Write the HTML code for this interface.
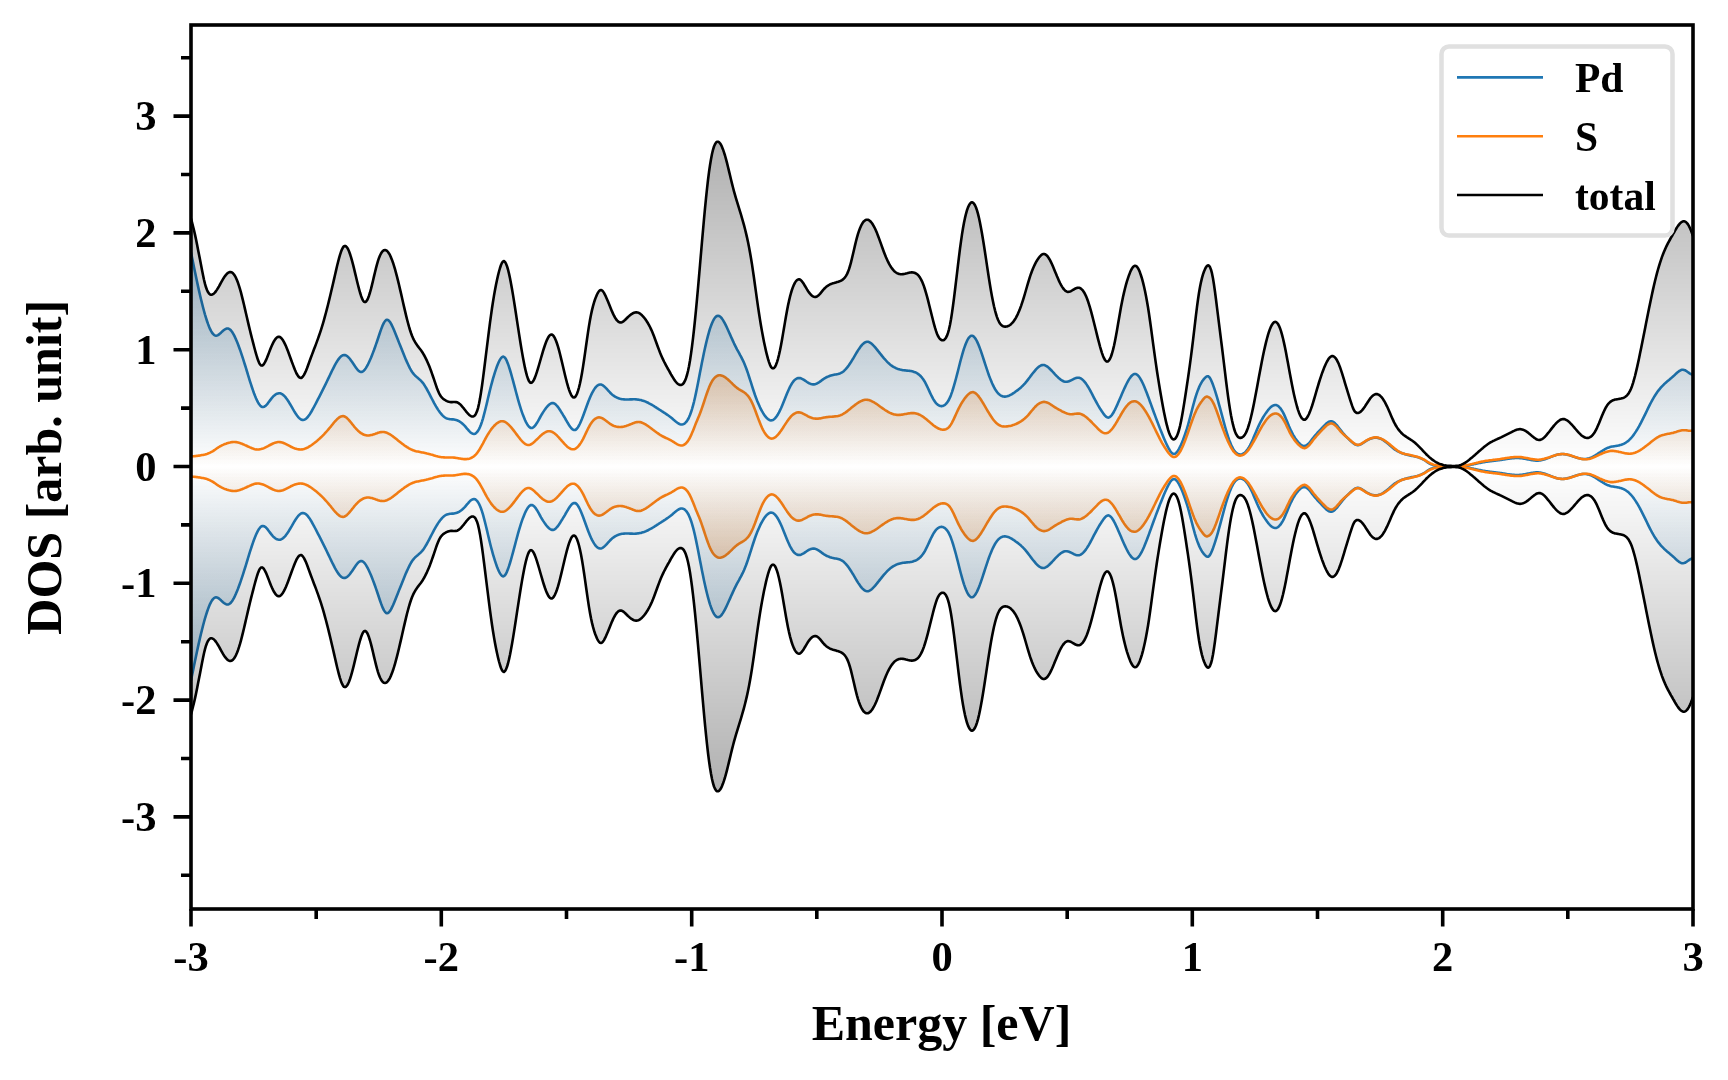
<!DOCTYPE html><html><head><meta charset="utf-8"><style>html,body{margin:0;padding:0;background:#fff;width:1728px;height:1080px;overflow:hidden;position:relative}</style></head><body><svg width="1728" height="1080" viewBox="0 0 1728 1080" style="position:absolute;left:0;top:0;will-change:transform">
<defs>
<clipPath id="clip"><rect x="191.0" y="25.0" width="1502.0" height="884.0"/></clipPath>
<linearGradient id="gT" gradientUnits="userSpaceOnUse" x1="0" y1="141.5" x2="0" y2="791.5"><stop offset="0" stop-color="#000000" stop-opacity="0.31"/><stop offset="0.5" stop-color="#000000" stop-opacity="0"/><stop offset="1" stop-color="#000000" stop-opacity="0.31"/></linearGradient>
<linearGradient id="gP" gradientUnits="userSpaceOnUse" x1="0" y1="251.5" x2="0" y2="681.5"><stop offset="0" stop-color="#1f77b4" stop-opacity="0.28"/><stop offset="0.5" stop-color="#1f77b4" stop-opacity="0"/><stop offset="1" stop-color="#1f77b4" stop-opacity="0.28"/></linearGradient>
<linearGradient id="gS" gradientUnits="userSpaceOnUse" x1="0" y1="375.5" x2="0" y2="557.5"><stop offset="0" stop-color="#ff7f0e" stop-opacity="0.25"/><stop offset="0.5" stop-color="#ff7f0e" stop-opacity="0"/><stop offset="1" stop-color="#ff7f0e" stop-opacity="0.25"/></linearGradient>
</defs>
<g clip-path="url(#clip)">
<path d="M191,252.5 L192,257.4 L193,262.3 L194,267.2 L195,272 L196,276.8 L197,281.5 L198,286.1 L199,290.6 L200,295 L201,299.2 L202,303.3 L203,307.3 L204,311 L205,314.6 L206,317.9 L207,321 L208,323.9 L209,326.5 L210,328.9 L211,330.9 L212,332.6 L213,333.9 L214,334.9 L215,335.5 L216,335.7 L217,335.5 L218,335.1 L219,334.4 L220,333.6 L221,332.7 L222,331.7 L223,330.8 L224,330 L225,329.3 L226,328.8 L227,328.5 L228,328.5 L229,328.9 L230,329.5 L231,330.5 L232,331.8 L233,333.4 L234,335.2 L235,337.2 L236,339.4 L237,341.8 L238,344.3 L239,347 L240,349.7 L241,352.6 L242,355.6 L243,358.7 L244,361.8 L245,365 L246,368.2 L247,371.5 L248,374.8 L249,378.1 L250,381.3 L251,384.4 L252,387.5 L253,390.4 L254,393.2 L255,395.8 L256,398.2 L257,400.4 L258,402.4 L259,404 L260,405.3 L261,406.3 L262,406.9 L263,407 L264,406.8 L265,406.2 L266,405.4 L267,404.3 L268,403.1 L269,401.7 L270,400.4 L271,399.1 L272,397.8 L273,396.7 L274,395.7 L275,394.9 L276,394.2 L277,393.7 L278,393.4 L279,393.2 L280,393.3 L281,393.6 L282,394.1 L283,394.8 L284,395.7 L285,396.7 L286,397.9 L287,399.3 L288,400.7 L289,402.3 L290,404 L291,405.7 L292,407.4 L293,409.2 L294,410.9 L295,412.5 L296,414.1 L297,415.5 L298,416.8 L299,417.9 L300,418.8 L301,419.5 L302,419.9 L303,420 L304,419.8 L305,419.4 L306,418.7 L307,417.8 L308,416.6 L309,415.3 L310,413.9 L311,412.3 L312,410.5 L313,408.7 L314,406.9 L315,405 L316,403.1 L317,401.2 L318,399.2 L319,397.3 L320,395.3 L321,393.3 L322,391.3 L323,389.3 L324,387.3 L325,385.3 L326,383.3 L327,381.2 L328,379.1 L329,377.1 L330,375 L331,372.9 L332,370.8 L333,368.8 L334,366.8 L335,364.9 L336,363.1 L337,361.5 L338,359.9 L339,358.6 L340,357.4 L341,356.4 L342,355.7 L343,355.2 L344,355 L345,355.1 L346,355.4 L347,356 L348,356.9 L349,357.9 L350,359 L351,360.4 L352,361.8 L353,363.3 L354,364.8 L355,366.3 L356,367.7 L357,369.1 L358,370.2 L359,371.1 L360,371.7 L361,372 L362,371.9 L363,371.4 L364,370.5 L365,369.4 L366,367.9 L367,366.2 L368,364.3 L369,362.2 L370,360 L371,357.7 L372,355.2 L373,352.6 L374,350 L375,347.2 L376,344.4 L377,341.5 L378,338.5 L379,335.5 L380,332.5 L381,329.6 L382,327 L383,324.6 L384,322.6 L385,321.1 L386,320.1 L387,319.8 L388,320 L389,320.8 L390,322 L391,323.6 L392,325.6 L393,327.7 L394,330.1 L395,332.5 L396,335 L397,337.5 L398,340 L399,342.6 L400,345.1 L401,347.6 L402,350.1 L403,352.6 L404,355.1 L405,357.5 L406,359.9 L407,362.1 L408,364.3 L409,366.4 L410,368.4 L411,370.2 L412,371.8 L413,373.2 L414,374.4 L415,375.5 L416,376.4 L417,377.3 L418,378.1 L419,379 L420,379.9 L421,380.8 L422,381.9 L423,383.1 L424,384.5 L425,386.1 L426,387.7 L427,389.5 L428,391.3 L429,393.2 L430,395.2 L431,397.1 L432,399 L433,400.9 L434,402.8 L435,404.6 L436,406.4 L437,408 L438,409.6 L439,411.1 L440,412.5 L441,413.7 L442,414.9 L443,415.9 L444,416.8 L445,417.5 L446,418.1 L447,418.5 L448,418.8 L449,419 L450,419.2 L451,419.3 L452,419.4 L453,419.4 L454,419.5 L455,419.7 L456,419.9 L457,420.3 L458,420.7 L459,421.2 L460,421.8 L461,422.5 L462,423.3 L463,424.2 L464,425.2 L465,426.2 L466,427.4 L467,428.6 L468,429.7 L469,430.9 L470,431.9 L471,432.7 L472,433.4 L473,433.8 L474,434 L475,433.8 L476,433.2 L477,432.2 L478,430.8 L479,429.1 L480,427 L481,424.5 L482,421.6 L483,418.3 L484,414.7 L485,410.8 L486,406.8 L487,402.6 L488,398.3 L489,394.1 L490,390 L491,386 L492,382.3 L493,378.7 L494,375.3 L495,372.1 L496,369.1 L497,366.3 L498,363.8 L499,361.5 L500,359.6 L501,358.1 L502,357.1 L503,356.6 L504,356.9 L505,357.8 L506,359.3 L507,361.4 L508,363.9 L509,366.8 L510,370 L511,373.4 L512,377 L513,380.6 L514,384.4 L515,388.2 L516,392 L517,395.7 L518,399.3 L519,402.8 L520,406.1 L521,409.3 L522,412.3 L523,415.1 L524,417.6 L525,420 L526,422.1 L527,423.9 L528,425.5 L529,426.7 L530,427.5 L531,428 L532,428 L533,427.6 L534,426.8 L535,425.7 L536,424.4 L537,422.8 L538,421.1 L539,419.3 L540,417.5 L541,415.7 L542,414 L543,412.4 L544,410.9 L545,409.4 L546,408 L547,406.8 L548,405.7 L549,404.8 L550,404 L551,403.4 L552,403.1 L553,403.1 L554,403.3 L555,403.9 L556,404.8 L557,405.8 L558,407.1 L559,408.5 L560,410 L561,411.6 L562,413.2 L563,414.9 L564,416.5 L565,418.2 L566,420 L567,421.7 L568,423.3 L569,425 L570,426.5 L571,427.8 L572,428.9 L573,429.6 L574,430 L575,430 L576,429.5 L577,428.5 L578,427.2 L579,425.5 L580,423.5 L581,421.2 L582,418.8 L583,416.2 L584,413.5 L585,410.8 L586,408 L587,405.2 L588,402.5 L589,399.9 L590,397.5 L591,395.2 L592,393.1 L593,391.3 L594,389.6 L595,388.1 L596,386.9 L597,385.9 L598,385.2 L599,384.7 L600,384.5 L601,384.5 L602,384.9 L603,385.4 L604,386.2 L605,387.1 L606,388.1 L607,389.2 L608,390.3 L609,391.4 L610,392.5 L611,393.5 L612,394.4 L613,395.2 L614,395.9 L615,396.6 L616,397.1 L617,397.6 L618,398.1 L619,398.4 L620,398.8 L621,399 L622,399.2 L623,399.3 L624,399.4 L625,399.5 L626,399.5 L627,399.5 L628,399.5 L629,399.5 L630,399.4 L631,399.4 L632,399.4 L633,399.3 L634,399.3 L635,399.3 L636,399.4 L637,399.5 L638,399.6 L639,399.7 L640,399.9 L641,400.1 L642,400.4 L643,400.7 L644,401 L645,401.4 L646,401.8 L647,402.3 L648,402.7 L649,403.3 L650,403.8 L651,404.3 L652,404.9 L653,405.5 L654,406.1 L655,406.8 L656,407.4 L657,408.1 L658,408.7 L659,409.4 L660,410 L661,410.6 L662,411.3 L663,411.9 L664,412.6 L665,413.2 L666,413.9 L667,414.6 L668,415.3 L669,416 L670,416.7 L671,417.5 L672,418.3 L673,419.2 L674,420.1 L675,420.9 L676,421.8 L677,422.5 L678,423.2 L679,423.8 L680,424.2 L681,424.5 L682,424.5 L683,424.3 L684,423.9 L685,423.2 L686,422.2 L687,420.9 L688,419.3 L689,417.3 L690,415 L691,412.3 L692,409.1 L693,405.6 L694,401.8 L695,397.5 L696,392.9 L697,388 L698,382.9 L699,377.7 L700,372.5 L701,367.4 L702,362.3 L703,357.4 L704,352.6 L705,348 L706,343.6 L707,339.5 L708,335.6 L709,332 L710,328.7 L711,325.8 L712,323.2 L713,321 L714,319.1 L715,317.6 L716,316.6 L717,315.9 L718,315.7 L719,315.9 L720,316.5 L721,317.4 L722,318.6 L723,320.1 L724,321.8 L725,323.7 L726,325.7 L727,327.8 L728,330 L729,332.2 L730,334.4 L731,336.7 L732,338.9 L733,341.1 L734,343.3 L735,345.3 L736,347.3 L737,349.3 L738,351.1 L739,352.9 L740,354.8 L741,356.6 L742,358.6 L743,360.6 L744,362.8 L745,365.2 L746,367.7 L747,370.5 L748,373.4 L749,376.5 L750,379.6 L751,382.7 L752,385.9 L753,389 L754,392 L755,395 L756,397.7 L757,400.4 L758,402.8 L759,405.1 L760,407.3 L761,409.3 L762,411.2 L763,412.9 L764,414.5 L765,415.9 L766,417.2 L767,418.3 L768,419.1 L769,419.8 L770,420.2 L771,420.4 L772,420.3 L773,420 L774,419.3 L775,418.4 L776,417.2 L777,415.8 L778,414.2 L779,412.4 L780,410.4 L781,408.3 L782,406 L783,403.6 L784,401.1 L785,398.6 L786,396.1 L787,393.6 L788,391.2 L789,389 L790,386.9 L791,385 L792,383.3 L793,381.9 L794,380.7 L795,379.7 L796,379 L797,378.4 L798,378.1 L799,378 L800,378.1 L801,378.3 L802,378.8 L803,379.3 L804,379.9 L805,380.6 L806,381.3 L807,382 L808,382.6 L809,383.2 L810,383.6 L811,384 L812,384.3 L813,384.4 L814,384.4 L815,384.3 L816,383.9 L817,383.5 L818,382.9 L819,382.3 L820,381.6 L821,380.9 L822,380.1 L823,379.4 L824,378.7 L825,378.1 L826,377.5 L827,377 L828,376.6 L829,376.2 L830,375.8 L831,375.5 L832,375.2 L833,375 L834,374.8 L835,374.6 L836,374.4 L837,374.2 L838,374 L839,373.7 L840,373.4 L841,372.9 L842,372.4 L843,371.7 L844,370.9 L845,369.9 L846,368.9 L847,367.7 L848,366.4 L849,365 L850,363.5 L851,362 L852,360.4 L853,358.8 L854,357.1 L855,355.4 L856,353.7 L857,352 L858,350.4 L859,348.9 L860,347.5 L861,346.1 L862,344.9 L863,343.9 L864,343.1 L865,342.4 L866,342 L867,341.8 L868,341.8 L869,342.1 L870,342.6 L871,343.3 L872,344.1 L873,345 L874,346.1 L875,347.2 L876,348.4 L877,349.6 L878,350.9 L879,352.1 L880,353.4 L881,354.6 L882,355.9 L883,357.1 L884,358.3 L885,359.4 L886,360.5 L887,361.6 L888,362.6 L889,363.5 L890,364.4 L891,365.2 L892,365.9 L893,366.6 L894,367.2 L895,367.7 L896,368.2 L897,368.6 L898,369 L899,369.3 L900,369.6 L901,369.8 L902,370 L903,370.2 L904,370.3 L905,370.4 L906,370.5 L907,370.6 L908,370.7 L909,370.8 L910,370.9 L911,371.1 L912,371.3 L913,371.6 L914,371.9 L915,372.2 L916,372.7 L917,373.2 L918,373.9 L919,374.6 L920,375.5 L921,376.5 L922,377.7 L923,379 L924,380.5 L925,382.2 L926,384.1 L927,386.1 L928,388.2 L929,390.4 L930,392.6 L931,394.7 L932,396.7 L933,398.6 L934,400.3 L935,401.8 L936,403.1 L937,404.1 L938,404.9 L939,405.5 L940,405.9 L941,406.1 L942,406.1 L943,405.9 L944,405.4 L945,404.8 L946,403.9 L947,402.7 L948,401.3 L949,399.5 L950,397.4 L951,394.9 L952,392.1 L953,389 L954,385.7 L955,382.2 L956,378.5 L957,374.6 L958,370.7 L959,366.8 L960,362.8 L961,359 L962,355.3 L963,351.9 L964,348.7 L965,345.8 L966,343.2 L967,340.9 L968,339 L969,337.6 L970,336.5 L971,335.8 L972,335.7 L973,336 L974,336.8 L975,338 L976,339.5 L977,341.4 L978,343.6 L979,346 L980,348.6 L981,351.4 L982,354.4 L983,357.4 L984,360.5 L985,363.6 L986,366.7 L987,369.7 L988,372.7 L989,375.5 L990,378.1 L991,380.6 L992,383 L993,385.2 L994,387.2 L995,389 L996,390.6 L997,392 L998,393.2 L999,394.1 L1000,395 L1001,395.6 L1002,396.1 L1003,396.4 L1004,396.6 L1005,396.6 L1006,396.5 L1007,396.3 L1008,396 L1009,395.7 L1010,395.2 L1011,394.7 L1012,394.1 L1013,393.4 L1014,392.8 L1015,392.1 L1016,391.3 L1017,390.6 L1018,389.9 L1019,389.1 L1020,388.2 L1021,387.4 L1022,386.4 L1023,385.5 L1024,384.4 L1025,383.3 L1026,382.1 L1027,380.9 L1028,379.6 L1029,378.3 L1030,377 L1031,375.6 L1032,374.3 L1033,373 L1034,371.8 L1035,370.6 L1036,369.4 L1037,368.4 L1038,367.4 L1039,366.6 L1040,366 L1041,365.4 L1042,365.1 L1043,365 L1044,365 L1045,365.3 L1046,365.8 L1047,366.4 L1048,367.1 L1049,368 L1050,369 L1051,370 L1052,371 L1053,372.1 L1054,373.2 L1055,374.3 L1056,375.3 L1057,376.4 L1058,377.3 L1059,378.3 L1060,379.1 L1061,379.9 L1062,380.5 L1063,381 L1064,381.5 L1065,381.7 L1066,381.8 L1067,381.8 L1068,381.6 L1069,381.2 L1070,380.8 L1071,380.3 L1072,379.8 L1073,379.3 L1074,378.8 L1075,378.4 L1076,378 L1077,377.8 L1078,377.7 L1079,377.8 L1080,378.1 L1081,378.5 L1082,379.2 L1083,380.1 L1084,381.1 L1085,382.3 L1086,383.6 L1087,385.1 L1088,386.7 L1089,388.4 L1090,390.2 L1091,392 L1092,393.9 L1093,395.8 L1094,397.8 L1095,399.7 L1096,401.5 L1097,403.3 L1098,405.1 L1099,406.8 L1100,408.5 L1101,410 L1102,411.6 L1103,413 L1104,414.4 L1105,415.6 L1106,416.6 L1107,417.3 L1108,417.6 L1109,417.5 L1110,416.9 L1111,416 L1112,414.8 L1113,413.3 L1114,411.5 L1115,409.6 L1116,407.5 L1117,405.4 L1118,403.1 L1119,400.8 L1120,398.5 L1121,396.2 L1122,393.8 L1123,391.5 L1124,389.3 L1125,387.1 L1126,385 L1127,383 L1128,381.1 L1129,379.4 L1130,377.9 L1131,376.5 L1132,375.5 L1133,374.6 L1134,374.1 L1135,373.9 L1136,374.1 L1137,374.6 L1138,375.5 L1139,376.6 L1140,378.1 L1141,379.8 L1142,381.7 L1143,383.8 L1144,386 L1145,388.4 L1146,390.9 L1147,393.5 L1148,396.2 L1149,398.9 L1150,401.7 L1151,404.4 L1152,407.2 L1153,410 L1154,412.7 L1155,415.4 L1156,418.1 L1157,420.7 L1158,423.4 L1159,426 L1160,428.6 L1161,431.1 L1162,433.6 L1163,436.1 L1164,438.5 L1165,440.8 L1166,443 L1167,445.1 L1168,447.1 L1169,449 L1170,450.7 L1171,452 L1172,453.1 L1173,453.7 L1174,453.9 L1175,453.7 L1176,452.9 L1177,451.9 L1178,450.5 L1179,448.8 L1180,446.8 L1181,444.7 L1182,442.4 L1183,440 L1184,437.3 L1185,434.5 L1186,431.5 L1187,428.4 L1188,425 L1189,421.4 L1190,417.7 L1191,413.9 L1192,410 L1193,406.2 L1194,402.5 L1195,398.9 L1196,395.6 L1197,392.6 L1198,389.9 L1199,387.4 L1200,385.3 L1201,383.3 L1202,381.6 L1203,380.2 L1204,378.9 L1205,377.8 L1206,376.8 L1207,376.3 L1208,376.2 L1209,376.8 L1210,378.1 L1211,379.9 L1212,382.2 L1213,384.8 L1214,387.7 L1215,390.7 L1216,393.9 L1217,397.2 L1218,400.7 L1219,404.3 L1220,407.9 L1221,411.7 L1222,415.4 L1223,419.2 L1224,422.9 L1225,426.5 L1226,430 L1227,433.3 L1228,436.5 L1229,439.4 L1230,442.1 L1231,444.5 L1232,446.7 L1233,448.6 L1234,450.2 L1235,451.6 L1236,452.6 L1237,453.4 L1238,454 L1239,454.4 L1240,454.5 L1241,454.5 L1242,454.2 L1243,453.8 L1244,453.2 L1245,452.4 L1246,451.4 L1247,450.2 L1248,448.8 L1249,447.2 L1250,445.4 L1251,443.4 L1252,441.2 L1253,439 L1254,436.6 L1255,434.3 L1256,431.9 L1257,429.5 L1258,427.3 L1259,425.1 L1260,423 L1261,421.1 L1262,419.3 L1263,417.5 L1264,415.9 L1265,414.4 L1266,412.9 L1267,411.5 L1268,410.2 L1269,409 L1270,407.9 L1271,406.9 L1272,406.2 L1273,405.6 L1274,405.2 L1275,405 L1276,405 L1277,405.4 L1278,405.9 L1279,406.8 L1280,407.8 L1281,409.1 L1282,410.7 L1283,412.4 L1284,414.4 L1285,416.6 L1286,418.9 L1287,421.3 L1288,423.7 L1289,426.2 L1290,428.5 L1291,430.7 L1292,432.7 L1293,434.6 L1294,436.3 L1295,437.9 L1296,439.4 L1297,440.7 L1298,441.9 L1299,443 L1300,444 L1301,444.8 L1302,445.4 L1303,445.8 L1304,446 L1305,445.9 L1306,445.6 L1307,444.9 L1308,444.1 L1309,443.1 L1310,442 L1311,440.7 L1312,439.4 L1313,438.2 L1314,436.9 L1315,435.7 L1316,434.5 L1317,433.4 L1318,432.2 L1319,431.2 L1320,430.1 L1321,429 L1322,427.9 L1323,426.9 L1324,425.8 L1325,424.8 L1326,423.8 L1327,423 L1328,422.3 L1329,421.7 L1330,421.4 L1331,421.3 L1332,421.4 L1333,421.8 L1334,422.4 L1335,423.3 L1336,424.3 L1337,425.4 L1338,426.7 L1339,428 L1340,429.3 L1341,430.6 L1342,431.9 L1343,433.1 L1344,434.2 L1345,435.3 L1346,436.4 L1347,437.4 L1348,438.4 L1349,439.3 L1350,440.3 L1351,441.2 L1352,442.1 L1353,443 L1354,443.7 L1355,444.3 L1356,444.8 L1357,445.1 L1358,445.1 L1359,445 L1360,444.6 L1361,444.2 L1362,443.6 L1363,443 L1364,442.3 L1365,441.7 L1366,441 L1367,440.4 L1368,439.9 L1369,439.4 L1370,438.9 L1371,438.5 L1372,438.2 L1373,438 L1374,437.8 L1375,437.7 L1376,437.7 L1377,437.7 L1378,437.9 L1379,438.2 L1380,438.5 L1381,438.9 L1382,439.4 L1383,440 L1384,440.7 L1385,441.4 L1386,442.1 L1387,442.9 L1388,443.8 L1389,444.6 L1390,445.5 L1391,446.4 L1392,447.3 L1393,448.1 L1394,448.9 L1395,449.6 L1396,450.2 L1397,450.8 L1398,451.4 L1399,451.9 L1400,452.4 L1401,452.8 L1402,453.2 L1403,453.5 L1404,453.8 L1405,454.2 L1406,454.4 L1407,454.7 L1408,455 L1409,455.2 L1410,455.4 L1411,455.7 L1412,455.9 L1413,456.1 L1414,456.3 L1415,456.5 L1416,456.8 L1417,457 L1418,457.3 L1419,457.6 L1420,458 L1421,458.3 L1422,458.8 L1423,459.3 L1424,459.9 L1425,460.5 L1426,461.2 L1427,461.9 L1428,462.6 L1429,463.3 L1430,463.8 L1431,464.2 L1432,464.6 L1433,464.9 L1434,465.2 L1435,465.4 L1436,465.6 L1437,465.7 L1438,465.8 L1439,465.8 L1440,465.9 L1441,465.9 L1442,465.9 L1443,466 L1444,466 L1445,466.1 L1446,466.2 L1447,466.2 L1448,466.3 L1449,466.3 L1450,466.4 L1451,466.5 L1452,466.5 L1453,466.5 L1454,466.5 L1455,466.5 L1456,466.5 L1457,466.5 L1458,466.5 L1459,466.4 L1460,466.4 L1461,466.3 L1462,466.2 L1463,466.1 L1464,466 L1465,465.8 L1466,465.7 L1467,465.5 L1468,465.4 L1469,465.2 L1470,465 L1471,464.8 L1472,464.6 L1473,464.4 L1474,464.1 L1475,463.9 L1476,463.7 L1477,463.5 L1478,463.3 L1479,463.1 L1480,462.9 L1481,462.7 L1482,462.5 L1483,462.3 L1484,462.1 L1485,462 L1486,461.8 L1487,461.7 L1488,461.5 L1489,461.4 L1490,461.3 L1491,461.1 L1492,461 L1493,460.9 L1494,460.8 L1495,460.7 L1496,460.5 L1497,460.4 L1498,460.3 L1499,460.2 L1500,460 L1501,459.9 L1502,459.7 L1503,459.6 L1504,459.4 L1505,459.2 L1506,459.1 L1507,458.9 L1508,458.8 L1509,458.6 L1510,458.5 L1511,458.4 L1512,458.3 L1513,458.2 L1514,458.1 L1515,458 L1516,458 L1517,458 L1518,458 L1519,458 L1520,458.1 L1521,458.2 L1522,458.3 L1523,458.5 L1524,458.6 L1525,458.8 L1526,459 L1527,459.2 L1528,459.4 L1529,459.6 L1530,459.8 L1531,460 L1532,460.1 L1533,460.3 L1534,460.4 L1535,460.5 L1536,460.6 L1537,460.6 L1538,460.6 L1539,460.5 L1540,460.4 L1541,460.2 L1542,460 L1543,459.8 L1544,459.5 L1545,459.2 L1546,458.8 L1547,458.4 L1548,458.1 L1549,457.7 L1550,457.3 L1551,456.9 L1552,456.5 L1553,456.1 L1554,455.7 L1555,455.4 L1556,455.1 L1557,454.8 L1558,454.5 L1559,454.3 L1560,454.2 L1561,454.1 L1562,454 L1563,454 L1564,454.1 L1565,454.2 L1566,454.4 L1567,454.6 L1568,454.9 L1569,455.1 L1570,455.4 L1571,455.7 L1572,456.1 L1573,456.4 L1574,456.7 L1575,457.1 L1576,457.4 L1577,457.7 L1578,458 L1579,458.3 L1580,458.5 L1581,458.7 L1582,458.9 L1583,459 L1584,459 L1585,459 L1586,459 L1587,458.8 L1588,458.6 L1589,458.4 L1590,458 L1591,457.6 L1592,457.2 L1593,456.7 L1594,456.1 L1595,455.5 L1596,454.9 L1597,454.3 L1598,453.6 L1599,452.9 L1600,452.3 L1601,451.6 L1602,451 L1603,450.4 L1604,449.8 L1605,449.2 L1606,448.7 L1607,448.2 L1608,447.7 L1609,447.4 L1610,447.1 L1611,446.8 L1612,446.6 L1613,446.4 L1614,446.2 L1615,446.1 L1616,445.9 L1617,445.7 L1618,445.6 L1619,445.4 L1620,445.1 L1621,444.9 L1622,444.5 L1623,444.1 L1624,443.7 L1625,443.2 L1626,442.5 L1627,441.8 L1628,441.1 L1629,440.2 L1630,439.2 L1631,438.1 L1632,437 L1633,435.7 L1634,434.4 L1635,432.9 L1636,431.4 L1637,429.8 L1638,428.1 L1639,426.4 L1640,424.5 L1641,422.7 L1642,420.7 L1643,418.7 L1644,416.7 L1645,414.6 L1646,412.6 L1647,410.5 L1648,408.4 L1649,406.4 L1650,404.4 L1651,402.5 L1652,400.6 L1653,398.8 L1654,397.1 L1655,395.5 L1656,394 L1657,392.5 L1658,391.1 L1659,389.8 L1660,388.6 L1661,387.4 L1662,386.3 L1663,385.3 L1664,384.3 L1665,383.4 L1666,382.5 L1667,381.6 L1668,380.8 L1669,380 L1670,379.1 L1671,378.3 L1672,377.4 L1673,376.5 L1674,375.6 L1675,374.7 L1676,373.7 L1677,372.8 L1678,372 L1679,371.2 L1680,370.6 L1681,370.1 L1682,369.8 L1683,369.7 L1684,369.9 L1685,370.2 L1686,370.8 L1687,371.5 L1688,372.2 L1689,372.9 L1690,373.6 L1691,374.1 L1692,374.6 L1693,375" fill="none" stroke="#1f77b4" stroke-width="2.6" stroke-linejoin="round"/>
<path d="M191,680.5 L192,675.6 L193,670.7 L194,665.8 L195,661 L196,656.2 L197,651.5 L198,646.9 L199,642.4 L200,638 L201,633.8 L202,629.7 L203,625.7 L204,622 L205,618.4 L206,615.1 L207,612 L208,609.1 L209,606.5 L210,604.1 L211,602.1 L212,600.4 L213,599.1 L214,598.1 L215,597.5 L216,597.3 L217,597.5 L218,597.9 L219,598.6 L220,599.4 L221,600.3 L222,601.3 L223,602.2 L224,603 L225,603.7 L226,604.2 L227,604.5 L228,604.5 L229,604.1 L230,603.5 L231,602.5 L232,601.2 L233,599.6 L234,597.8 L235,595.8 L236,593.6 L237,591.2 L238,588.7 L239,586 L240,583.3 L241,580.4 L242,577.4 L243,574.3 L244,571.2 L245,568 L246,564.8 L247,561.5 L248,558.2 L249,554.9 L250,551.7 L251,548.6 L252,545.5 L253,542.6 L254,539.8 L255,537.2 L256,534.8 L257,532.6 L258,530.6 L259,529 L260,527.7 L261,526.7 L262,526.1 L263,526 L264,526.2 L265,526.8 L266,527.6 L267,528.7 L268,529.9 L269,531.3 L270,532.6 L271,533.9 L272,535.2 L273,536.3 L274,537.3 L275,538.1 L276,538.8 L277,539.3 L278,539.6 L279,539.8 L280,539.7 L281,539.4 L282,538.9 L283,538.2 L284,537.3 L285,536.3 L286,535.1 L287,533.7 L288,532.3 L289,530.7 L290,529 L291,527.3 L292,525.6 L293,523.8 L294,522.1 L295,520.5 L296,518.9 L297,517.5 L298,516.2 L299,515.1 L300,514.2 L301,513.5 L302,513.1 L303,513 L304,513.2 L305,513.6 L306,514.3 L307,515.2 L308,516.4 L309,517.7 L310,519.1 L311,520.7 L312,522.5 L313,524.3 L314,526.1 L315,528 L316,529.9 L317,531.8 L318,533.8 L319,535.7 L320,537.7 L321,539.7 L322,541.7 L323,543.7 L324,545.7 L325,547.7 L326,549.7 L327,551.8 L328,553.9 L329,555.9 L330,558 L331,560.1 L332,562.2 L333,564.2 L334,566.2 L335,568.1 L336,569.9 L337,571.5 L338,573.1 L339,574.4 L340,575.6 L341,576.6 L342,577.3 L343,577.8 L344,578 L345,577.9 L346,577.6 L347,577 L348,576.1 L349,575.1 L350,574 L351,572.6 L352,571.2 L353,569.7 L354,568.2 L355,566.7 L356,565.3 L357,563.9 L358,562.8 L359,561.9 L360,561.3 L361,561 L362,561.1 L363,561.6 L364,562.5 L365,563.6 L366,565.1 L367,566.8 L368,568.7 L369,570.8 L370,573 L371,575.3 L372,577.8 L373,580.4 L374,583 L375,585.8 L376,588.6 L377,591.5 L378,594.5 L379,597.5 L380,600.5 L381,603.4 L382,606 L383,608.4 L384,610.4 L385,611.9 L386,612.9 L387,613.2 L388,613 L389,612.2 L390,611 L391,609.4 L392,607.4 L393,605.3 L394,602.9 L395,600.5 L396,598 L397,595.5 L398,593 L399,590.4 L400,587.9 L401,585.4 L402,582.9 L403,580.4 L404,577.9 L405,575.5 L406,573.1 L407,570.9 L408,568.7 L409,566.6 L410,564.6 L411,562.8 L412,561.2 L413,559.8 L414,558.6 L415,557.5 L416,556.6 L417,555.7 L418,554.9 L419,554 L420,553.1 L421,552.2 L422,551.1 L423,549.9 L424,548.5 L425,546.9 L426,545.3 L427,543.5 L428,541.7 L429,539.8 L430,537.8 L431,535.9 L432,534 L433,532.1 L434,530.2 L435,528.4 L436,526.6 L437,525 L438,523.4 L439,521.9 L440,520.5 L441,519.3 L442,518.1 L443,517.1 L444,516.2 L445,515.5 L446,514.9 L447,514.5 L448,514.2 L449,514 L450,513.8 L451,513.7 L452,513.6 L453,513.6 L454,513.5 L455,513.3 L456,513.1 L457,512.7 L458,512.3 L459,511.8 L460,511.2 L461,510.5 L462,509.7 L463,508.8 L464,507.8 L465,506.8 L466,505.6 L467,504.4 L468,503.3 L469,502.1 L470,501.1 L471,500.3 L472,499.6 L473,499.2 L474,499 L475,499.2 L476,499.8 L477,500.8 L478,502.2 L479,503.9 L480,506 L481,508.5 L482,511.4 L483,514.7 L484,518.3 L485,522.2 L486,526.2 L487,530.4 L488,534.7 L489,538.9 L490,543 L491,547 L492,550.7 L493,554.3 L494,557.7 L495,560.9 L496,563.9 L497,566.7 L498,569.2 L499,571.5 L500,573.4 L501,574.9 L502,575.9 L503,576.4 L504,576.1 L505,575.2 L506,573.7 L507,571.6 L508,569.1 L509,566.2 L510,563 L511,559.6 L512,556 L513,552.4 L514,548.6 L515,544.8 L516,541 L517,537.3 L518,533.7 L519,530.2 L520,526.9 L521,523.7 L522,520.7 L523,517.9 L524,515.4 L525,513 L526,510.9 L527,509.1 L528,507.5 L529,506.3 L530,505.5 L531,505 L532,505 L533,505.4 L534,506.2 L535,507.3 L536,508.6 L537,510.2 L538,511.9 L539,513.7 L540,515.5 L541,517.3 L542,519 L543,520.6 L544,522.1 L545,523.6 L546,525 L547,526.2 L548,527.3 L549,528.2 L550,529 L551,529.6 L552,529.9 L553,529.9 L554,529.7 L555,529.1 L556,528.2 L557,527.2 L558,525.9 L559,524.5 L560,523 L561,521.4 L562,519.8 L563,518.1 L564,516.5 L565,514.8 L566,513 L567,511.3 L568,509.7 L569,508 L570,506.5 L571,505.2 L572,504.1 L573,503.4 L574,503 L575,503 L576,503.5 L577,504.5 L578,505.8 L579,507.5 L580,509.5 L581,511.8 L582,514.2 L583,516.8 L584,519.5 L585,522.2 L586,525 L587,527.8 L588,530.5 L589,533.1 L590,535.5 L591,537.8 L592,539.9 L593,541.7 L594,543.4 L595,544.9 L596,546.1 L597,547.1 L598,547.8 L599,548.3 L600,548.5 L601,548.5 L602,548.1 L603,547.6 L604,546.8 L605,545.9 L606,544.9 L607,543.8 L608,542.7 L609,541.6 L610,540.5 L611,539.5 L612,538.6 L613,537.8 L614,537.1 L615,536.4 L616,535.9 L617,535.4 L618,534.9 L619,534.6 L620,534.2 L621,534 L622,533.8 L623,533.7 L624,533.6 L625,533.5 L626,533.5 L627,533.5 L628,533.5 L629,533.5 L630,533.6 L631,533.6 L632,533.6 L633,533.7 L634,533.7 L635,533.7 L636,533.6 L637,533.5 L638,533.4 L639,533.3 L640,533.1 L641,532.9 L642,532.6 L643,532.3 L644,532 L645,531.6 L646,531.2 L647,530.7 L648,530.3 L649,529.7 L650,529.2 L651,528.7 L652,528.1 L653,527.5 L654,526.9 L655,526.2 L656,525.6 L657,524.9 L658,524.3 L659,523.6 L660,523 L661,522.4 L662,521.7 L663,521.1 L664,520.4 L665,519.8 L666,519.1 L667,518.4 L668,517.7 L669,517 L670,516.3 L671,515.5 L672,514.7 L673,513.8 L674,512.9 L675,512.1 L676,511.2 L677,510.5 L678,509.8 L679,509.2 L680,508.8 L681,508.5 L682,508.5 L683,508.7 L684,509.1 L685,509.8 L686,510.8 L687,512.1 L688,513.7 L689,515.7 L690,518 L691,520.7 L692,523.9 L693,527.4 L694,531.2 L695,535.5 L696,540.1 L697,545 L698,550.1 L699,555.3 L700,560.5 L701,565.6 L702,570.7 L703,575.6 L704,580.4 L705,585 L706,589.4 L707,593.5 L708,597.4 L709,601 L710,604.3 L711,607.2 L712,609.8 L713,612 L714,613.9 L715,615.4 L716,616.4 L717,617.1 L718,617.3 L719,617.1 L720,616.5 L721,615.6 L722,614.4 L723,612.9 L724,611.2 L725,609.3 L726,607.3 L727,605.2 L728,603 L729,600.8 L730,598.6 L731,596.3 L732,594.1 L733,591.9 L734,589.7 L735,587.7 L736,585.7 L737,583.7 L738,581.9 L739,580.1 L740,578.2 L741,576.4 L742,574.4 L743,572.4 L744,570.2 L745,567.8 L746,565.3 L747,562.5 L748,559.6 L749,556.5 L750,553.4 L751,550.3 L752,547.1 L753,544 L754,541 L755,538 L756,535.3 L757,532.6 L758,530.2 L759,527.9 L760,525.7 L761,523.7 L762,521.8 L763,520.1 L764,518.5 L765,517.1 L766,515.8 L767,514.7 L768,513.9 L769,513.2 L770,512.8 L771,512.6 L772,512.7 L773,513 L774,513.7 L775,514.6 L776,515.8 L777,517.2 L778,518.8 L779,520.6 L780,522.6 L781,524.7 L782,527 L783,529.4 L784,531.9 L785,534.4 L786,536.9 L787,539.4 L788,541.8 L789,544 L790,546.1 L791,548 L792,549.7 L793,551.1 L794,552.3 L795,553.3 L796,554 L797,554.6 L798,554.9 L799,555 L800,554.9 L801,554.7 L802,554.2 L803,553.7 L804,553.1 L805,552.4 L806,551.7 L807,551 L808,550.4 L809,549.8 L810,549.4 L811,549 L812,548.7 L813,548.6 L814,548.6 L815,548.7 L816,549.1 L817,549.5 L818,550.1 L819,550.7 L820,551.4 L821,552.1 L822,552.9 L823,553.6 L824,554.3 L825,554.9 L826,555.5 L827,556 L828,556.4 L829,556.8 L830,557.2 L831,557.5 L832,557.8 L833,558 L834,558.2 L835,558.4 L836,558.6 L837,558.8 L838,559 L839,559.3 L840,559.6 L841,560.1 L842,560.6 L843,561.3 L844,562.1 L845,563.1 L846,564.1 L847,565.3 L848,566.6 L849,568 L850,569.5 L851,571 L852,572.6 L853,574.2 L854,575.9 L855,577.6 L856,579.3 L857,581 L858,582.6 L859,584.1 L860,585.5 L861,586.9 L862,588.1 L863,589.1 L864,589.9 L865,590.6 L866,591 L867,591.2 L868,591.2 L869,590.9 L870,590.4 L871,589.7 L872,588.9 L873,588 L874,586.9 L875,585.8 L876,584.6 L877,583.4 L878,582.1 L879,580.9 L880,579.6 L881,578.4 L882,577.1 L883,575.9 L884,574.7 L885,573.6 L886,572.5 L887,571.4 L888,570.4 L889,569.5 L890,568.6 L891,567.8 L892,567.1 L893,566.4 L894,565.8 L895,565.3 L896,564.8 L897,564.4 L898,564 L899,563.7 L900,563.4 L901,563.2 L902,563 L903,562.8 L904,562.7 L905,562.6 L906,562.5 L907,562.4 L908,562.3 L909,562.2 L910,562.1 L911,561.9 L912,561.7 L913,561.4 L914,561.1 L915,560.8 L916,560.3 L917,559.8 L918,559.1 L919,558.4 L920,557.5 L921,556.5 L922,555.3 L923,554 L924,552.5 L925,550.8 L926,548.9 L927,546.9 L928,544.8 L929,542.6 L930,540.4 L931,538.3 L932,536.3 L933,534.4 L934,532.7 L935,531.2 L936,529.9 L937,528.9 L938,528.1 L939,527.5 L940,527.1 L941,526.9 L942,526.9 L943,527.1 L944,527.6 L945,528.2 L946,529.1 L947,530.3 L948,531.7 L949,533.5 L950,535.6 L951,538.1 L952,540.9 L953,544 L954,547.3 L955,550.8 L956,554.5 L957,558.4 L958,562.3 L959,566.2 L960,570.2 L961,574 L962,577.7 L963,581.1 L964,584.3 L965,587.2 L966,589.8 L967,592.1 L968,594 L969,595.4 L970,596.5 L971,597.2 L972,597.3 L973,597 L974,596.2 L975,595 L976,593.5 L977,591.6 L978,589.4 L979,587 L980,584.4 L981,581.6 L982,578.6 L983,575.6 L984,572.5 L985,569.4 L986,566.3 L987,563.3 L988,560.3 L989,557.5 L990,554.9 L991,552.4 L992,550 L993,547.8 L994,545.8 L995,544 L996,542.4 L997,541 L998,539.8 L999,538.9 L1000,538 L1001,537.4 L1002,536.9 L1003,536.6 L1004,536.4 L1005,536.4 L1006,536.5 L1007,536.7 L1008,537 L1009,537.3 L1010,537.8 L1011,538.3 L1012,538.9 L1013,539.6 L1014,540.2 L1015,540.9 L1016,541.7 L1017,542.4 L1018,543.1 L1019,543.9 L1020,544.8 L1021,545.6 L1022,546.6 L1023,547.5 L1024,548.6 L1025,549.7 L1026,550.9 L1027,552.1 L1028,553.4 L1029,554.7 L1030,556 L1031,557.4 L1032,558.7 L1033,560 L1034,561.2 L1035,562.4 L1036,563.6 L1037,564.6 L1038,565.6 L1039,566.4 L1040,567 L1041,567.6 L1042,567.9 L1043,568 L1044,568 L1045,567.7 L1046,567.2 L1047,566.6 L1048,565.9 L1049,565 L1050,564 L1051,563 L1052,562 L1053,560.9 L1054,559.8 L1055,558.7 L1056,557.7 L1057,556.6 L1058,555.7 L1059,554.7 L1060,553.9 L1061,553.1 L1062,552.5 L1063,552 L1064,551.5 L1065,551.3 L1066,551.2 L1067,551.2 L1068,551.4 L1069,551.8 L1070,552.2 L1071,552.7 L1072,553.2 L1073,553.7 L1074,554.2 L1075,554.6 L1076,555 L1077,555.2 L1078,555.3 L1079,555.2 L1080,554.9 L1081,554.5 L1082,553.8 L1083,552.9 L1084,551.9 L1085,550.7 L1086,549.4 L1087,547.9 L1088,546.3 L1089,544.6 L1090,542.8 L1091,541 L1092,539.1 L1093,537.2 L1094,535.2 L1095,533.3 L1096,531.5 L1097,529.7 L1098,527.9 L1099,526.2 L1100,524.5 L1101,523 L1102,521.4 L1103,520 L1104,518.6 L1105,517.4 L1106,516.4 L1107,515.7 L1108,515.4 L1109,515.5 L1110,516.1 L1111,517 L1112,518.2 L1113,519.7 L1114,521.5 L1115,523.4 L1116,525.5 L1117,527.6 L1118,529.9 L1119,532.2 L1120,534.5 L1121,536.8 L1122,539.2 L1123,541.5 L1124,543.7 L1125,545.9 L1126,548 L1127,550 L1128,551.9 L1129,553.6 L1130,555.1 L1131,556.5 L1132,557.5 L1133,558.4 L1134,558.9 L1135,559.1 L1136,558.9 L1137,558.4 L1138,557.5 L1139,556.4 L1140,554.9 L1141,553.2 L1142,551.3 L1143,549.2 L1144,547 L1145,544.6 L1146,542.1 L1147,539.5 L1148,536.8 L1149,534.1 L1150,531.3 L1151,528.6 L1152,525.8 L1153,523 L1154,520.3 L1155,517.6 L1156,514.9 L1157,512.3 L1158,509.6 L1159,507 L1160,504.4 L1161,501.9 L1162,499.4 L1163,496.9 L1164,494.5 L1165,492.2 L1166,490 L1167,487.9 L1168,485.9 L1169,484 L1170,482.3 L1171,481 L1172,479.9 L1173,479.3 L1174,479.1 L1175,479.3 L1176,480.1 L1177,481.1 L1178,482.5 L1179,484.2 L1180,486.2 L1181,488.3 L1182,490.6 L1183,493 L1184,495.7 L1185,498.5 L1186,501.5 L1187,504.6 L1188,508 L1189,511.6 L1190,515.3 L1191,519.1 L1192,523 L1193,526.8 L1194,530.5 L1195,534.1 L1196,537.4 L1197,540.4 L1198,543.1 L1199,545.6 L1200,547.7 L1201,549.7 L1202,551.4 L1203,552.8 L1204,554.1 L1205,555.2 L1206,556.2 L1207,556.7 L1208,556.8 L1209,556.2 L1210,554.9 L1211,553.1 L1212,550.8 L1213,548.2 L1214,545.3 L1215,542.3 L1216,539.1 L1217,535.8 L1218,532.3 L1219,528.7 L1220,525.1 L1221,521.3 L1222,517.6 L1223,513.8 L1224,510.1 L1225,506.5 L1226,503 L1227,499.7 L1228,496.5 L1229,493.6 L1230,490.9 L1231,488.5 L1232,486.3 L1233,484.4 L1234,482.8 L1235,481.4 L1236,480.4 L1237,479.6 L1238,479 L1239,478.6 L1240,478.5 L1241,478.5 L1242,478.8 L1243,479.2 L1244,479.8 L1245,480.6 L1246,481.6 L1247,482.8 L1248,484.2 L1249,485.8 L1250,487.6 L1251,489.6 L1252,491.8 L1253,494 L1254,496.4 L1255,498.7 L1256,501.1 L1257,503.5 L1258,505.7 L1259,507.9 L1260,510 L1261,511.9 L1262,513.7 L1263,515.5 L1264,517.1 L1265,518.6 L1266,520.1 L1267,521.5 L1268,522.8 L1269,524 L1270,525.1 L1271,526.1 L1272,526.8 L1273,527.4 L1274,527.8 L1275,528 L1276,528 L1277,527.6 L1278,527.1 L1279,526.2 L1280,525.2 L1281,523.9 L1282,522.3 L1283,520.6 L1284,518.6 L1285,516.4 L1286,514.1 L1287,511.7 L1288,509.3 L1289,506.8 L1290,504.5 L1291,502.3 L1292,500.3 L1293,498.4 L1294,496.7 L1295,495.1 L1296,493.6 L1297,492.3 L1298,491.1 L1299,490 L1300,489 L1301,488.2 L1302,487.6 L1303,487.2 L1304,487 L1305,487.1 L1306,487.4 L1307,488.1 L1308,488.9 L1309,489.9 L1310,491 L1311,492.3 L1312,493.6 L1313,494.8 L1314,496.1 L1315,497.3 L1316,498.5 L1317,499.6 L1318,500.8 L1319,501.8 L1320,502.9 L1321,504 L1322,505.1 L1323,506.1 L1324,507.2 L1325,508.2 L1326,509.2 L1327,510 L1328,510.7 L1329,511.3 L1330,511.6 L1331,511.7 L1332,511.6 L1333,511.2 L1334,510.6 L1335,509.7 L1336,508.7 L1337,507.6 L1338,506.3 L1339,505 L1340,503.7 L1341,502.4 L1342,501.1 L1343,499.9 L1344,498.8 L1345,497.7 L1346,496.6 L1347,495.6 L1348,494.6 L1349,493.7 L1350,492.7 L1351,491.8 L1352,490.9 L1353,490 L1354,489.3 L1355,488.7 L1356,488.2 L1357,487.9 L1358,487.9 L1359,488 L1360,488.4 L1361,488.8 L1362,489.4 L1363,490 L1364,490.7 L1365,491.3 L1366,492 L1367,492.6 L1368,493.1 L1369,493.6 L1370,494.1 L1371,494.5 L1372,494.8 L1373,495 L1374,495.2 L1375,495.3 L1376,495.3 L1377,495.3 L1378,495.1 L1379,494.8 L1380,494.5 L1381,494.1 L1382,493.6 L1383,493 L1384,492.3 L1385,491.6 L1386,490.9 L1387,490.1 L1388,489.2 L1389,488.4 L1390,487.5 L1391,486.6 L1392,485.7 L1393,484.9 L1394,484.1 L1395,483.4 L1396,482.8 L1397,482.2 L1398,481.6 L1399,481.1 L1400,480.6 L1401,480.2 L1402,479.8 L1403,479.5 L1404,479.2 L1405,478.8 L1406,478.6 L1407,478.3 L1408,478 L1409,477.8 L1410,477.6 L1411,477.3 L1412,477.1 L1413,476.9 L1414,476.7 L1415,476.5 L1416,476.2 L1417,476 L1418,475.7 L1419,475.4 L1420,475 L1421,474.7 L1422,474.2 L1423,473.7 L1424,473.1 L1425,472.5 L1426,471.8 L1427,471.1 L1428,470.4 L1429,469.7 L1430,469.2 L1431,468.8 L1432,468.4 L1433,468.1 L1434,467.8 L1435,467.6 L1436,467.4 L1437,467.3 L1438,467.2 L1439,467.2 L1440,467.1 L1441,467.1 L1442,467.1 L1443,467 L1444,467 L1445,466.9 L1446,466.8 L1447,466.8 L1448,466.7 L1449,466.7 L1450,466.6 L1451,466.5 L1452,466.5 L1453,466.5 L1454,466.5 L1455,466.5 L1456,466.5 L1457,466.5 L1458,466.5 L1459,466.6 L1460,466.6 L1461,466.7 L1462,466.8 L1463,466.9 L1464,467 L1465,467.2 L1466,467.3 L1467,467.5 L1468,467.6 L1469,467.8 L1470,468 L1471,468.2 L1472,468.4 L1473,468.6 L1474,468.9 L1475,469.1 L1476,469.3 L1477,469.5 L1478,469.7 L1479,469.9 L1480,470.1 L1481,470.3 L1482,470.5 L1483,470.7 L1484,470.9 L1485,471 L1486,471.2 L1487,471.3 L1488,471.5 L1489,471.6 L1490,471.7 L1491,471.9 L1492,472 L1493,472.1 L1494,472.2 L1495,472.3 L1496,472.5 L1497,472.6 L1498,472.7 L1499,472.8 L1500,473 L1501,473.1 L1502,473.3 L1503,473.4 L1504,473.6 L1505,473.8 L1506,473.9 L1507,474.1 L1508,474.2 L1509,474.4 L1510,474.5 L1511,474.6 L1512,474.7 L1513,474.8 L1514,474.9 L1515,475 L1516,475 L1517,475 L1518,475 L1519,475 L1520,474.9 L1521,474.8 L1522,474.7 L1523,474.5 L1524,474.4 L1525,474.2 L1526,474 L1527,473.8 L1528,473.6 L1529,473.4 L1530,473.2 L1531,473 L1532,472.9 L1533,472.7 L1534,472.6 L1535,472.5 L1536,472.4 L1537,472.4 L1538,472.4 L1539,472.5 L1540,472.6 L1541,472.8 L1542,473 L1543,473.2 L1544,473.5 L1545,473.8 L1546,474.2 L1547,474.6 L1548,474.9 L1549,475.3 L1550,475.7 L1551,476.1 L1552,476.5 L1553,476.9 L1554,477.3 L1555,477.6 L1556,477.9 L1557,478.2 L1558,478.5 L1559,478.7 L1560,478.8 L1561,478.9 L1562,479 L1563,479 L1564,478.9 L1565,478.8 L1566,478.6 L1567,478.4 L1568,478.1 L1569,477.9 L1570,477.6 L1571,477.3 L1572,476.9 L1573,476.6 L1574,476.3 L1575,475.9 L1576,475.6 L1577,475.3 L1578,475 L1579,474.7 L1580,474.5 L1581,474.3 L1582,474.1 L1583,474 L1584,474 L1585,474 L1586,474 L1587,474.2 L1588,474.4 L1589,474.6 L1590,475 L1591,475.4 L1592,475.8 L1593,476.3 L1594,476.9 L1595,477.5 L1596,478.1 L1597,478.7 L1598,479.4 L1599,480.1 L1600,480.7 L1601,481.4 L1602,482 L1603,482.6 L1604,483.2 L1605,483.8 L1606,484.3 L1607,484.8 L1608,485.3 L1609,485.6 L1610,485.9 L1611,486.2 L1612,486.4 L1613,486.6 L1614,486.8 L1615,486.9 L1616,487.1 L1617,487.3 L1618,487.4 L1619,487.6 L1620,487.9 L1621,488.1 L1622,488.5 L1623,488.9 L1624,489.3 L1625,489.8 L1626,490.5 L1627,491.2 L1628,491.9 L1629,492.8 L1630,493.8 L1631,494.9 L1632,496 L1633,497.3 L1634,498.6 L1635,500.1 L1636,501.6 L1637,503.2 L1638,504.9 L1639,506.6 L1640,508.5 L1641,510.3 L1642,512.3 L1643,514.3 L1644,516.3 L1645,518.4 L1646,520.4 L1647,522.5 L1648,524.6 L1649,526.6 L1650,528.6 L1651,530.5 L1652,532.4 L1653,534.2 L1654,535.9 L1655,537.5 L1656,539 L1657,540.5 L1658,541.9 L1659,543.2 L1660,544.4 L1661,545.6 L1662,546.7 L1663,547.7 L1664,548.7 L1665,549.6 L1666,550.5 L1667,551.4 L1668,552.2 L1669,553 L1670,553.9 L1671,554.7 L1672,555.6 L1673,556.5 L1674,557.4 L1675,558.3 L1676,559.3 L1677,560.2 L1678,561 L1679,561.8 L1680,562.4 L1681,562.9 L1682,563.2 L1683,563.3 L1684,563.1 L1685,562.8 L1686,562.2 L1687,561.5 L1688,560.8 L1689,560.1 L1690,559.4 L1691,558.9 L1692,558.4 L1693,558" fill="none" stroke="#1f77b4" stroke-width="2.6" stroke-linejoin="round"/>
<path d="M191,456.5 L192,456.4 L193,456.3 L194,456.2 L195,456.1 L196,456 L197,455.9 L198,455.8 L199,455.6 L200,455.5 L201,455.3 L202,455.1 L203,454.9 L204,454.7 L205,454.5 L206,454.2 L207,453.9 L208,453.5 L209,453.1 L210,452.7 L211,452.2 L212,451.7 L213,451.1 L214,450.4 L215,449.7 L216,449 L217,448.3 L218,447.6 L219,447 L220,446.4 L221,445.8 L222,445.3 L223,444.9 L224,444.4 L225,444 L226,443.7 L227,443.3 L228,443 L229,442.7 L230,442.5 L231,442.2 L232,442.1 L233,442 L234,442 L235,442 L236,442.1 L237,442.3 L238,442.5 L239,442.7 L240,443.1 L241,443.4 L242,443.8 L243,444.2 L244,444.6 L245,445.1 L246,445.5 L247,446 L248,446.5 L249,446.9 L250,447.4 L251,447.8 L252,448.2 L253,448.6 L254,448.9 L255,449.2 L256,449.4 L257,449.5 L258,449.5 L259,449.5 L260,449.3 L261,449.1 L262,448.8 L263,448.5 L264,448.1 L265,447.6 L266,447.1 L267,446.6 L268,446.1 L269,445.5 L270,445 L271,444.5 L272,444 L273,443.5 L274,443.1 L275,442.7 L276,442.4 L277,442.2 L278,442 L279,442 L280,442.1 L281,442.2 L282,442.5 L283,442.8 L284,443.2 L285,443.7 L286,444.2 L287,444.7 L288,445.2 L289,445.7 L290,446.2 L291,446.8 L292,447.2 L293,447.7 L294,448.1 L295,448.5 L296,448.8 L297,449.1 L298,449.3 L299,449.4 L300,449.5 L301,449.5 L302,449.4 L303,449.2 L304,449 L305,448.6 L306,448.2 L307,447.8 L308,447.3 L309,446.7 L310,446.1 L311,445.5 L312,444.8 L313,444 L314,443.3 L315,442.5 L316,441.7 L317,440.9 L318,440 L319,439.1 L320,438.2 L321,437.3 L322,436.3 L323,435.3 L324,434.3 L325,433.2 L326,432.1 L327,431 L328,429.9 L329,428.7 L330,427.5 L331,426.3 L332,425 L333,423.8 L334,422.5 L335,421.4 L336,420.3 L337,419.3 L338,418.4 L339,417.6 L340,416.9 L341,416.5 L342,416.2 L343,416.1 L344,416.3 L345,416.7 L346,417.3 L347,418.1 L348,419.1 L349,420.1 L350,421.3 L351,422.5 L352,423.8 L353,425 L354,426.3 L355,427.5 L356,428.6 L357,429.7 L358,430.7 L359,431.6 L360,432.4 L361,433.1 L362,433.7 L363,434.3 L364,434.7 L365,435.1 L366,435.3 L367,435.5 L368,435.5 L369,435.5 L370,435.3 L371,435.1 L372,434.9 L373,434.6 L374,434.2 L375,433.9 L376,433.5 L377,433.2 L378,432.8 L379,432.6 L380,432.3 L381,432.1 L382,432 L383,432 L384,432 L385,432.2 L386,432.5 L387,432.8 L388,433.3 L389,433.8 L390,434.4 L391,435 L392,435.7 L393,436.4 L394,437.2 L395,438 L396,438.8 L397,439.6 L398,440.4 L399,441.2 L400,442 L401,442.8 L402,443.6 L403,444.3 L404,445.1 L405,445.8 L406,446.4 L407,447.1 L408,447.7 L409,448.3 L410,448.8 L411,449.3 L412,449.8 L413,450.2 L414,450.6 L415,450.9 L416,451.2 L417,451.4 L418,451.6 L419,451.8 L420,452 L421,452.2 L422,452.4 L423,452.6 L424,452.8 L425,453 L426,453.2 L427,453.5 L428,453.7 L429,454 L430,454.3 L431,454.6 L432,454.8 L433,455.1 L434,455.4 L435,455.7 L436,456 L437,456.2 L438,456.5 L439,456.7 L440,456.9 L441,457.1 L442,457.2 L443,457.3 L444,457.4 L445,457.5 L446,457.5 L447,457.5 L448,457.5 L449,457.5 L450,457.5 L451,457.5 L452,457.5 L453,457.5 L454,457.6 L455,457.8 L456,457.9 L457,458.1 L458,458.3 L459,458.4 L460,458.6 L461,458.8 L462,458.9 L463,459 L464,459.1 L465,459.1 L466,459.1 L467,459 L468,458.9 L469,458.7 L470,458.4 L471,458 L472,457.5 L473,456.9 L474,456.2 L475,455.3 L476,454.3 L477,453.1 L478,451.8 L479,450.3 L480,448.7 L481,446.9 L482,445.1 L483,443.3 L484,441.4 L485,439.5 L486,437.7 L487,435.9 L488,434.2 L489,432.6 L490,431.1 L491,429.6 L492,428.3 L493,427.1 L494,426 L495,425 L496,424.1 L497,423.3 L498,422.6 L499,422 L500,421.6 L501,421.3 L502,421.2 L503,421.2 L504,421.5 L505,421.9 L506,422.5 L507,423.2 L508,424.1 L509,425 L510,426.1 L511,427.2 L512,428.4 L513,429.6 L514,430.9 L515,432.2 L516,433.6 L517,434.9 L518,436.2 L519,437.5 L520,438.8 L521,440 L522,441.1 L523,442.1 L524,443 L525,443.8 L526,444.4 L527,444.8 L528,445 L529,445 L530,444.7 L531,444.3 L532,443.7 L533,443 L534,442.1 L535,441.2 L536,440.2 L537,439.3 L538,438.3 L539,437.3 L540,436.3 L541,435.4 L542,434.6 L543,433.8 L544,433.1 L545,432.5 L546,431.9 L547,431.6 L548,431.3 L549,431.2 L550,431.2 L551,431.5 L552,431.8 L553,432.4 L554,433 L555,433.7 L556,434.6 L557,435.5 L558,436.6 L559,437.6 L560,438.8 L561,439.9 L562,441.1 L563,442.2 L564,443.3 L565,444.4 L566,445.4 L567,446.4 L568,447.2 L569,447.9 L570,448.5 L571,449 L572,449.2 L573,449.3 L574,449.2 L575,448.9 L576,448.3 L577,447.5 L578,446.6 L579,445.4 L580,444.1 L581,442.6 L582,440.9 L583,439.1 L584,437.1 L585,435 L586,432.9 L587,430.8 L588,428.7 L589,426.8 L590,425 L591,423.4 L592,422 L593,420.8 L594,419.7 L595,418.9 L596,418.3 L597,417.8 L598,417.5 L599,417.4 L600,417.5 L601,417.7 L602,418.1 L603,418.7 L604,419.3 L605,420 L606,420.7 L607,421.5 L608,422.3 L609,423 L610,423.8 L611,424.4 L612,425 L613,425.5 L614,425.9 L615,426.2 L616,426.5 L617,426.7 L618,426.9 L619,427 L620,427 L621,427 L622,426.9 L623,426.7 L624,426.5 L625,426.2 L626,426 L627,425.6 L628,425.3 L629,424.9 L630,424.5 L631,424.1 L632,423.7 L633,423.3 L634,422.9 L635,422.6 L636,422.3 L637,422.1 L638,422 L639,422 L640,422.1 L641,422.3 L642,422.7 L643,423.1 L644,423.6 L645,424.1 L646,424.7 L647,425.4 L648,426 L649,426.8 L650,427.5 L651,428.2 L652,429 L653,429.8 L654,430.5 L655,431.3 L656,432 L657,432.7 L658,433.4 L659,434.1 L660,434.8 L661,435.4 L662,436 L663,436.5 L664,437 L665,437.5 L666,438 L667,438.4 L668,438.9 L669,439.4 L670,439.9 L671,440.4 L672,441 L673,441.6 L674,442.2 L675,442.9 L676,443.5 L677,444.1 L678,444.6 L679,445 L680,445.3 L681,445.5 L682,445.5 L683,445.2 L684,444.8 L685,444.2 L686,443.3 L687,442.2 L688,440.9 L689,439.3 L690,437.5 L691,435.4 L692,433.1 L693,430.7 L694,428.2 L695,425.6 L696,423.1 L697,420.7 L698,418.3 L699,415.9 L700,413.4 L701,410.8 L702,407.9 L703,405 L704,402 L705,398.9 L706,395.9 L707,393 L708,390.2 L709,387.6 L710,385.2 L711,383.1 L712,381.3 L713,379.8 L714,378.5 L715,377.4 L716,376.6 L717,376 L718,375.5 L719,375.3 L720,375.3 L721,375.4 L722,375.7 L723,376 L724,376.6 L725,377.2 L726,377.9 L727,378.7 L728,379.5 L729,380.5 L730,381.4 L731,382.4 L732,383.3 L733,384.3 L734,385.3 L735,386.2 L736,387.1 L737,387.9 L738,388.6 L739,389.3 L740,389.9 L741,390.5 L742,391 L743,391.6 L744,392.3 L745,393 L746,393.8 L747,394.8 L748,395.9 L749,397.2 L750,398.8 L751,400.5 L752,402.6 L753,404.8 L754,407.3 L755,409.8 L756,412.5 L757,415.2 L758,417.9 L759,420.6 L760,423.1 L761,425.5 L762,427.8 L763,429.8 L764,431.6 L765,433.3 L766,434.7 L767,435.9 L768,436.9 L769,437.6 L770,438.2 L771,438.5 L772,438.6 L773,438.4 L774,438 L775,437.4 L776,436.7 L777,435.7 L778,434.6 L779,433.4 L780,432.1 L781,430.7 L782,429.2 L783,427.7 L784,426.1 L785,424.6 L786,423.1 L787,421.6 L788,420.2 L789,418.8 L790,417.6 L791,416.4 L792,415.4 L793,414.6 L794,413.9 L795,413.3 L796,412.8 L797,412.5 L798,412.4 L799,412.4 L800,412.5 L801,412.8 L802,413.1 L803,413.6 L804,414.1 L805,414.6 L806,415.2 L807,415.7 L808,416.3 L809,416.8 L810,417.2 L811,417.6 L812,417.9 L813,418.2 L814,418.4 L815,418.6 L816,418.6 L817,418.7 L818,418.6 L819,418.5 L820,418.4 L821,418.2 L822,418 L823,417.8 L824,417.6 L825,417.4 L826,417.3 L827,417.1 L828,417 L829,416.9 L830,416.8 L831,416.7 L832,416.7 L833,416.6 L834,416.5 L835,416.4 L836,416.3 L837,416.2 L838,416 L839,415.7 L840,415.4 L841,415 L842,414.6 L843,414 L844,413.4 L845,412.8 L846,412.1 L847,411.4 L848,410.6 L849,409.8 L850,409 L851,408.1 L852,407.3 L853,406.5 L854,405.7 L855,404.9 L856,404.2 L857,403.5 L858,402.8 L859,402.2 L860,401.6 L861,401.1 L862,400.7 L863,400.3 L864,400 L865,399.8 L866,399.8 L867,399.8 L868,399.9 L869,400.1 L870,400.4 L871,400.8 L872,401.3 L873,401.8 L874,402.3 L875,403 L876,403.6 L877,404.3 L878,405 L879,405.7 L880,406.5 L881,407.2 L882,407.9 L883,408.6 L884,409.3 L885,410 L886,410.6 L887,411.2 L888,411.8 L889,412.4 L890,412.9 L891,413.3 L892,413.7 L893,414.1 L894,414.4 L895,414.6 L896,414.8 L897,414.9 L898,415 L899,414.9 L900,414.9 L901,414.8 L902,414.6 L903,414.5 L904,414.3 L905,414.1 L906,413.9 L907,413.7 L908,413.5 L909,413.4 L910,413.2 L911,413.1 L912,413.1 L913,413.1 L914,413.1 L915,413.2 L916,413.4 L917,413.7 L918,414 L919,414.5 L920,414.9 L921,415.5 L922,416.1 L923,416.7 L924,417.4 L925,418.2 L926,419 L927,419.8 L928,420.7 L929,421.5 L930,422.4 L931,423.3 L932,424.1 L933,424.9 L934,425.7 L935,426.4 L936,427.1 L937,427.7 L938,428.3 L939,428.7 L940,429.1 L941,429.4 L942,429.6 L943,429.7 L944,429.6 L945,429.5 L946,429.2 L947,428.7 L948,428 L949,427.1 L950,425.9 L951,424.4 L952,422.6 L953,420.7 L954,418.6 L955,416.4 L956,414.2 L957,412 L958,409.9 L959,407.9 L960,406 L961,404.2 L962,402.5 L963,400.9 L964,399.5 L965,398.1 L966,396.8 L967,395.6 L968,394.6 L969,393.7 L970,393 L971,392.5 L972,392.2 L973,392.1 L974,392.4 L975,392.9 L976,393.6 L977,394.5 L978,395.6 L979,396.9 L980,398.3 L981,399.8 L982,401.4 L983,403 L984,404.7 L985,406.4 L986,408.1 L987,409.8 L988,411.5 L989,413.1 L990,414.7 L991,416.3 L992,417.8 L993,419.2 L994,420.5 L995,421.6 L996,422.7 L997,423.6 L998,424.4 L999,425 L1000,425.5 L1001,425.9 L1002,426.2 L1003,426.4 L1004,426.5 L1005,426.5 L1006,426.5 L1007,426.4 L1008,426.3 L1009,426.1 L1010,425.9 L1011,425.7 L1012,425.4 L1013,425.1 L1014,424.8 L1015,424.4 L1016,424 L1017,423.5 L1018,423 L1019,422.5 L1020,421.9 L1021,421.3 L1022,420.6 L1023,419.9 L1024,419.1 L1025,418.2 L1026,417.3 L1027,416.3 L1028,415.3 L1029,414.1 L1030,412.9 L1031,411.7 L1032,410.5 L1033,409.3 L1034,408.1 L1035,407 L1036,406 L1037,405.1 L1038,404.3 L1039,403.6 L1040,403 L1041,402.6 L1042,402.2 L1043,402 L1044,401.9 L1045,402 L1046,402.2 L1047,402.5 L1048,402.9 L1049,403.4 L1050,404 L1051,404.7 L1052,405.3 L1053,406 L1054,406.7 L1055,407.3 L1056,407.9 L1057,408.5 L1058,409.1 L1059,409.7 L1060,410.2 L1061,410.7 L1062,411.3 L1063,411.8 L1064,412.2 L1065,412.7 L1066,413.1 L1067,413.5 L1068,413.8 L1069,414 L1070,414.2 L1071,414.2 L1072,414.2 L1073,414.1 L1074,414 L1075,413.8 L1076,413.7 L1077,413.6 L1078,413.6 L1079,413.6 L1080,413.8 L1081,414.1 L1082,414.5 L1083,415 L1084,415.5 L1085,416.2 L1086,417 L1087,417.8 L1088,418.7 L1089,419.6 L1090,420.5 L1091,421.5 L1092,422.5 L1093,423.6 L1094,424.6 L1095,425.7 L1096,426.7 L1097,427.7 L1098,428.8 L1099,429.7 L1100,430.6 L1101,431.4 L1102,432.1 L1103,432.6 L1104,433 L1105,433.3 L1106,433.3 L1107,433.1 L1108,432.7 L1109,432 L1110,431.2 L1111,430.2 L1112,429 L1113,427.7 L1114,426.3 L1115,424.8 L1116,423.1 L1117,421.5 L1118,419.7 L1119,418 L1120,416.3 L1121,414.5 L1122,412.8 L1123,411.2 L1124,409.6 L1125,408.2 L1126,406.8 L1127,405.6 L1128,404.5 L1129,403.5 L1130,402.7 L1131,402.1 L1132,401.6 L1133,401.4 L1134,401.2 L1135,401.3 L1136,401.5 L1137,401.9 L1138,402.5 L1139,403.3 L1140,404.2 L1141,405.2 L1142,406.3 L1143,407.6 L1144,409 L1145,410.4 L1146,412 L1147,413.6 L1148,415.4 L1149,417.2 L1150,419 L1151,421 L1152,422.9 L1153,424.9 L1154,427 L1155,429 L1156,431.1 L1157,433.1 L1158,435.1 L1159,437.1 L1160,439.1 L1161,441 L1162,442.8 L1163,444.5 L1164,446.2 L1165,447.8 L1166,449.3 L1167,450.8 L1168,452.2 L1169,453.5 L1170,454.6 L1171,455.6 L1172,456.4 L1173,456.9 L1174,457.1 L1175,456.9 L1176,456.5 L1177,455.7 L1178,454.7 L1179,453.3 L1180,451.8 L1181,450 L1182,447.9 L1183,445.7 L1184,443.3 L1185,440.7 L1186,438.1 L1187,435.3 L1188,432.5 L1189,429.6 L1190,426.7 L1191,423.8 L1192,421 L1193,418.2 L1194,415.6 L1195,413.2 L1196,410.9 L1197,408.8 L1198,407 L1199,405.3 L1200,403.8 L1201,402.3 L1202,401 L1203,399.6 L1204,398.4 L1205,397.4 L1206,396.8 L1207,396.6 L1208,396.9 L1209,397.4 L1210,398.1 L1211,399.2 L1212,400.6 L1213,402.3 L1214,404.3 L1215,406.7 L1216,409.2 L1217,412 L1218,414.8 L1219,417.7 L1220,420.6 L1221,423.5 L1222,426.3 L1223,429 L1224,431.6 L1225,434.2 L1226,436.7 L1227,439.1 L1228,441.4 L1229,443.5 L1230,445.5 L1231,447.4 L1232,449.1 L1233,450.6 L1234,451.9 L1235,453 L1236,453.9 L1237,454.6 L1238,455.1 L1239,455.5 L1240,455.6 L1241,455.5 L1242,455.3 L1243,454.9 L1244,454.3 L1245,453.5 L1246,452.6 L1247,451.6 L1248,450.4 L1249,449.1 L1250,447.6 L1251,446.1 L1252,444.4 L1253,442.7 L1254,441 L1255,439.1 L1256,437.3 L1257,435.4 L1258,433.6 L1259,431.7 L1260,429.9 L1261,428.1 L1262,426.4 L1263,424.7 L1264,423.2 L1265,421.7 L1266,420.3 L1267,419 L1268,417.8 L1269,416.8 L1270,415.9 L1271,415.1 L1272,414.5 L1273,414 L1274,413.7 L1275,413.5 L1276,413.5 L1277,413.8 L1278,414.1 L1279,414.7 L1280,415.5 L1281,416.5 L1282,417.7 L1283,419.1 L1284,420.7 L1285,422.5 L1286,424.5 L1287,426.6 L1288,428.7 L1289,430.8 L1290,432.8 L1291,434.6 L1292,436.4 L1293,437.9 L1294,439.4 L1295,440.7 L1296,442 L1297,443.1 L1298,444.2 L1299,445.1 L1300,446 L1301,446.8 L1302,447.4 L1303,447.9 L1304,448.1 L1305,448.1 L1306,447.7 L1307,447.1 L1308,446.3 L1309,445.3 L1310,444.1 L1311,442.9 L1312,441.6 L1313,440.3 L1314,439 L1315,437.8 L1316,436.6 L1317,435.5 L1318,434.3 L1319,433.3 L1320,432.2 L1321,431.1 L1322,430.1 L1323,429 L1324,428 L1325,427 L1326,426 L1327,425.2 L1328,424.5 L1329,424 L1330,423.6 L1331,423.4 L1332,423.5 L1333,423.9 L1334,424.4 L1335,425.2 L1336,426.1 L1337,427.1 L1338,428.3 L1339,429.4 L1340,430.6 L1341,431.8 L1342,432.8 L1343,433.8 L1344,434.8 L1345,435.7 L1346,436.6 L1347,437.4 L1348,438.3 L1349,439.1 L1350,440 L1351,440.9 L1352,441.8 L1353,442.6 L1354,443.3 L1355,444 L1356,444.5 L1357,444.8 L1358,444.8 L1359,444.7 L1360,444.4 L1361,443.9 L1362,443.3 L1363,442.7 L1364,442 L1365,441.4 L1366,440.7 L1367,440.1 L1368,439.6 L1369,439.1 L1370,438.6 L1371,438.2 L1372,437.9 L1373,437.7 L1374,437.5 L1375,437.4 L1376,437.4 L1377,437.4 L1378,437.6 L1379,437.9 L1380,438.2 L1381,438.6 L1382,439.1 L1383,439.6 L1384,440.2 L1385,440.8 L1386,441.5 L1387,442.2 L1388,443 L1389,443.8 L1390,444.6 L1391,445.4 L1392,446.2 L1393,447.1 L1394,447.9 L1395,448.7 L1396,449.5 L1397,450.3 L1398,451 L1399,451.6 L1400,452.2 L1401,452.7 L1402,453.1 L1403,453.4 L1404,453.7 L1405,454 L1406,454.2 L1407,454.4 L1408,454.6 L1409,454.8 L1410,455 L1411,455.2 L1412,455.4 L1413,455.7 L1414,455.9 L1415,456.2 L1416,456.5 L1417,456.8 L1418,457.1 L1419,457.4 L1420,457.8 L1421,458.2 L1422,458.6 L1423,459.1 L1424,459.6 L1425,460.2 L1426,460.8 L1427,461.5 L1428,462.1 L1429,462.7 L1430,463.2 L1431,463.6 L1432,464 L1433,464.4 L1434,464.7 L1435,464.9 L1436,465.1 L1437,465.3 L1438,465.5 L1439,465.6 L1440,465.7 L1441,465.8 L1442,465.9 L1443,466 L1444,466.1 L1445,466.2 L1446,466.2 L1447,466.3 L1448,466.4 L1449,466.4 L1450,466.5 L1451,466.5 L1452,466.5 L1453,466.5 L1454,466.5 L1455,466.5 L1456,466.5 L1457,466.5 L1458,466.4 L1459,466.3 L1460,466.2 L1461,466.1 L1462,466 L1463,465.9 L1464,465.7 L1465,465.5 L1466,465.3 L1467,465.1 L1468,464.9 L1469,464.7 L1470,464.5 L1471,464.2 L1472,464 L1473,463.7 L1474,463.5 L1475,463.2 L1476,463 L1477,462.7 L1478,462.5 L1479,462.2 L1480,462 L1481,461.8 L1482,461.6 L1483,461.4 L1484,461.2 L1485,461 L1486,460.8 L1487,460.7 L1488,460.6 L1489,460.4 L1490,460.3 L1491,460.2 L1492,460.1 L1493,459.9 L1494,459.8 L1495,459.7 L1496,459.6 L1497,459.5 L1498,459.4 L1499,459.2 L1500,459.1 L1501,458.9 L1502,458.8 L1503,458.6 L1504,458.5 L1505,458.3 L1506,458.1 L1507,458 L1508,457.8 L1509,457.7 L1510,457.5 L1511,457.4 L1512,457.3 L1513,457.2 L1514,457.1 L1515,457 L1516,457 L1517,457 L1518,457 L1519,457 L1520,457 L1521,457.1 L1522,457.3 L1523,457.4 L1524,457.6 L1525,457.7 L1526,457.9 L1527,458.1 L1528,458.3 L1529,458.5 L1530,458.7 L1531,458.9 L1532,459.1 L1533,459.3 L1534,459.4 L1535,459.5 L1536,459.6 L1537,459.7 L1538,459.7 L1539,459.7 L1540,459.6 L1541,459.5 L1542,459.3 L1543,459.1 L1544,458.9 L1545,458.6 L1546,458.3 L1547,458 L1548,457.7 L1549,457.4 L1550,457 L1551,456.7 L1552,456.3 L1553,456 L1554,455.7 L1555,455.4 L1556,455.1 L1557,454.8 L1558,454.6 L1559,454.4 L1560,454.2 L1561,454.1 L1562,454 L1563,454 L1564,454.1 L1565,454.2 L1566,454.3 L1567,454.5 L1568,454.7 L1569,455 L1570,455.3 L1571,455.6 L1572,455.9 L1573,456.3 L1574,456.6 L1575,457 L1576,457.3 L1577,457.6 L1578,458 L1579,458.2 L1580,458.5 L1581,458.8 L1582,459 L1583,459.1 L1584,459.2 L1585,459.3 L1586,459.3 L1587,459.2 L1588,459.1 L1589,458.9 L1590,458.7 L1591,458.4 L1592,458 L1593,457.7 L1594,457.2 L1595,456.8 L1596,456.3 L1597,455.9 L1598,455.4 L1599,454.9 L1600,454.4 L1601,454 L1602,453.5 L1603,453.1 L1604,452.7 L1605,452.3 L1606,452 L1607,451.7 L1608,451.4 L1609,451.2 L1610,451 L1611,450.9 L1612,450.9 L1613,450.9 L1614,451 L1615,451.1 L1616,451.2 L1617,451.4 L1618,451.6 L1619,451.9 L1620,452.1 L1621,452.3 L1622,452.6 L1623,452.8 L1624,453 L1625,453.2 L1626,453.4 L1627,453.5 L1628,453.6 L1629,453.7 L1630,453.7 L1631,453.6 L1632,453.5 L1633,453.3 L1634,453 L1635,452.7 L1636,452.3 L1637,451.9 L1638,451.4 L1639,450.8 L1640,450.3 L1641,449.6 L1642,449 L1643,448.3 L1644,447.6 L1645,446.8 L1646,446 L1647,445.3 L1648,444.5 L1649,443.7 L1650,442.9 L1651,442.1 L1652,441.3 L1653,440.5 L1654,439.8 L1655,439 L1656,438.3 L1657,437.7 L1658,437.1 L1659,436.5 L1660,436 L1661,435.6 L1662,435.2 L1663,434.9 L1664,434.7 L1665,434.4 L1666,434.2 L1667,434 L1668,433.8 L1669,433.7 L1670,433.5 L1671,433.3 L1672,433.1 L1673,432.9 L1674,432.6 L1675,432.3 L1676,432 L1677,431.6 L1678,431.3 L1679,431 L1680,430.7 L1681,430.5 L1682,430.3 L1683,430.2 L1684,430.2 L1685,430.2 L1686,430.3 L1687,430.4 L1688,430.6 L1689,430.7 L1690,430.7 L1691,430.7 L1692,430.6 L1693,430.5" fill="none" stroke="#ff7f0e" stroke-width="2.6" stroke-linejoin="round"/>
<path d="M191,476.5 L192,476.6 L193,476.7 L194,476.8 L195,476.9 L196,477 L197,477.1 L198,477.2 L199,477.4 L200,477.5 L201,477.7 L202,477.9 L203,478.1 L204,478.3 L205,478.5 L206,478.8 L207,479.1 L208,479.5 L209,479.9 L210,480.3 L211,480.8 L212,481.3 L213,481.9 L214,482.6 L215,483.3 L216,484 L217,484.7 L218,485.4 L219,486 L220,486.6 L221,487.2 L222,487.7 L223,488.1 L224,488.6 L225,489 L226,489.3 L227,489.7 L228,490 L229,490.3 L230,490.5 L231,490.8 L232,490.9 L233,491 L234,491 L235,491 L236,490.9 L237,490.7 L238,490.5 L239,490.3 L240,489.9 L241,489.6 L242,489.2 L243,488.8 L244,488.4 L245,487.9 L246,487.5 L247,487 L248,486.5 L249,486.1 L250,485.6 L251,485.2 L252,484.8 L253,484.4 L254,484.1 L255,483.8 L256,483.6 L257,483.5 L258,483.5 L259,483.5 L260,483.7 L261,483.9 L262,484.2 L263,484.5 L264,484.9 L265,485.4 L266,485.9 L267,486.4 L268,486.9 L269,487.5 L270,488 L271,488.5 L272,489 L273,489.5 L274,489.9 L275,490.3 L276,490.6 L277,490.8 L278,491 L279,491 L280,490.9 L281,490.8 L282,490.5 L283,490.2 L284,489.8 L285,489.3 L286,488.8 L287,488.3 L288,487.8 L289,487.3 L290,486.8 L291,486.2 L292,485.8 L293,485.3 L294,484.9 L295,484.5 L296,484.2 L297,483.9 L298,483.7 L299,483.6 L300,483.5 L301,483.5 L302,483.6 L303,483.8 L304,484 L305,484.4 L306,484.8 L307,485.2 L308,485.7 L309,486.3 L310,486.9 L311,487.5 L312,488.2 L313,489 L314,489.7 L315,490.5 L316,491.3 L317,492.1 L318,493 L319,493.9 L320,494.8 L321,495.7 L322,496.7 L323,497.7 L324,498.7 L325,499.8 L326,500.9 L327,502 L328,503.1 L329,504.3 L330,505.5 L331,506.7 L332,508 L333,509.2 L334,510.5 L335,511.6 L336,512.7 L337,513.7 L338,514.6 L339,515.4 L340,516.1 L341,516.5 L342,516.8 L343,516.9 L344,516.7 L345,516.3 L346,515.7 L347,514.9 L348,513.9 L349,512.9 L350,511.7 L351,510.5 L352,509.2 L353,508 L354,506.7 L355,505.5 L356,504.4 L357,503.3 L358,502.3 L359,501.4 L360,500.6 L361,499.9 L362,499.3 L363,498.7 L364,498.3 L365,497.9 L366,497.7 L367,497.5 L368,497.5 L369,497.5 L370,497.7 L371,497.9 L372,498.1 L373,498.4 L374,498.8 L375,499.1 L376,499.5 L377,499.8 L378,500.2 L379,500.4 L380,500.7 L381,500.9 L382,501 L383,501 L384,501 L385,500.8 L386,500.5 L387,500.2 L388,499.7 L389,499.2 L390,498.6 L391,498 L392,497.3 L393,496.6 L394,495.8 L395,495 L396,494.2 L397,493.4 L398,492.6 L399,491.8 L400,491 L401,490.2 L402,489.4 L403,488.7 L404,487.9 L405,487.2 L406,486.6 L407,485.9 L408,485.3 L409,484.7 L410,484.2 L411,483.7 L412,483.2 L413,482.8 L414,482.4 L415,482.1 L416,481.8 L417,481.6 L418,481.4 L419,481.2 L420,481 L421,480.8 L422,480.6 L423,480.4 L424,480.2 L425,480 L426,479.8 L427,479.5 L428,479.3 L429,479 L430,478.7 L431,478.4 L432,478.2 L433,477.9 L434,477.6 L435,477.3 L436,477 L437,476.8 L438,476.5 L439,476.3 L440,476.1 L441,475.9 L442,475.8 L443,475.7 L444,475.6 L445,475.5 L446,475.5 L447,475.5 L448,475.5 L449,475.5 L450,475.5 L451,475.5 L452,475.5 L453,475.5 L454,475.4 L455,475.2 L456,475.1 L457,474.9 L458,474.7 L459,474.6 L460,474.4 L461,474.2 L462,474.1 L463,474 L464,473.9 L465,473.9 L466,473.9 L467,474 L468,474.1 L469,474.3 L470,474.6 L471,475 L472,475.5 L473,476.1 L474,476.8 L475,477.7 L476,478.7 L477,479.9 L478,481.2 L479,482.7 L480,484.3 L481,486.1 L482,487.9 L483,489.7 L484,491.6 L485,493.5 L486,495.3 L487,497.1 L488,498.8 L489,500.4 L490,501.9 L491,503.4 L492,504.7 L493,505.9 L494,507 L495,508 L496,508.9 L497,509.7 L498,510.4 L499,511 L500,511.4 L501,511.7 L502,511.8 L503,511.8 L504,511.5 L505,511.1 L506,510.5 L507,509.8 L508,508.9 L509,508 L510,506.9 L511,505.8 L512,504.6 L513,503.4 L514,502.1 L515,500.8 L516,499.4 L517,498.1 L518,496.8 L519,495.5 L520,494.2 L521,493 L522,491.9 L523,490.9 L524,490 L525,489.2 L526,488.6 L527,488.2 L528,488 L529,488 L530,488.3 L531,488.7 L532,489.3 L533,490 L534,490.9 L535,491.8 L536,492.8 L537,493.7 L538,494.7 L539,495.7 L540,496.7 L541,497.6 L542,498.4 L543,499.2 L544,499.9 L545,500.5 L546,501.1 L547,501.4 L548,501.7 L549,501.8 L550,501.8 L551,501.5 L552,501.2 L553,500.6 L554,500 L555,499.3 L556,498.4 L557,497.5 L558,496.4 L559,495.4 L560,494.2 L561,493.1 L562,491.9 L563,490.8 L564,489.7 L565,488.6 L566,487.6 L567,486.6 L568,485.8 L569,485.1 L570,484.5 L571,484 L572,483.8 L573,483.7 L574,483.8 L575,484.1 L576,484.7 L577,485.5 L578,486.4 L579,487.6 L580,488.9 L581,490.4 L582,492.1 L583,493.9 L584,495.9 L585,498 L586,500.1 L587,502.2 L588,504.3 L589,506.2 L590,508 L591,509.6 L592,511 L593,512.2 L594,513.3 L595,514.1 L596,514.7 L597,515.2 L598,515.5 L599,515.6 L600,515.5 L601,515.3 L602,514.9 L603,514.3 L604,513.7 L605,513 L606,512.3 L607,511.5 L608,510.7 L609,510 L610,509.2 L611,508.6 L612,508 L613,507.5 L614,507.1 L615,506.8 L616,506.5 L617,506.3 L618,506.1 L619,506 L620,506 L621,506 L622,506.1 L623,506.3 L624,506.5 L625,506.8 L626,507 L627,507.4 L628,507.7 L629,508.1 L630,508.5 L631,508.9 L632,509.3 L633,509.7 L634,510.1 L635,510.4 L636,510.7 L637,510.9 L638,511 L639,511 L640,510.9 L641,510.7 L642,510.3 L643,509.9 L644,509.4 L645,508.9 L646,508.3 L647,507.6 L648,507 L649,506.2 L650,505.5 L651,504.8 L652,504 L653,503.2 L654,502.5 L655,501.7 L656,501 L657,500.3 L658,499.6 L659,498.9 L660,498.2 L661,497.6 L662,497 L663,496.5 L664,496 L665,495.5 L666,495 L667,494.6 L668,494.1 L669,493.6 L670,493.1 L671,492.6 L672,492 L673,491.4 L674,490.8 L675,490.1 L676,489.5 L677,488.9 L678,488.4 L679,488 L680,487.7 L681,487.5 L682,487.5 L683,487.8 L684,488.2 L685,488.8 L686,489.7 L687,490.8 L688,492.1 L689,493.7 L690,495.5 L691,497.6 L692,499.9 L693,502.3 L694,504.8 L695,507.4 L696,509.9 L697,512.3 L698,514.7 L699,517.1 L700,519.6 L701,522.2 L702,525.1 L703,528 L704,531 L705,534.1 L706,537.1 L707,540 L708,542.8 L709,545.4 L710,547.8 L711,549.9 L712,551.7 L713,553.2 L714,554.5 L715,555.6 L716,556.4 L717,557 L718,557.5 L719,557.7 L720,557.7 L721,557.6 L722,557.3 L723,557 L724,556.4 L725,555.8 L726,555.1 L727,554.3 L728,553.5 L729,552.5 L730,551.6 L731,550.6 L732,549.7 L733,548.7 L734,547.7 L735,546.8 L736,545.9 L737,545.1 L738,544.4 L739,543.7 L740,543.1 L741,542.5 L742,542 L743,541.4 L744,540.7 L745,540 L746,539.2 L747,538.2 L748,537.1 L749,535.8 L750,534.2 L751,532.5 L752,530.4 L753,528.2 L754,525.7 L755,523.2 L756,520.5 L757,517.8 L758,515.1 L759,512.4 L760,509.9 L761,507.5 L762,505.2 L763,503.2 L764,501.4 L765,499.7 L766,498.3 L767,497.1 L768,496.1 L769,495.4 L770,494.8 L771,494.5 L772,494.4 L773,494.6 L774,495 L775,495.6 L776,496.3 L777,497.3 L778,498.4 L779,499.6 L780,500.9 L781,502.3 L782,503.8 L783,505.3 L784,506.9 L785,508.4 L786,509.9 L787,511.4 L788,512.8 L789,514.2 L790,515.4 L791,516.6 L792,517.6 L793,518.4 L794,519.1 L795,519.7 L796,520.2 L797,520.5 L798,520.6 L799,520.6 L800,520.5 L801,520.2 L802,519.9 L803,519.4 L804,518.9 L805,518.4 L806,517.8 L807,517.3 L808,516.7 L809,516.2 L810,515.8 L811,515.4 L812,515.1 L813,514.8 L814,514.6 L815,514.4 L816,514.4 L817,514.3 L818,514.4 L819,514.5 L820,514.6 L821,514.8 L822,515 L823,515.2 L824,515.4 L825,515.6 L826,515.7 L827,515.9 L828,516 L829,516.1 L830,516.2 L831,516.3 L832,516.3 L833,516.4 L834,516.5 L835,516.6 L836,516.7 L837,516.8 L838,517 L839,517.3 L840,517.6 L841,518 L842,518.4 L843,519 L844,519.6 L845,520.2 L846,520.9 L847,521.6 L848,522.4 L849,523.2 L850,524 L851,524.9 L852,525.7 L853,526.5 L854,527.3 L855,528.1 L856,528.8 L857,529.5 L858,530.2 L859,530.8 L860,531.4 L861,531.9 L862,532.3 L863,532.7 L864,533 L865,533.2 L866,533.2 L867,533.2 L868,533.1 L869,532.9 L870,532.6 L871,532.2 L872,531.7 L873,531.2 L874,530.7 L875,530 L876,529.4 L877,528.7 L878,528 L879,527.3 L880,526.5 L881,525.8 L882,525.1 L883,524.4 L884,523.7 L885,523 L886,522.4 L887,521.8 L888,521.2 L889,520.6 L890,520.1 L891,519.7 L892,519.3 L893,518.9 L894,518.6 L895,518.4 L896,518.2 L897,518.1 L898,518 L899,518.1 L900,518.1 L901,518.2 L902,518.4 L903,518.5 L904,518.7 L905,518.9 L906,519.1 L907,519.3 L908,519.5 L909,519.6 L910,519.8 L911,519.9 L912,519.9 L913,519.9 L914,519.9 L915,519.8 L916,519.6 L917,519.3 L918,519 L919,518.5 L920,518.1 L921,517.5 L922,516.9 L923,516.3 L924,515.6 L925,514.8 L926,514 L927,513.2 L928,512.3 L929,511.5 L930,510.6 L931,509.7 L932,508.9 L933,508.1 L934,507.3 L935,506.6 L936,505.9 L937,505.3 L938,504.7 L939,504.3 L940,503.9 L941,503.6 L942,503.4 L943,503.3 L944,503.4 L945,503.5 L946,503.8 L947,504.3 L948,505 L949,505.9 L950,507.1 L951,508.6 L952,510.4 L953,512.3 L954,514.4 L955,516.6 L956,518.8 L957,521 L958,523.1 L959,525.1 L960,527 L961,528.8 L962,530.5 L963,532.1 L964,533.5 L965,534.9 L966,536.2 L967,537.4 L968,538.4 L969,539.3 L970,540 L971,540.5 L972,540.8 L973,540.9 L974,540.6 L975,540.1 L976,539.4 L977,538.5 L978,537.4 L979,536.1 L980,534.7 L981,533.2 L982,531.6 L983,530 L984,528.3 L985,526.6 L986,524.9 L987,523.2 L988,521.5 L989,519.9 L990,518.3 L991,516.7 L992,515.2 L993,513.8 L994,512.5 L995,511.4 L996,510.3 L997,509.4 L998,508.6 L999,508 L1000,507.5 L1001,507.1 L1002,506.8 L1003,506.6 L1004,506.5 L1005,506.5 L1006,506.5 L1007,506.6 L1008,506.7 L1009,506.9 L1010,507.1 L1011,507.3 L1012,507.6 L1013,507.9 L1014,508.2 L1015,508.6 L1016,509 L1017,509.5 L1018,510 L1019,510.5 L1020,511.1 L1021,511.7 L1022,512.4 L1023,513.1 L1024,513.9 L1025,514.8 L1026,515.7 L1027,516.7 L1028,517.7 L1029,518.9 L1030,520.1 L1031,521.3 L1032,522.5 L1033,523.7 L1034,524.9 L1035,526 L1036,527 L1037,527.9 L1038,528.7 L1039,529.4 L1040,530 L1041,530.4 L1042,530.8 L1043,531 L1044,531.1 L1045,531 L1046,530.8 L1047,530.5 L1048,530.1 L1049,529.6 L1050,529 L1051,528.3 L1052,527.7 L1053,527 L1054,526.3 L1055,525.7 L1056,525.1 L1057,524.5 L1058,523.9 L1059,523.3 L1060,522.8 L1061,522.3 L1062,521.7 L1063,521.2 L1064,520.8 L1065,520.3 L1066,519.9 L1067,519.5 L1068,519.2 L1069,519 L1070,518.8 L1071,518.8 L1072,518.8 L1073,518.9 L1074,519 L1075,519.2 L1076,519.3 L1077,519.4 L1078,519.4 L1079,519.4 L1080,519.2 L1081,518.9 L1082,518.5 L1083,518 L1084,517.5 L1085,516.8 L1086,516 L1087,515.2 L1088,514.3 L1089,513.4 L1090,512.5 L1091,511.5 L1092,510.5 L1093,509.4 L1094,508.4 L1095,507.3 L1096,506.3 L1097,505.3 L1098,504.2 L1099,503.3 L1100,502.4 L1101,501.6 L1102,500.9 L1103,500.4 L1104,500 L1105,499.7 L1106,499.7 L1107,499.9 L1108,500.3 L1109,501 L1110,501.8 L1111,502.8 L1112,504 L1113,505.3 L1114,506.7 L1115,508.2 L1116,509.9 L1117,511.5 L1118,513.3 L1119,515 L1120,516.7 L1121,518.5 L1122,520.2 L1123,521.8 L1124,523.4 L1125,524.8 L1126,526.2 L1127,527.4 L1128,528.5 L1129,529.5 L1130,530.3 L1131,530.9 L1132,531.4 L1133,531.6 L1134,531.8 L1135,531.7 L1136,531.5 L1137,531.1 L1138,530.5 L1139,529.7 L1140,528.8 L1141,527.8 L1142,526.7 L1143,525.4 L1144,524 L1145,522.6 L1146,521 L1147,519.4 L1148,517.6 L1149,515.8 L1150,514 L1151,512 L1152,510.1 L1153,508.1 L1154,506 L1155,504 L1156,501.9 L1157,499.9 L1158,497.9 L1159,495.9 L1160,493.9 L1161,492 L1162,490.2 L1163,488.5 L1164,486.8 L1165,485.2 L1166,483.7 L1167,482.2 L1168,480.8 L1169,479.5 L1170,478.4 L1171,477.4 L1172,476.6 L1173,476.1 L1174,475.9 L1175,476.1 L1176,476.5 L1177,477.3 L1178,478.3 L1179,479.7 L1180,481.2 L1181,483 L1182,485.1 L1183,487.3 L1184,489.7 L1185,492.3 L1186,494.9 L1187,497.7 L1188,500.5 L1189,503.4 L1190,506.3 L1191,509.2 L1192,512 L1193,514.8 L1194,517.4 L1195,519.8 L1196,522.1 L1197,524.2 L1198,526 L1199,527.7 L1200,529.2 L1201,530.7 L1202,532 L1203,533.4 L1204,534.6 L1205,535.6 L1206,536.2 L1207,536.4 L1208,536.1 L1209,535.6 L1210,534.9 L1211,533.8 L1212,532.4 L1213,530.7 L1214,528.7 L1215,526.3 L1216,523.8 L1217,521 L1218,518.2 L1219,515.3 L1220,512.4 L1221,509.5 L1222,506.7 L1223,504 L1224,501.4 L1225,498.8 L1226,496.3 L1227,493.9 L1228,491.6 L1229,489.5 L1230,487.5 L1231,485.6 L1232,483.9 L1233,482.4 L1234,481.1 L1235,480 L1236,479.1 L1237,478.4 L1238,477.9 L1239,477.5 L1240,477.4 L1241,477.5 L1242,477.7 L1243,478.1 L1244,478.7 L1245,479.5 L1246,480.4 L1247,481.4 L1248,482.6 L1249,483.9 L1250,485.4 L1251,486.9 L1252,488.6 L1253,490.3 L1254,492 L1255,493.9 L1256,495.7 L1257,497.6 L1258,499.4 L1259,501.3 L1260,503.1 L1261,504.9 L1262,506.6 L1263,508.3 L1264,509.8 L1265,511.3 L1266,512.7 L1267,514 L1268,515.2 L1269,516.2 L1270,517.1 L1271,517.9 L1272,518.5 L1273,519 L1274,519.3 L1275,519.5 L1276,519.5 L1277,519.2 L1278,518.9 L1279,518.3 L1280,517.5 L1281,516.5 L1282,515.3 L1283,513.9 L1284,512.3 L1285,510.5 L1286,508.5 L1287,506.4 L1288,504.3 L1289,502.2 L1290,500.2 L1291,498.4 L1292,496.6 L1293,495.1 L1294,493.6 L1295,492.3 L1296,491 L1297,489.9 L1298,488.8 L1299,487.9 L1300,487 L1301,486.2 L1302,485.6 L1303,485.1 L1304,484.9 L1305,484.9 L1306,485.3 L1307,485.9 L1308,486.7 L1309,487.7 L1310,488.9 L1311,490.1 L1312,491.4 L1313,492.7 L1314,494 L1315,495.2 L1316,496.4 L1317,497.5 L1318,498.7 L1319,499.7 L1320,500.8 L1321,501.9 L1322,502.9 L1323,504 L1324,505 L1325,506 L1326,507 L1327,507.8 L1328,508.5 L1329,509 L1330,509.4 L1331,509.6 L1332,509.5 L1333,509.1 L1334,508.6 L1335,507.8 L1336,506.9 L1337,505.9 L1338,504.7 L1339,503.6 L1340,502.4 L1341,501.2 L1342,500.2 L1343,499.2 L1344,498.2 L1345,497.3 L1346,496.4 L1347,495.6 L1348,494.7 L1349,493.9 L1350,493 L1351,492.1 L1352,491.2 L1353,490.4 L1354,489.7 L1355,489 L1356,488.5 L1357,488.2 L1358,488.2 L1359,488.3 L1360,488.6 L1361,489.1 L1362,489.7 L1363,490.3 L1364,491 L1365,491.6 L1366,492.3 L1367,492.9 L1368,493.4 L1369,493.9 L1370,494.4 L1371,494.8 L1372,495.1 L1373,495.3 L1374,495.5 L1375,495.6 L1376,495.6 L1377,495.6 L1378,495.4 L1379,495.1 L1380,494.8 L1381,494.4 L1382,493.9 L1383,493.4 L1384,492.8 L1385,492.2 L1386,491.5 L1387,490.8 L1388,490 L1389,489.2 L1390,488.4 L1391,487.6 L1392,486.8 L1393,485.9 L1394,485.1 L1395,484.3 L1396,483.5 L1397,482.7 L1398,482 L1399,481.4 L1400,480.8 L1401,480.3 L1402,479.9 L1403,479.6 L1404,479.3 L1405,479 L1406,478.8 L1407,478.6 L1408,478.4 L1409,478.2 L1410,478 L1411,477.8 L1412,477.6 L1413,477.3 L1414,477.1 L1415,476.8 L1416,476.5 L1417,476.2 L1418,475.9 L1419,475.6 L1420,475.2 L1421,474.8 L1422,474.4 L1423,473.9 L1424,473.4 L1425,472.8 L1426,472.2 L1427,471.5 L1428,470.9 L1429,470.3 L1430,469.8 L1431,469.4 L1432,469 L1433,468.6 L1434,468.3 L1435,468.1 L1436,467.9 L1437,467.7 L1438,467.5 L1439,467.4 L1440,467.3 L1441,467.2 L1442,467.1 L1443,467 L1444,466.9 L1445,466.8 L1446,466.8 L1447,466.7 L1448,466.6 L1449,466.6 L1450,466.5 L1451,466.5 L1452,466.5 L1453,466.5 L1454,466.5 L1455,466.5 L1456,466.5 L1457,466.5 L1458,466.6 L1459,466.7 L1460,466.8 L1461,466.9 L1462,467 L1463,467.1 L1464,467.3 L1465,467.5 L1466,467.7 L1467,467.9 L1468,468.1 L1469,468.3 L1470,468.5 L1471,468.8 L1472,469 L1473,469.3 L1474,469.5 L1475,469.8 L1476,470 L1477,470.3 L1478,470.5 L1479,470.8 L1480,471 L1481,471.2 L1482,471.4 L1483,471.6 L1484,471.8 L1485,472 L1486,472.2 L1487,472.3 L1488,472.4 L1489,472.6 L1490,472.7 L1491,472.8 L1492,472.9 L1493,473.1 L1494,473.2 L1495,473.3 L1496,473.4 L1497,473.5 L1498,473.6 L1499,473.8 L1500,473.9 L1501,474.1 L1502,474.2 L1503,474.4 L1504,474.5 L1505,474.7 L1506,474.9 L1507,475 L1508,475.2 L1509,475.3 L1510,475.5 L1511,475.6 L1512,475.7 L1513,475.8 L1514,475.9 L1515,476 L1516,476 L1517,476 L1518,476 L1519,476 L1520,476 L1521,475.9 L1522,475.7 L1523,475.6 L1524,475.4 L1525,475.3 L1526,475.1 L1527,474.9 L1528,474.7 L1529,474.5 L1530,474.3 L1531,474.1 L1532,473.9 L1533,473.7 L1534,473.6 L1535,473.5 L1536,473.4 L1537,473.3 L1538,473.3 L1539,473.3 L1540,473.4 L1541,473.5 L1542,473.7 L1543,473.9 L1544,474.1 L1545,474.4 L1546,474.7 L1547,475 L1548,475.3 L1549,475.6 L1550,476 L1551,476.3 L1552,476.7 L1553,477 L1554,477.3 L1555,477.6 L1556,477.9 L1557,478.2 L1558,478.4 L1559,478.6 L1560,478.8 L1561,478.9 L1562,479 L1563,479 L1564,478.9 L1565,478.8 L1566,478.7 L1567,478.5 L1568,478.3 L1569,478 L1570,477.7 L1571,477.4 L1572,477.1 L1573,476.7 L1574,476.4 L1575,476 L1576,475.7 L1577,475.4 L1578,475 L1579,474.8 L1580,474.5 L1581,474.2 L1582,474 L1583,473.9 L1584,473.8 L1585,473.7 L1586,473.7 L1587,473.8 L1588,473.9 L1589,474.1 L1590,474.3 L1591,474.6 L1592,475 L1593,475.3 L1594,475.8 L1595,476.2 L1596,476.7 L1597,477.1 L1598,477.6 L1599,478.1 L1600,478.6 L1601,479 L1602,479.5 L1603,479.9 L1604,480.3 L1605,480.7 L1606,481 L1607,481.3 L1608,481.6 L1609,481.8 L1610,482 L1611,482.1 L1612,482.1 L1613,482.1 L1614,482 L1615,481.9 L1616,481.8 L1617,481.6 L1618,481.4 L1619,481.1 L1620,480.9 L1621,480.7 L1622,480.4 L1623,480.2 L1624,480 L1625,479.8 L1626,479.6 L1627,479.5 L1628,479.4 L1629,479.3 L1630,479.3 L1631,479.4 L1632,479.5 L1633,479.7 L1634,480 L1635,480.3 L1636,480.7 L1637,481.1 L1638,481.6 L1639,482.2 L1640,482.7 L1641,483.4 L1642,484 L1643,484.7 L1644,485.4 L1645,486.2 L1646,487 L1647,487.7 L1648,488.5 L1649,489.3 L1650,490.1 L1651,490.9 L1652,491.7 L1653,492.5 L1654,493.2 L1655,494 L1656,494.7 L1657,495.3 L1658,495.9 L1659,496.5 L1660,497 L1661,497.4 L1662,497.8 L1663,498.1 L1664,498.3 L1665,498.6 L1666,498.8 L1667,499 L1668,499.2 L1669,499.3 L1670,499.5 L1671,499.7 L1672,499.9 L1673,500.1 L1674,500.4 L1675,500.7 L1676,501 L1677,501.4 L1678,501.7 L1679,502 L1680,502.3 L1681,502.5 L1682,502.7 L1683,502.8 L1684,502.8 L1685,502.8 L1686,502.7 L1687,502.6 L1688,502.4 L1689,502.3 L1690,502.3 L1691,502.3 L1692,502.4 L1693,502.5" fill="none" stroke="#ff7f0e" stroke-width="2.6" stroke-linejoin="round"/>
<path d="M191,218.5 L192,222.3 L193,226.2 L194,230.3 L195,234.6 L196,239.3 L197,244.3 L198,249.4 L199,254.5 L200,259.6 L201,264.8 L202,270 L203,275 L204,279.7 L205,283.9 L206,287.3 L207,290 L208,292.1 L209,293.5 L210,294.4 L211,294.7 L212,294.7 L213,294.2 L214,293.5 L215,292.4 L216,291.1 L217,289.6 L218,288 L219,286.3 L220,284.5 L221,282.7 L222,280.9 L223,279.1 L224,277.5 L225,276.1 L226,274.8 L227,273.7 L228,272.8 L229,272.3 L230,272 L231,272.1 L232,272.5 L233,273.3 L234,274.5 L235,276 L236,277.9 L237,280.2 L238,282.8 L239,285.8 L240,289.1 L241,292.7 L242,296.6 L243,300.6 L244,304.8 L245,309.1 L246,313.5 L247,317.8 L248,322.1 L249,326.4 L250,330.5 L251,334.6 L252,338.5 L253,342.4 L254,346.3 L255,350 L256,353.6 L257,357 L258,360.1 L259,362.6 L260,364.4 L261,365.4 L262,365.6 L263,365.1 L264,363.9 L265,362.2 L266,360.2 L267,357.8 L268,355.2 L269,352.6 L270,350 L271,347.5 L272,345.2 L273,343.1 L274,341.2 L275,339.6 L276,338.4 L277,337.4 L278,336.9 L279,336.8 L280,337.1 L281,337.8 L282,338.9 L283,340.3 L284,342.1 L285,344.1 L286,346.3 L287,348.7 L288,351.3 L289,354 L290,356.7 L291,359.5 L292,362.3 L293,364.9 L294,367.5 L295,370 L296,372.3 L297,374.3 L298,375.9 L299,377.1 L300,377.8 L301,378 L302,377.5 L303,376.4 L304,374.9 L305,372.9 L306,370.7 L307,368.2 L308,365.5 L309,362.8 L310,360 L311,357.3 L312,354.6 L313,352 L314,349.3 L315,346.7 L316,344.1 L317,341.4 L318,338.6 L319,335.8 L320,332.8 L321,329.8 L322,326.6 L323,323.3 L324,319.9 L325,316.2 L326,312.5 L327,308.7 L328,304.7 L329,300.6 L330,296.5 L331,292.3 L332,288 L333,283.7 L334,279.4 L335,275 L336,270.6 L337,266.3 L338,262.2 L339,258.4 L340,254.9 L341,251.8 L342,249.3 L343,247.4 L344,246.2 L345,245.9 L346,246.3 L347,247.3 L348,249 L349,251.2 L350,254 L351,257.1 L352,260.6 L353,264.4 L354,268.4 L355,272.6 L356,276.8 L357,281 L358,285 L359,288.9 L360,292.5 L361,295.7 L362,298.4 L363,300.5 L364,301.8 L365,302.1 L366,301.6 L367,300.3 L368,298.3 L369,295.7 L370,292.5 L371,288.9 L372,284.9 L373,280.7 L374,276.4 L375,272.2 L376,268.1 L377,264.3 L378,260.9 L379,257.9 L380,255.5 L381,253.5 L382,251.9 L383,250.8 L384,250.2 L385,250 L386,250.2 L387,250.9 L388,252 L389,253.4 L390,255.2 L391,257.4 L392,259.9 L393,262.7 L394,265.8 L395,269.2 L396,272.8 L397,276.6 L398,280.6 L399,284.8 L400,289.1 L401,293.4 L402,297.8 L403,302.2 L404,306.6 L405,310.9 L406,315.1 L407,319.2 L408,323 L409,326.7 L410,330 L411,333 L412,335.7 L413,338.1 L414,340.1 L415,341.9 L416,343.6 L417,345 L418,346.4 L419,347.7 L420,349 L421,350.3 L422,351.7 L423,353.3 L424,355 L425,356.8 L426,358.8 L427,360.9 L428,363.2 L429,365.6 L430,368.1 L431,370.8 L432,373.6 L433,376.5 L434,379.4 L435,382.4 L436,385.4 L437,388.2 L438,390.7 L439,393.1 L440,395 L441,396.5 L442,397.7 L443,398.7 L444,399.4 L445,400 L446,400.6 L447,401.1 L448,401.5 L449,401.8 L450,402 L451,402.1 L452,402.1 L453,402 L454,402 L455,402 L456,402.1 L457,402.3 L458,402.7 L459,403.4 L460,404.2 L461,405.2 L462,406.3 L463,407.5 L464,408.7 L465,410 L466,411.3 L467,412.5 L468,413.7 L469,414.7 L470,415.5 L471,416.1 L472,416.5 L473,416.5 L474,416.1 L475,415.2 L476,413.6 L477,411.3 L478,408.1 L479,403.8 L480,398.6 L481,392.5 L482,385.7 L483,378.3 L484,370.5 L485,362.5 L486,354.4 L487,346.3 L488,338.3 L489,330.4 L490,322.7 L491,315.4 L492,308.3 L493,301.8 L494,295.6 L495,290 L496,284.7 L497,279.9 L498,275.5 L499,271.5 L500,268 L501,265 L502,262.8 L503,261.4 L504,261.1 L505,261.9 L506,263.6 L507,266.2 L508,269.5 L509,273.6 L510,278.2 L511,283.4 L512,288.9 L513,294.9 L514,301.1 L515,307.5 L516,314 L517,320.6 L518,327.1 L519,333.6 L520,340 L521,346.2 L522,352.1 L523,357.8 L524,363.1 L525,367.9 L526,372.2 L527,375.9 L528,378.9 L529,381.1 L530,382.5 L531,382.9 L532,382.5 L533,381.4 L534,379.6 L535,377.4 L536,374.6 L537,371.6 L538,368.4 L539,365 L540,361.5 L541,358 L542,354.6 L543,351.2 L544,348 L545,345 L546,342.3 L547,339.8 L548,337.8 L549,336.2 L550,335.1 L551,334.5 L552,334.6 L553,335.3 L554,336.6 L555,338.4 L556,340.7 L557,343.5 L558,346.6 L559,350.2 L560,354 L561,358.1 L562,362.3 L563,366.5 L564,370.8 L565,375 L566,379 L567,382.9 L568,386.4 L569,389.6 L570,392.3 L571,394.6 L572,396.2 L573,397.3 L574,397.5 L575,397.1 L576,395.8 L577,393.7 L578,390.9 L579,387.5 L580,383.3 L581,378.4 L582,373 L583,366.9 L584,360.3 L585,353.4 L586,346.3 L587,339.3 L588,332.4 L589,325.9 L590,320 L591,314.7 L592,310.1 L593,306.1 L594,302.6 L595,299.5 L596,296.9 L597,294.5 L598,292.6 L599,291.1 L600,290.2 L601,290 L602,290.4 L603,291.4 L604,292.9 L605,294.8 L606,296.9 L607,299.2 L608,301.6 L609,304.1 L610,306.6 L611,309 L612,311.4 L613,313.6 L614,315.7 L615,317.5 L616,319.1 L617,320.4 L618,321.4 L619,322.1 L620,322.4 L621,322.5 L622,322.2 L623,321.6 L624,320.9 L625,320 L626,319 L627,318 L628,317 L629,316.1 L630,315.2 L631,314.4 L632,313.8 L633,313.2 L634,312.8 L635,312.5 L636,312.4 L637,312.4 L638,312.6 L639,313 L640,313.6 L641,314.4 L642,315.3 L643,316.3 L644,317.5 L645,318.8 L646,320.1 L647,321.7 L648,323.3 L649,325.1 L650,327 L651,329.1 L652,331.3 L653,333.7 L654,336.3 L655,339 L656,341.7 L657,344.5 L658,347.2 L659,349.9 L660,352.5 L661,354.9 L662,357.2 L663,359.4 L664,361.5 L665,363.4 L666,365.3 L667,367.2 L668,369 L669,370.7 L670,372.5 L671,374.3 L672,376 L673,377.6 L674,379.2 L675,380.7 L676,382 L677,383.1 L678,384 L679,384.6 L680,384.9 L681,385 L682,384.6 L683,383.9 L684,382.6 L685,380.7 L686,378.2 L687,375 L688,371 L689,366.2 L690,360.5 L691,353.9 L692,346.5 L693,338.4 L694,329.5 L695,320 L696,309.8 L697,299.1 L698,288 L699,276.6 L700,265 L701,253.3 L702,241.7 L703,230.3 L704,219.2 L705,208.4 L706,198.3 L707,188.8 L708,180 L709,172.2 L710,165.2 L711,159.2 L712,154 L713,149.8 L714,146.5 L715,144.2 L716,142.6 L717,141.8 L718,141.7 L719,142.2 L720,143.3 L721,144.8 L722,146.9 L723,149.4 L724,152.3 L725,155.5 L726,159.1 L727,162.9 L728,167 L729,171.1 L730,175.3 L731,179.5 L732,183.6 L733,187.5 L734,191.3 L735,194.8 L736,198.3 L737,201.6 L738,204.9 L739,208.1 L740,211.4 L741,214.7 L742,218.1 L743,221.6 L744,225.2 L745,229 L746,233.1 L747,237.4 L748,242.1 L749,247 L750,252.4 L751,258.2 L752,264.4 L753,271.1 L754,278 L755,285.2 L756,292.4 L757,299.6 L758,306.6 L759,313.3 L760,319.6 L761,325.7 L762,331.4 L763,336.8 L764,341.9 L765,346.6 L766,351.1 L767,355.2 L768,358.9 L769,362.1 L770,364.8 L771,366.8 L772,368 L773,368.4 L774,368 L775,366.8 L776,364.8 L777,362.1 L778,358.8 L779,354.8 L780,350.3 L781,345.2 L782,339.7 L783,333.9 L784,328 L785,322.1 L786,316.3 L787,310.7 L788,305.6 L789,300.9 L790,296.7 L791,293 L792,289.7 L793,286.9 L794,284.6 L795,282.6 L796,281.1 L797,280.1 L798,279.5 L799,279.3 L800,279.6 L801,280.3 L802,281.4 L803,282.8 L804,284.3 L805,286 L806,287.7 L807,289.4 L808,291 L809,292.4 L810,293.7 L811,294.8 L812,295.7 L813,296.4 L814,296.8 L815,297 L816,296.9 L817,296.5 L818,295.8 L819,294.8 L820,293.8 L821,292.6 L822,291.4 L823,290.2 L824,289 L825,288 L826,287.1 L827,286.3 L828,285.6 L829,285 L830,284.4 L831,284 L832,283.6 L833,283.2 L834,283 L835,282.7 L836,282.4 L837,282.1 L838,281.9 L839,281.5 L840,281.1 L841,280.7 L842,280.1 L843,279.4 L844,278.5 L845,277.4 L846,275.9 L847,274.1 L848,271.9 L849,269.2 L850,266 L851,262.3 L852,258.3 L853,254 L854,249.7 L855,245.4 L856,241.3 L857,237.4 L858,233.9 L859,230.9 L860,228.2 L861,225.9 L862,224 L863,222.4 L864,221.2 L865,220.4 L866,219.8 L867,219.7 L868,219.8 L869,220.2 L870,221 L871,222 L872,223.3 L873,224.8 L874,226.6 L875,228.5 L876,230.7 L877,233.1 L878,235.7 L879,238.4 L880,241.1 L881,243.9 L882,246.7 L883,249.5 L884,252.2 L885,254.8 L886,257.3 L887,259.5 L888,261.7 L889,263.6 L890,265.4 L891,267 L892,268.4 L893,269.7 L894,270.8 L895,271.8 L896,272.5 L897,273.1 L898,273.6 L899,273.9 L900,274.1 L901,274.2 L902,274.2 L903,274.1 L904,274 L905,273.8 L906,273.5 L907,273.3 L908,273 L909,272.8 L910,272.6 L911,272.4 L912,272.4 L913,272.5 L914,272.6 L915,273 L916,273.5 L917,274.1 L918,275 L919,276.2 L920,277.6 L921,279.3 L922,281.3 L923,283.7 L924,286.4 L925,289.5 L926,292.8 L927,296.4 L928,300.2 L929,304.2 L930,308.2 L931,312.3 L932,316.3 L933,320.3 L934,324.1 L935,327.7 L936,330.9 L937,333.7 L938,336 L939,337.7 L940,339 L941,339.8 L942,340.2 L943,340.2 L944,339.9 L945,339.1 L946,337.7 L947,335.7 L948,332.9 L949,329.3 L950,324.8 L951,319.3 L952,312.9 L953,305.8 L954,298.1 L955,290 L956,281.7 L957,273.3 L958,264.9 L959,256.7 L960,248.7 L961,241.3 L962,234.4 L963,228.3 L964,222.8 L965,217.9 L966,213.8 L967,210.2 L968,207.4 L969,205.2 L970,203.6 L971,202.6 L972,202.3 L973,202.7 L974,203.7 L975,205.3 L976,207.5 L977,210.4 L978,213.9 L979,218 L980,222.7 L981,227.9 L982,233.5 L983,239.5 L984,245.7 L985,252.2 L986,258.9 L987,265.6 L988,272.2 L989,278.7 L990,285 L991,291 L992,296.5 L993,301.6 L994,306.2 L995,310.3 L996,314 L997,317.1 L998,319.7 L999,321.8 L1000,323.5 L1001,324.8 L1002,325.6 L1003,326.2 L1004,326.5 L1005,326.6 L1006,326.6 L1007,326.4 L1008,326.1 L1009,325.6 L1010,325 L1011,324.2 L1012,323.2 L1013,322.1 L1014,320.8 L1015,319.3 L1016,317.6 L1017,315.7 L1018,313.6 L1019,311.3 L1020,308.8 L1021,306.1 L1022,303.2 L1023,300.1 L1024,296.9 L1025,293.5 L1026,290 L1027,286.5 L1028,283.1 L1029,279.8 L1030,276.6 L1031,273.7 L1032,271 L1033,268.5 L1034,266.2 L1035,264.1 L1036,262.2 L1037,260.5 L1038,258.9 L1039,257.5 L1040,256.3 L1041,255.3 L1042,254.5 L1043,254.1 L1044,253.9 L1045,254.2 L1046,254.8 L1047,255.7 L1048,256.9 L1049,258.5 L1050,260.2 L1051,262.2 L1052,264.3 L1053,266.6 L1054,268.9 L1055,271.4 L1056,273.8 L1057,276.3 L1058,278.6 L1059,280.9 L1060,283 L1061,284.9 L1062,286.6 L1063,288.1 L1064,289.4 L1065,290.4 L1066,291.2 L1067,291.7 L1068,291.9 L1069,291.8 L1070,291.5 L1071,291.1 L1072,290.5 L1073,289.9 L1074,289.3 L1075,288.7 L1076,288.3 L1077,287.9 L1078,287.8 L1079,287.8 L1080,288.1 L1081,288.7 L1082,289.6 L1083,290.7 L1084,292.2 L1085,294 L1086,296.1 L1087,298.5 L1088,301.3 L1089,304.3 L1090,307.6 L1091,311.1 L1092,314.8 L1093,318.7 L1094,322.7 L1095,326.7 L1096,330.8 L1097,334.9 L1098,338.9 L1099,342.7 L1100,346.5 L1101,349.9 L1102,353.1 L1103,355.9 L1104,358.2 L1105,360 L1106,361.1 L1107,361.6 L1108,361.4 L1109,360.4 L1110,358.8 L1111,356.5 L1112,353.5 L1113,349.9 L1114,345.8 L1115,341 L1116,335.8 L1117,330.2 L1118,324.3 L1119,318.5 L1120,312.7 L1121,307.1 L1122,301.9 L1123,297.1 L1124,292.6 L1125,288.5 L1126,284.7 L1127,281.2 L1128,278.1 L1129,275.2 L1130,272.6 L1131,270.3 L1132,268.4 L1133,267 L1134,266.1 L1135,265.7 L1136,265.9 L1137,266.8 L1138,268.2 L1139,270.1 L1140,272.6 L1141,275.5 L1142,278.7 L1143,282.4 L1144,286.5 L1145,291 L1146,296 L1147,301.4 L1148,307.3 L1149,313.8 L1150,320.7 L1151,327.9 L1152,335.3 L1153,342.8 L1154,350.2 L1155,357.4 L1156,364.4 L1157,371.2 L1158,377.6 L1159,383.9 L1160,390 L1161,395.8 L1162,401.5 L1163,407 L1164,412.2 L1165,417.1 L1166,421.6 L1167,425.7 L1168,429.4 L1169,432.5 L1170,435 L1171,437 L1172,438.4 L1173,439.2 L1174,439.4 L1175,438.9 L1176,437.7 L1177,435.9 L1178,433.3 L1179,430 L1180,426.1 L1181,421.4 L1182,416.2 L1183,410.5 L1184,404.4 L1185,398 L1186,391.5 L1187,384.8 L1188,378.1 L1189,371.1 L1190,363.9 L1191,356.4 L1192,348.5 L1193,340.3 L1194,331.9 L1195,323.3 L1196,314.9 L1197,306.9 L1198,299.5 L1199,292.8 L1200,287 L1201,282.1 L1202,277.9 L1203,274.4 L1204,271.5 L1205,269.2 L1206,267.2 L1207,265.9 L1208,265.3 L1209,265.7 L1210,267.1 L1211,269.7 L1212,273.4 L1213,278.5 L1214,284.7 L1215,291.8 L1216,299.5 L1217,307.6 L1218,315.7 L1219,323.7 L1220,331.6 L1221,339.6 L1222,347.5 L1223,355.7 L1224,363.9 L1225,372.2 L1226,380.5 L1227,388.4 L1228,396 L1229,403 L1230,409.4 L1231,415.2 L1232,420.3 L1233,424.7 L1234,428.5 L1235,431.5 L1236,433.9 L1237,435.7 L1238,436.9 L1239,437.6 L1240,437.9 L1241,437.9 L1242,437.5 L1243,436.8 L1244,435.8 L1245,434.4 L1246,432.6 L1247,430.4 L1248,427.7 L1249,424.5 L1250,421 L1251,417 L1252,412.7 L1253,408.1 L1254,403.2 L1255,398.1 L1256,392.8 L1257,387.4 L1258,382 L1259,376.6 L1260,371.2 L1261,365.9 L1262,360.8 L1263,355.8 L1264,351.1 L1265,346.6 L1266,342.4 L1267,338.5 L1268,334.9 L1269,331.7 L1270,328.9 L1271,326.6 L1272,324.7 L1273,323.2 L1274,322.3 L1275,321.9 L1276,322 L1277,322.7 L1278,324 L1279,325.8 L1280,328.2 L1281,331.1 L1282,334.6 L1283,338.5 L1284,342.9 L1285,347.6 L1286,352.6 L1287,357.9 L1288,363.2 L1289,368.7 L1290,374.2 L1291,379.5 L1292,384.7 L1293,389.7 L1294,394.4 L1295,398.8 L1296,402.8 L1297,406.5 L1298,409.8 L1299,412.7 L1300,415.1 L1301,417 L1302,418.4 L1303,419.3 L1304,419.7 L1305,419.6 L1306,418.9 L1307,417.7 L1308,416 L1309,414 L1310,411.6 L1311,408.9 L1312,406 L1313,402.8 L1314,399.5 L1315,396.1 L1316,392.7 L1317,389.2 L1318,385.8 L1319,382.5 L1320,379.3 L1321,376.3 L1322,373.4 L1323,370.7 L1324,368.1 L1325,365.7 L1326,363.5 L1327,361.5 L1328,359.8 L1329,358.3 L1330,357.2 L1331,356.4 L1332,356.1 L1333,356.1 L1334,356.6 L1335,357.5 L1336,358.7 L1337,360.3 L1338,362.3 L1339,364.6 L1340,367.2 L1341,370.1 L1342,373.1 L1343,376.4 L1344,379.7 L1345,383.1 L1346,386.4 L1347,389.7 L1348,392.9 L1349,396.1 L1350,399.3 L1351,402.4 L1352,405.4 L1353,408.1 L1354,410.2 L1355,411.7 L1356,412.5 L1357,413 L1358,413 L1359,412.7 L1360,412.1 L1361,411.4 L1362,410.4 L1363,409.2 L1364,407.8 L1365,406.4 L1366,404.8 L1367,403.3 L1368,401.7 L1369,400.2 L1370,398.7 L1371,397.5 L1372,396.4 L1373,395.5 L1374,394.8 L1375,394.3 L1376,394.1 L1377,394.1 L1378,394.4 L1379,394.9 L1380,395.6 L1381,396.6 L1382,397.7 L1383,399.1 L1384,400.7 L1385,402.4 L1386,404.3 L1387,406.3 L1388,408.5 L1389,410.7 L1390,413 L1391,415.4 L1392,417.7 L1393,419.9 L1394,422.1 L1395,424 L1396,425.8 L1397,427.4 L1398,428.9 L1399,430.2 L1400,431.4 L1401,432.5 L1402,433.5 L1403,434.4 L1404,435.2 L1405,435.9 L1406,436.6 L1407,437.3 L1408,437.9 L1409,438.6 L1410,439.2 L1411,439.9 L1412,440.5 L1413,441.2 L1414,442 L1415,442.8 L1416,443.7 L1417,444.6 L1418,445.6 L1419,446.6 L1420,447.6 L1421,448.7 L1422,449.7 L1423,450.8 L1424,451.9 L1425,452.9 L1426,454 L1427,455 L1428,455.9 L1429,456.9 L1430,457.8 L1431,458.6 L1432,459.4 L1433,460.1 L1434,460.8 L1435,461.5 L1436,462.1 L1437,462.6 L1438,463.1 L1439,463.6 L1440,464 L1441,464.3 L1442,464.6 L1443,464.9 L1444,465.2 L1445,465.4 L1446,465.5 L1447,465.7 L1448,465.8 L1449,465.8 L1450,465.9 L1451,465.9 L1452,466 L1453,466 L1454,466 L1455,466 L1456,465.9 L1457,465.8 L1458,465.7 L1459,465.5 L1460,465.2 L1461,464.9 L1462,464.4 L1463,464 L1464,463.4 L1465,462.8 L1466,462.2 L1467,461.5 L1468,460.7 L1469,460 L1470,459.1 L1471,458.3 L1472,457.5 L1473,456.6 L1474,455.7 L1475,454.9 L1476,454 L1477,453.1 L1478,452.2 L1479,451.3 L1480,450.5 L1481,449.6 L1482,448.7 L1483,447.9 L1484,447 L1485,446.2 L1486,445.5 L1487,444.7 L1488,444 L1489,443.3 L1490,442.7 L1491,442.1 L1492,441.6 L1493,441 L1494,440.6 L1495,440.1 L1496,439.6 L1497,439.2 L1498,438.7 L1499,438.3 L1500,437.8 L1501,437.4 L1502,436.9 L1503,436.4 L1504,435.9 L1505,435.4 L1506,434.9 L1507,434.4 L1508,433.9 L1509,433.4 L1510,432.9 L1511,432.4 L1512,431.8 L1513,431.3 L1514,430.9 L1515,430.4 L1516,430 L1517,429.6 L1518,429.4 L1519,429.2 L1520,429.1 L1521,429.2 L1522,429.4 L1523,429.7 L1524,430.1 L1525,430.6 L1526,431.2 L1527,431.9 L1528,432.6 L1529,433.4 L1530,434.2 L1531,435.1 L1532,436 L1533,436.8 L1534,437.6 L1535,438.3 L1536,439 L1537,439.5 L1538,439.8 L1539,440 L1540,439.9 L1541,439.6 L1542,439.1 L1543,438.5 L1544,437.6 L1545,436.7 L1546,435.6 L1547,434.4 L1548,433.2 L1549,432 L1550,430.7 L1551,429.4 L1552,428.1 L1553,426.9 L1554,425.6 L1555,424.5 L1556,423.4 L1557,422.4 L1558,421.5 L1559,420.7 L1560,420 L1561,419.5 L1562,419.2 L1563,419 L1564,419.1 L1565,419.3 L1566,419.8 L1567,420.3 L1568,421 L1569,421.9 L1570,422.8 L1571,423.8 L1572,424.9 L1573,426 L1574,427.2 L1575,428.4 L1576,429.5 L1577,430.7 L1578,431.8 L1579,432.9 L1580,433.9 L1581,434.9 L1582,435.7 L1583,436.4 L1584,437 L1585,437.5 L1586,437.8 L1587,438 L1588,437.9 L1589,437.7 L1590,437.2 L1591,436.6 L1592,435.7 L1593,434.6 L1594,433.2 L1595,431.7 L1596,429.8 L1597,427.8 L1598,425.5 L1599,423.2 L1600,420.7 L1601,418.3 L1602,415.8 L1603,413.4 L1604,411.2 L1605,409.1 L1606,407.2 L1607,405.6 L1608,404.2 L1609,403.1 L1610,402.1 L1611,401.4 L1612,400.7 L1613,400.3 L1614,399.9 L1615,399.6 L1616,399.4 L1617,399.2 L1618,399.1 L1619,398.9 L1620,398.8 L1621,398.6 L1622,398.3 L1623,398 L1624,397.6 L1625,397 L1626,396.3 L1627,395.3 L1628,394.2 L1629,392.7 L1630,390.9 L1631,388.7 L1632,386.2 L1633,383.1 L1634,379.7 L1635,376 L1636,371.9 L1637,367.6 L1638,363.1 L1639,358.4 L1640,353.6 L1641,348.7 L1642,343.8 L1643,338.8 L1644,333.7 L1645,328.7 L1646,323.6 L1647,318.6 L1648,313.5 L1649,308.6 L1650,303.7 L1651,298.9 L1652,294.2 L1653,289.6 L1654,285.2 L1655,281 L1656,277 L1657,273.1 L1658,269.5 L1659,266.1 L1660,262.8 L1661,259.8 L1662,256.9 L1663,254.3 L1664,251.8 L1665,249.4 L1666,247.2 L1667,245.2 L1668,243.2 L1669,241.3 L1670,239.5 L1671,237.7 L1672,236 L1673,234.2 L1674,232.5 L1675,230.7 L1676,229 L1677,227.4 L1678,225.9 L1679,224.6 L1680,223.4 L1681,222.5 L1682,221.8 L1683,221.3 L1684,221.3 L1685,221.5 L1686,222.1 L1687,223.1 L1688,224.4 L1689,226.1 L1690,228.2 L1691,230.6 L1692,233.2 L1693,236" fill="none" stroke="#000000" stroke-width="2.6" stroke-linejoin="round"/>
<path d="M191,714.5 L192,710.7 L193,706.8 L194,702.7 L195,698.4 L196,693.7 L197,688.7 L198,683.6 L199,678.5 L200,673.4 L201,668.2 L202,663 L203,658 L204,653.3 L205,649.1 L206,645.7 L207,643 L208,640.9 L209,639.5 L210,638.6 L211,638.3 L212,638.3 L213,638.8 L214,639.5 L215,640.6 L216,641.9 L217,643.4 L218,645 L219,646.7 L220,648.5 L221,650.3 L222,652.1 L223,653.9 L224,655.5 L225,656.9 L226,658.2 L227,659.3 L228,660.2 L229,660.7 L230,661 L231,660.9 L232,660.5 L233,659.7 L234,658.5 L235,657 L236,655.1 L237,652.8 L238,650.2 L239,647.2 L240,643.9 L241,640.3 L242,636.4 L243,632.4 L244,628.2 L245,623.9 L246,619.5 L247,615.2 L248,610.9 L249,606.6 L250,602.5 L251,598.4 L252,594.5 L253,590.6 L254,586.7 L255,583 L256,579.4 L257,576 L258,572.9 L259,570.4 L260,568.6 L261,567.6 L262,567.4 L263,567.9 L264,569.1 L265,570.8 L266,572.8 L267,575.2 L268,577.8 L269,580.4 L270,583 L271,585.5 L272,587.8 L273,589.9 L274,591.8 L275,593.4 L276,594.6 L277,595.6 L278,596.1 L279,596.2 L280,595.9 L281,595.2 L282,594.1 L283,592.7 L284,590.9 L285,588.9 L286,586.7 L287,584.3 L288,581.7 L289,579 L290,576.3 L291,573.5 L292,570.7 L293,568.1 L294,565.5 L295,563 L296,560.7 L297,558.7 L298,557.1 L299,555.9 L300,555.2 L301,555 L302,555.5 L303,556.6 L304,558.1 L305,560.1 L306,562.3 L307,564.8 L308,567.5 L309,570.2 L310,573 L311,575.7 L312,578.4 L313,581 L314,583.7 L315,586.3 L316,588.9 L317,591.6 L318,594.4 L319,597.2 L320,600.2 L321,603.2 L322,606.4 L323,609.7 L324,613.1 L325,616.8 L326,620.5 L327,624.3 L328,628.3 L329,632.4 L330,636.5 L331,640.7 L332,645 L333,649.3 L334,653.6 L335,658 L336,662.4 L337,666.7 L338,670.8 L339,674.6 L340,678.1 L341,681.2 L342,683.7 L343,685.6 L344,686.8 L345,687.1 L346,686.7 L347,685.7 L348,684 L349,681.8 L350,679 L351,675.9 L352,672.4 L353,668.6 L354,664.6 L355,660.4 L356,656.2 L357,652 L358,648 L359,644.1 L360,640.5 L361,637.3 L362,634.6 L363,632.5 L364,631.2 L365,630.9 L366,631.4 L367,632.7 L368,634.7 L369,637.3 L370,640.5 L371,644.1 L372,648.1 L373,652.3 L374,656.6 L375,660.8 L376,664.9 L377,668.7 L378,672.1 L379,675.1 L380,677.5 L381,679.5 L382,681.1 L383,682.2 L384,682.8 L385,683 L386,682.8 L387,682.1 L388,681 L389,679.6 L390,677.8 L391,675.6 L392,673.1 L393,670.3 L394,667.2 L395,663.8 L396,660.2 L397,656.4 L398,652.4 L399,648.2 L400,643.9 L401,639.6 L402,635.2 L403,630.8 L404,626.4 L405,622.1 L406,617.9 L407,613.8 L408,610 L409,606.3 L410,603 L411,600 L412,597.3 L413,594.9 L414,592.9 L415,591.1 L416,589.4 L417,588 L418,586.6 L419,585.3 L420,584 L421,582.7 L422,581.3 L423,579.7 L424,578 L425,576.2 L426,574.2 L427,572.1 L428,569.8 L429,567.4 L430,564.9 L431,562.2 L432,559.4 L433,556.5 L434,553.6 L435,550.6 L436,547.6 L437,544.8 L438,542.3 L439,539.9 L440,538 L441,536.5 L442,535.3 L443,534.3 L444,533.6 L445,533 L446,532.4 L447,531.9 L448,531.5 L449,531.2 L450,531 L451,530.9 L452,530.9 L453,531 L454,531 L455,531 L456,530.9 L457,530.7 L458,530.3 L459,529.6 L460,528.8 L461,527.8 L462,526.7 L463,525.5 L464,524.3 L465,523 L466,521.7 L467,520.5 L468,519.3 L469,518.3 L470,517.5 L471,516.9 L472,516.5 L473,516.5 L474,516.9 L475,517.8 L476,519.4 L477,521.7 L478,524.9 L479,529.2 L480,534.4 L481,540.5 L482,547.3 L483,554.7 L484,562.5 L485,570.5 L486,578.6 L487,586.7 L488,594.7 L489,602.6 L490,610.3 L491,617.6 L492,624.7 L493,631.2 L494,637.4 L495,643 L496,648.3 L497,653.1 L498,657.5 L499,661.5 L500,665 L501,668 L502,670.2 L503,671.6 L504,671.9 L505,671.1 L506,669.4 L507,666.8 L508,663.5 L509,659.4 L510,654.8 L511,649.6 L512,644.1 L513,638.1 L514,631.9 L515,625.5 L516,619 L517,612.4 L518,605.9 L519,599.4 L520,593 L521,586.8 L522,580.9 L523,575.2 L524,569.9 L525,565.1 L526,560.8 L527,557.1 L528,554.1 L529,551.9 L530,550.5 L531,550.1 L532,550.5 L533,551.6 L534,553.4 L535,555.6 L536,558.4 L537,561.4 L538,564.6 L539,568 L540,571.5 L541,575 L542,578.4 L543,581.8 L544,585 L545,588 L546,590.7 L547,593.2 L548,595.2 L549,596.8 L550,597.9 L551,598.5 L552,598.4 L553,597.7 L554,596.4 L555,594.6 L556,592.3 L557,589.5 L558,586.4 L559,582.8 L560,579 L561,574.9 L562,570.7 L563,566.5 L564,562.2 L565,558 L566,554 L567,550.1 L568,546.6 L569,543.4 L570,540.7 L571,538.4 L572,536.8 L573,535.7 L574,535.5 L575,535.9 L576,537.2 L577,539.3 L578,542.1 L579,545.5 L580,549.7 L581,554.6 L582,560 L583,566.1 L584,572.7 L585,579.6 L586,586.7 L587,593.7 L588,600.6 L589,607.1 L590,613 L591,618.3 L592,622.9 L593,626.9 L594,630.4 L595,633.5 L596,636.1 L597,638.5 L598,640.4 L599,641.9 L600,642.8 L601,643 L602,642.6 L603,641.6 L604,640.1 L605,638.2 L606,636.1 L607,633.8 L608,631.4 L609,628.9 L610,626.4 L611,624 L612,621.6 L613,619.4 L614,617.3 L615,615.5 L616,613.9 L617,612.6 L618,611.6 L619,610.9 L620,610.6 L621,610.5 L622,610.8 L623,611.4 L624,612.1 L625,613 L626,614 L627,615 L628,616 L629,616.9 L630,617.8 L631,618.6 L632,619.2 L633,619.8 L634,620.2 L635,620.5 L636,620.6 L637,620.6 L638,620.4 L639,620 L640,619.4 L641,618.6 L642,617.7 L643,616.7 L644,615.5 L645,614.2 L646,612.9 L647,611.3 L648,609.7 L649,607.9 L650,606 L651,603.9 L652,601.7 L653,599.3 L654,596.7 L655,594 L656,591.3 L657,588.5 L658,585.8 L659,583.1 L660,580.5 L661,578.1 L662,575.8 L663,573.6 L664,571.5 L665,569.6 L666,567.7 L667,565.8 L668,564 L669,562.3 L670,560.5 L671,558.7 L672,557 L673,555.4 L674,553.8 L675,552.3 L676,551 L677,549.9 L678,549 L679,548.4 L680,548.1 L681,548 L682,548.4 L683,549.1 L684,550.4 L685,552.3 L686,554.8 L687,558 L688,562 L689,566.8 L690,572.5 L691,579.1 L692,586.5 L693,594.6 L694,603.5 L695,613 L696,623.2 L697,633.9 L698,645 L699,656.4 L700,668 L701,679.7 L702,691.3 L703,702.7 L704,713.8 L705,724.6 L706,734.7 L707,744.2 L708,753 L709,760.8 L710,767.8 L711,773.8 L712,779 L713,783.2 L714,786.5 L715,788.8 L716,790.4 L717,791.2 L718,791.3 L719,790.8 L720,789.7 L721,788.2 L722,786.1 L723,783.6 L724,780.7 L725,777.5 L726,773.9 L727,770.1 L728,766 L729,761.9 L730,757.7 L731,753.5 L732,749.4 L733,745.5 L734,741.7 L735,738.2 L736,734.7 L737,731.4 L738,728.1 L739,724.9 L740,721.6 L741,718.3 L742,714.9 L743,711.4 L744,707.8 L745,704 L746,699.9 L747,695.6 L748,690.9 L749,686 L750,680.6 L751,674.8 L752,668.6 L753,661.9 L754,655 L755,647.8 L756,640.6 L757,633.4 L758,626.4 L759,619.7 L760,613.4 L761,607.3 L762,601.6 L763,596.2 L764,591.1 L765,586.4 L766,581.9 L767,577.8 L768,574.1 L769,570.9 L770,568.2 L771,566.2 L772,565 L773,564.6 L774,565 L775,566.2 L776,568.2 L777,570.9 L778,574.2 L779,578.2 L780,582.7 L781,587.8 L782,593.3 L783,599.1 L784,605 L785,610.9 L786,616.7 L787,622.3 L788,627.4 L789,632.1 L790,636.3 L791,640 L792,643.3 L793,646.1 L794,648.4 L795,650.4 L796,651.9 L797,652.9 L798,653.5 L799,653.7 L800,653.4 L801,652.7 L802,651.6 L803,650.2 L804,648.7 L805,647 L806,645.3 L807,643.6 L808,642 L809,640.6 L810,639.3 L811,638.2 L812,637.3 L813,636.6 L814,636.2 L815,636 L816,636.1 L817,636.5 L818,637.2 L819,638.2 L820,639.2 L821,640.4 L822,641.6 L823,642.8 L824,644 L825,645 L826,645.9 L827,646.7 L828,647.4 L829,648 L830,648.6 L831,649 L832,649.4 L833,649.8 L834,650 L835,650.3 L836,650.6 L837,650.9 L838,651.1 L839,651.5 L840,651.9 L841,652.3 L842,652.9 L843,653.6 L844,654.5 L845,655.6 L846,657.1 L847,658.9 L848,661.1 L849,663.8 L850,667 L851,670.7 L852,674.7 L853,679 L854,683.3 L855,687.6 L856,691.7 L857,695.6 L858,699.1 L859,702.1 L860,704.8 L861,707.1 L862,709 L863,710.6 L864,711.8 L865,712.6 L866,713.2 L867,713.3 L868,713.2 L869,712.8 L870,712 L871,711 L872,709.7 L873,708.2 L874,706.4 L875,704.5 L876,702.3 L877,699.9 L878,697.3 L879,694.6 L880,691.9 L881,689.1 L882,686.3 L883,683.5 L884,680.8 L885,678.2 L886,675.7 L887,673.5 L888,671.3 L889,669.4 L890,667.6 L891,666 L892,664.6 L893,663.3 L894,662.2 L895,661.2 L896,660.5 L897,659.9 L898,659.4 L899,659.1 L900,658.9 L901,658.8 L902,658.8 L903,658.9 L904,659 L905,659.2 L906,659.5 L907,659.7 L908,660 L909,660.2 L910,660.4 L911,660.6 L912,660.6 L913,660.5 L914,660.4 L915,660 L916,659.5 L917,658.9 L918,658 L919,656.8 L920,655.4 L921,653.7 L922,651.7 L923,649.3 L924,646.6 L925,643.5 L926,640.2 L927,636.6 L928,632.8 L929,628.8 L930,624.8 L931,620.7 L932,616.7 L933,612.7 L934,608.9 L935,605.3 L936,602.1 L937,599.3 L938,597 L939,595.3 L940,594 L941,593.2 L942,592.8 L943,592.8 L944,593.1 L945,593.9 L946,595.3 L947,597.3 L948,600.1 L949,603.7 L950,608.2 L951,613.7 L952,620.1 L953,627.2 L954,634.9 L955,643 L956,651.3 L957,659.7 L958,668.1 L959,676.3 L960,684.3 L961,691.7 L962,698.6 L963,704.7 L964,710.2 L965,715.1 L966,719.2 L967,722.8 L968,725.6 L969,727.8 L970,729.4 L971,730.4 L972,730.7 L973,730.3 L974,729.3 L975,727.7 L976,725.5 L977,722.6 L978,719.1 L979,715 L980,710.3 L981,705.1 L982,699.5 L983,693.5 L984,687.3 L985,680.8 L986,674.1 L987,667.4 L988,660.8 L989,654.3 L990,648 L991,642 L992,636.5 L993,631.4 L994,626.8 L995,622.7 L996,619 L997,615.9 L998,613.3 L999,611.2 L1000,609.5 L1001,608.2 L1002,607.4 L1003,606.8 L1004,606.5 L1005,606.4 L1006,606.4 L1007,606.6 L1008,606.9 L1009,607.4 L1010,608 L1011,608.8 L1012,609.8 L1013,610.9 L1014,612.2 L1015,613.7 L1016,615.4 L1017,617.3 L1018,619.4 L1019,621.7 L1020,624.2 L1021,626.9 L1022,629.8 L1023,632.9 L1024,636.1 L1025,639.5 L1026,643 L1027,646.5 L1028,649.9 L1029,653.2 L1030,656.4 L1031,659.3 L1032,662 L1033,664.5 L1034,666.8 L1035,668.9 L1036,670.8 L1037,672.5 L1038,674.1 L1039,675.5 L1040,676.7 L1041,677.7 L1042,678.5 L1043,678.9 L1044,679.1 L1045,678.8 L1046,678.2 L1047,677.3 L1048,676.1 L1049,674.5 L1050,672.8 L1051,670.8 L1052,668.7 L1053,666.4 L1054,664.1 L1055,661.6 L1056,659.2 L1057,656.7 L1058,654.4 L1059,652.1 L1060,650 L1061,648.1 L1062,646.4 L1063,644.9 L1064,643.6 L1065,642.6 L1066,641.8 L1067,641.3 L1068,641.1 L1069,641.2 L1070,641.5 L1071,641.9 L1072,642.5 L1073,643.1 L1074,643.7 L1075,644.3 L1076,644.7 L1077,645.1 L1078,645.2 L1079,645.2 L1080,644.9 L1081,644.3 L1082,643.4 L1083,642.3 L1084,640.8 L1085,639 L1086,636.9 L1087,634.5 L1088,631.7 L1089,628.7 L1090,625.4 L1091,621.9 L1092,618.2 L1093,614.3 L1094,610.3 L1095,606.3 L1096,602.2 L1097,598.1 L1098,594.1 L1099,590.3 L1100,586.5 L1101,583.1 L1102,579.9 L1103,577.1 L1104,574.8 L1105,573 L1106,571.9 L1107,571.4 L1108,571.6 L1109,572.6 L1110,574.2 L1111,576.5 L1112,579.5 L1113,583.1 L1114,587.2 L1115,592 L1116,597.2 L1117,602.8 L1118,608.7 L1119,614.5 L1120,620.3 L1121,625.9 L1122,631.1 L1123,635.9 L1124,640.4 L1125,644.5 L1126,648.3 L1127,651.8 L1128,654.9 L1129,657.8 L1130,660.4 L1131,662.7 L1132,664.6 L1133,666 L1134,666.9 L1135,667.3 L1136,667.1 L1137,666.2 L1138,664.8 L1139,662.9 L1140,660.4 L1141,657.5 L1142,654.3 L1143,650.6 L1144,646.5 L1145,642 L1146,637 L1147,631.6 L1148,625.7 L1149,619.2 L1150,612.3 L1151,605.1 L1152,597.7 L1153,590.2 L1154,582.8 L1155,575.6 L1156,568.6 L1157,561.8 L1158,555.4 L1159,549.1 L1160,543 L1161,537.2 L1162,531.5 L1163,526 L1164,520.8 L1165,515.9 L1166,511.4 L1167,507.3 L1168,503.6 L1169,500.5 L1170,498 L1171,496 L1172,494.6 L1173,493.8 L1174,493.6 L1175,494.1 L1176,495.3 L1177,497.1 L1178,499.7 L1179,503 L1180,506.9 L1181,511.6 L1182,516.8 L1183,522.5 L1184,528.6 L1185,535 L1186,541.5 L1187,548.2 L1188,554.9 L1189,561.9 L1190,569.1 L1191,576.6 L1192,584.5 L1193,592.7 L1194,601.1 L1195,609.7 L1196,618.1 L1197,626.1 L1198,633.5 L1199,640.2 L1200,646 L1201,650.9 L1202,655.1 L1203,658.6 L1204,661.5 L1205,663.8 L1206,665.8 L1207,667.1 L1208,667.7 L1209,667.3 L1210,665.9 L1211,663.3 L1212,659.6 L1213,654.5 L1214,648.3 L1215,641.2 L1216,633.5 L1217,625.4 L1218,617.3 L1219,609.3 L1220,601.4 L1221,593.4 L1222,585.5 L1223,577.3 L1224,569.1 L1225,560.8 L1226,552.5 L1227,544.6 L1228,537 L1229,530 L1230,523.6 L1231,517.8 L1232,512.7 L1233,508.3 L1234,504.5 L1235,501.5 L1236,499.1 L1237,497.3 L1238,496.1 L1239,495.4 L1240,495.1 L1241,495.1 L1242,495.5 L1243,496.2 L1244,497.2 L1245,498.6 L1246,500.4 L1247,502.6 L1248,505.3 L1249,508.5 L1250,512 L1251,516 L1252,520.3 L1253,524.9 L1254,529.8 L1255,534.9 L1256,540.2 L1257,545.6 L1258,551 L1259,556.4 L1260,561.8 L1261,567.1 L1262,572.2 L1263,577.2 L1264,581.9 L1265,586.4 L1266,590.6 L1267,594.5 L1268,598.1 L1269,601.3 L1270,604.1 L1271,606.4 L1272,608.3 L1273,609.8 L1274,610.7 L1275,611.1 L1276,611 L1277,610.3 L1278,609 L1279,607.2 L1280,604.8 L1281,601.9 L1282,598.4 L1283,594.5 L1284,590.1 L1285,585.4 L1286,580.4 L1287,575.1 L1288,569.8 L1289,564.3 L1290,558.8 L1291,553.5 L1292,548.3 L1293,543.3 L1294,538.6 L1295,534.2 L1296,530.2 L1297,526.5 L1298,523.2 L1299,520.3 L1300,517.9 L1301,516 L1302,514.6 L1303,513.7 L1304,513.3 L1305,513.4 L1306,514.1 L1307,515.3 L1308,517 L1309,519 L1310,521.4 L1311,524.1 L1312,527 L1313,530.2 L1314,533.5 L1315,536.9 L1316,540.3 L1317,543.8 L1318,547.2 L1319,550.5 L1320,553.7 L1321,556.7 L1322,559.6 L1323,562.3 L1324,564.9 L1325,567.3 L1326,569.5 L1327,571.5 L1328,573.2 L1329,574.7 L1330,575.8 L1331,576.6 L1332,576.9 L1333,576.9 L1334,576.4 L1335,575.5 L1336,574.3 L1337,572.7 L1338,570.7 L1339,568.4 L1340,565.8 L1341,562.9 L1342,559.9 L1343,556.6 L1344,553.3 L1345,549.9 L1346,546.6 L1347,543.3 L1348,540.1 L1349,536.9 L1350,533.7 L1351,530.6 L1352,527.6 L1353,524.9 L1354,522.8 L1355,521.3 L1356,520.5 L1357,520 L1358,520 L1359,520.3 L1360,520.9 L1361,521.6 L1362,522.6 L1363,523.8 L1364,525.2 L1365,526.6 L1366,528.2 L1367,529.7 L1368,531.3 L1369,532.8 L1370,534.3 L1371,535.5 L1372,536.6 L1373,537.5 L1374,538.2 L1375,538.7 L1376,538.9 L1377,538.9 L1378,538.6 L1379,538.1 L1380,537.4 L1381,536.4 L1382,535.3 L1383,533.9 L1384,532.3 L1385,530.6 L1386,528.7 L1387,526.7 L1388,524.5 L1389,522.3 L1390,520 L1391,517.6 L1392,515.3 L1393,513.1 L1394,510.9 L1395,509 L1396,507.2 L1397,505.6 L1398,504.1 L1399,502.8 L1400,501.6 L1401,500.5 L1402,499.5 L1403,498.6 L1404,497.8 L1405,497.1 L1406,496.4 L1407,495.7 L1408,495.1 L1409,494.4 L1410,493.8 L1411,493.1 L1412,492.5 L1413,491.8 L1414,491 L1415,490.2 L1416,489.3 L1417,488.4 L1418,487.4 L1419,486.4 L1420,485.4 L1421,484.3 L1422,483.3 L1423,482.2 L1424,481.1 L1425,480.1 L1426,479 L1427,478 L1428,477.1 L1429,476.1 L1430,475.2 L1431,474.4 L1432,473.6 L1433,472.9 L1434,472.2 L1435,471.5 L1436,470.9 L1437,470.4 L1438,469.9 L1439,469.4 L1440,469 L1441,468.7 L1442,468.4 L1443,468.1 L1444,467.8 L1445,467.6 L1446,467.5 L1447,467.3 L1448,467.2 L1449,467.2 L1450,467.1 L1451,467.1 L1452,467 L1453,467 L1454,467 L1455,467 L1456,467.1 L1457,467.2 L1458,467.3 L1459,467.5 L1460,467.8 L1461,468.1 L1462,468.6 L1463,469 L1464,469.6 L1465,470.2 L1466,470.8 L1467,471.5 L1468,472.3 L1469,473 L1470,473.9 L1471,474.7 L1472,475.5 L1473,476.4 L1474,477.3 L1475,478.1 L1476,479 L1477,479.9 L1478,480.8 L1479,481.7 L1480,482.5 L1481,483.4 L1482,484.3 L1483,485.1 L1484,486 L1485,486.8 L1486,487.5 L1487,488.3 L1488,489 L1489,489.7 L1490,490.3 L1491,490.9 L1492,491.4 L1493,492 L1494,492.4 L1495,492.9 L1496,493.4 L1497,493.8 L1498,494.3 L1499,494.7 L1500,495.2 L1501,495.6 L1502,496.1 L1503,496.6 L1504,497.1 L1505,497.6 L1506,498.1 L1507,498.6 L1508,499.1 L1509,499.6 L1510,500.1 L1511,500.6 L1512,501.2 L1513,501.7 L1514,502.1 L1515,502.6 L1516,503 L1517,503.4 L1518,503.6 L1519,503.8 L1520,503.9 L1521,503.8 L1522,503.6 L1523,503.3 L1524,502.9 L1525,502.4 L1526,501.8 L1527,501.1 L1528,500.4 L1529,499.6 L1530,498.8 L1531,497.9 L1532,497 L1533,496.2 L1534,495.4 L1535,494.7 L1536,494 L1537,493.5 L1538,493.2 L1539,493 L1540,493.1 L1541,493.4 L1542,493.9 L1543,494.5 L1544,495.4 L1545,496.3 L1546,497.4 L1547,498.6 L1548,499.8 L1549,501 L1550,502.3 L1551,503.6 L1552,504.9 L1553,506.1 L1554,507.4 L1555,508.5 L1556,509.6 L1557,510.6 L1558,511.5 L1559,512.3 L1560,513 L1561,513.5 L1562,513.8 L1563,514 L1564,513.9 L1565,513.7 L1566,513.2 L1567,512.7 L1568,512 L1569,511.1 L1570,510.2 L1571,509.2 L1572,508.1 L1573,507 L1574,505.8 L1575,504.6 L1576,503.5 L1577,502.3 L1578,501.2 L1579,500.1 L1580,499.1 L1581,498.1 L1582,497.3 L1583,496.6 L1584,496 L1585,495.5 L1586,495.2 L1587,495 L1588,495.1 L1589,495.3 L1590,495.8 L1591,496.4 L1592,497.3 L1593,498.4 L1594,499.8 L1595,501.3 L1596,503.2 L1597,505.2 L1598,507.5 L1599,509.8 L1600,512.3 L1601,514.7 L1602,517.2 L1603,519.6 L1604,521.8 L1605,523.9 L1606,525.8 L1607,527.4 L1608,528.8 L1609,529.9 L1610,530.9 L1611,531.6 L1612,532.3 L1613,532.7 L1614,533.1 L1615,533.4 L1616,533.6 L1617,533.8 L1618,533.9 L1619,534.1 L1620,534.2 L1621,534.4 L1622,534.7 L1623,535 L1624,535.4 L1625,536 L1626,536.7 L1627,537.7 L1628,538.8 L1629,540.3 L1630,542.1 L1631,544.3 L1632,546.8 L1633,549.9 L1634,553.3 L1635,557 L1636,561.1 L1637,565.4 L1638,569.9 L1639,574.6 L1640,579.4 L1641,584.3 L1642,589.2 L1643,594.2 L1644,599.3 L1645,604.3 L1646,609.4 L1647,614.4 L1648,619.5 L1649,624.4 L1650,629.3 L1651,634.1 L1652,638.8 L1653,643.4 L1654,647.8 L1655,652 L1656,656 L1657,659.9 L1658,663.5 L1659,666.9 L1660,670.2 L1661,673.2 L1662,676.1 L1663,678.7 L1664,681.2 L1665,683.6 L1666,685.8 L1667,687.8 L1668,689.8 L1669,691.7 L1670,693.5 L1671,695.3 L1672,697 L1673,698.8 L1674,700.5 L1675,702.3 L1676,704 L1677,705.6 L1678,707.1 L1679,708.4 L1680,709.6 L1681,710.5 L1682,711.2 L1683,711.7 L1684,711.7 L1685,711.5 L1686,710.9 L1687,709.9 L1688,708.6 L1689,706.9 L1690,704.8 L1691,702.4 L1692,699.8 L1693,697" fill="none" stroke="#000000" stroke-width="2.6" stroke-linejoin="round"/>
<path d="M191,252.5 L192,257.4 L193,262.3 L194,267.2 L195,272 L196,276.8 L197,281.5 L198,286.1 L199,290.6 L200,295 L201,299.2 L202,303.3 L203,307.3 L204,311 L205,314.6 L206,317.9 L207,321 L208,323.9 L209,326.5 L210,328.9 L211,330.9 L212,332.6 L213,333.9 L214,334.9 L215,335.5 L216,335.7 L217,335.5 L218,335.1 L219,334.4 L220,333.6 L221,332.7 L222,331.7 L223,330.8 L224,330 L225,329.3 L226,328.8 L227,328.5 L228,328.5 L229,328.9 L230,329.5 L231,330.5 L232,331.8 L233,333.4 L234,335.2 L235,337.2 L236,339.4 L237,341.8 L238,344.3 L239,347 L240,349.7 L241,352.6 L242,355.6 L243,358.7 L244,361.8 L245,365 L246,368.2 L247,371.5 L248,374.8 L249,378.1 L250,381.3 L251,384.4 L252,387.5 L253,390.4 L254,393.2 L255,395.8 L256,398.2 L257,400.4 L258,402.4 L259,404 L260,405.3 L261,406.3 L262,406.9 L263,407 L264,406.8 L265,406.2 L266,405.4 L267,404.3 L268,403.1 L269,401.7 L270,400.4 L271,399.1 L272,397.8 L273,396.7 L274,395.7 L275,394.9 L276,394.2 L277,393.7 L278,393.4 L279,393.2 L280,393.3 L281,393.6 L282,394.1 L283,394.8 L284,395.7 L285,396.7 L286,397.9 L287,399.3 L288,400.7 L289,402.3 L290,404 L291,405.7 L292,407.4 L293,409.2 L294,410.9 L295,412.5 L296,414.1 L297,415.5 L298,416.8 L299,417.9 L300,418.8 L301,419.5 L302,419.9 L303,420 L304,419.8 L305,419.4 L306,418.7 L307,417.8 L308,416.6 L309,415.3 L310,413.9 L311,412.3 L312,410.5 L313,408.7 L314,406.9 L315,405 L316,403.1 L317,401.2 L318,399.2 L319,397.3 L320,395.3 L321,393.3 L322,391.3 L323,389.3 L324,387.3 L325,385.3 L326,383.3 L327,381.2 L328,379.1 L329,377.1 L330,375 L331,372.9 L332,370.8 L333,368.8 L334,366.8 L335,364.9 L336,363.1 L337,361.5 L338,359.9 L339,358.6 L340,357.4 L341,356.4 L342,355.7 L343,355.2 L344,355 L345,355.1 L346,355.4 L347,356 L348,356.9 L349,357.9 L350,359 L351,360.4 L352,361.8 L353,363.3 L354,364.8 L355,366.3 L356,367.7 L357,369.1 L358,370.2 L359,371.1 L360,371.7 L361,372 L362,371.9 L363,371.4 L364,370.5 L365,369.4 L366,367.9 L367,366.2 L368,364.3 L369,362.2 L370,360 L371,357.7 L372,355.2 L373,352.6 L374,350 L375,347.2 L376,344.4 L377,341.5 L378,338.5 L379,335.5 L380,332.5 L381,329.6 L382,327 L383,324.6 L384,322.6 L385,321.1 L386,320.1 L387,319.8 L388,320 L389,320.8 L390,322 L391,323.6 L392,325.6 L393,327.7 L394,330.1 L395,332.5 L396,335 L397,337.5 L398,340 L399,342.6 L400,345.1 L401,347.6 L402,350.1 L403,352.6 L404,355.1 L405,357.5 L406,359.9 L407,362.1 L408,364.3 L409,366.4 L410,368.4 L411,370.2 L412,371.8 L413,373.2 L414,374.4 L415,375.5 L416,376.4 L417,377.3 L418,378.1 L419,379 L420,379.9 L421,380.8 L422,381.9 L423,383.1 L424,384.5 L425,386.1 L426,387.7 L427,389.5 L428,391.3 L429,393.2 L430,395.2 L431,397.1 L432,399 L433,400.9 L434,402.8 L435,404.6 L436,406.4 L437,408 L438,409.6 L439,411.1 L440,412.5 L441,413.7 L442,414.9 L443,415.9 L444,416.8 L445,417.5 L446,418.1 L447,418.5 L448,418.8 L449,419 L450,419.2 L451,419.3 L452,419.4 L453,419.4 L454,419.5 L455,419.7 L456,419.9 L457,420.3 L458,420.7 L459,421.2 L460,421.8 L461,422.5 L462,423.3 L463,424.2 L464,425.2 L465,426.2 L466,427.4 L467,428.6 L468,429.7 L469,430.9 L470,431.9 L471,432.7 L472,433.4 L473,433.8 L474,434 L475,433.8 L476,433.2 L477,432.2 L478,430.8 L479,429.1 L480,427 L481,424.5 L482,421.6 L483,418.3 L484,414.7 L485,410.8 L486,406.8 L487,402.6 L488,398.3 L489,394.1 L490,390 L491,386 L492,382.3 L493,378.7 L494,375.3 L495,372.1 L496,369.1 L497,366.3 L498,363.8 L499,361.5 L500,359.6 L501,358.1 L502,357.1 L503,356.6 L504,356.9 L505,357.8 L506,359.3 L507,361.4 L508,363.9 L509,366.8 L510,370 L511,373.4 L512,377 L513,380.6 L514,384.4 L515,388.2 L516,392 L517,395.7 L518,399.3 L519,402.8 L520,406.1 L521,409.3 L522,412.3 L523,415.1 L524,417.6 L525,420 L526,422.1 L527,423.9 L528,425.5 L529,426.7 L530,427.5 L531,428 L532,428 L533,427.6 L534,426.8 L535,425.7 L536,424.4 L537,422.8 L538,421.1 L539,419.3 L540,417.5 L541,415.7 L542,414 L543,412.4 L544,410.9 L545,409.4 L546,408 L547,406.8 L548,405.7 L549,404.8 L550,404 L551,403.4 L552,403.1 L553,403.1 L554,403.3 L555,403.9 L556,404.8 L557,405.8 L558,407.1 L559,408.5 L560,410 L561,411.6 L562,413.2 L563,414.9 L564,416.5 L565,418.2 L566,420 L567,421.7 L568,423.3 L569,425 L570,426.5 L571,427.8 L572,428.9 L573,429.6 L574,430 L575,430 L576,429.5 L577,428.5 L578,427.2 L579,425.5 L580,423.5 L581,421.2 L582,418.8 L583,416.2 L584,413.5 L585,410.8 L586,408 L587,405.2 L588,402.5 L589,399.9 L590,397.5 L591,395.2 L592,393.1 L593,391.3 L594,389.6 L595,388.1 L596,386.9 L597,385.9 L598,385.2 L599,384.7 L600,384.5 L601,384.5 L602,384.9 L603,385.4 L604,386.2 L605,387.1 L606,388.1 L607,389.2 L608,390.3 L609,391.4 L610,392.5 L611,393.5 L612,394.4 L613,395.2 L614,395.9 L615,396.6 L616,397.1 L617,397.6 L618,398.1 L619,398.4 L620,398.8 L621,399 L622,399.2 L623,399.3 L624,399.4 L625,399.5 L626,399.5 L627,399.5 L628,399.5 L629,399.5 L630,399.4 L631,399.4 L632,399.4 L633,399.3 L634,399.3 L635,399.3 L636,399.4 L637,399.5 L638,399.6 L639,399.7 L640,399.9 L641,400.1 L642,400.4 L643,400.7 L644,401 L645,401.4 L646,401.8 L647,402.3 L648,402.7 L649,403.3 L650,403.8 L651,404.3 L652,404.9 L653,405.5 L654,406.1 L655,406.8 L656,407.4 L657,408.1 L658,408.7 L659,409.4 L660,410 L661,410.6 L662,411.3 L663,411.9 L664,412.6 L665,413.2 L666,413.9 L667,414.6 L668,415.3 L669,416 L670,416.7 L671,417.5 L672,418.3 L673,419.2 L674,420.1 L675,420.9 L676,421.8 L677,422.5 L678,423.2 L679,423.8 L680,424.2 L681,424.5 L682,424.5 L683,424.3 L684,423.9 L685,423.2 L686,422.2 L687,420.9 L688,419.3 L689,417.3 L690,415 L691,412.3 L692,409.1 L693,405.6 L694,401.8 L695,397.5 L696,392.9 L697,388 L698,382.9 L699,377.7 L700,372.5 L701,367.4 L702,362.3 L703,357.4 L704,352.6 L705,348 L706,343.6 L707,339.5 L708,335.6 L709,332 L710,328.7 L711,325.8 L712,323.2 L713,321 L714,319.1 L715,317.6 L716,316.6 L717,315.9 L718,315.7 L719,315.9 L720,316.5 L721,317.4 L722,318.6 L723,320.1 L724,321.8 L725,323.7 L726,325.7 L727,327.8 L728,330 L729,332.2 L730,334.4 L731,336.7 L732,338.9 L733,341.1 L734,343.3 L735,345.3 L736,347.3 L737,349.3 L738,351.1 L739,352.9 L740,354.8 L741,356.6 L742,358.6 L743,360.6 L744,362.8 L745,365.2 L746,367.7 L747,370.5 L748,373.4 L749,376.5 L750,379.6 L751,382.7 L752,385.9 L753,389 L754,392 L755,395 L756,397.7 L757,400.4 L758,402.8 L759,405.1 L760,407.3 L761,409.3 L762,411.2 L763,412.9 L764,414.5 L765,415.9 L766,417.2 L767,418.3 L768,419.1 L769,419.8 L770,420.2 L771,420.4 L772,420.3 L773,420 L774,419.3 L775,418.4 L776,417.2 L777,415.8 L778,414.2 L779,412.4 L780,410.4 L781,408.3 L782,406 L783,403.6 L784,401.1 L785,398.6 L786,396.1 L787,393.6 L788,391.2 L789,389 L790,386.9 L791,385 L792,383.3 L793,381.9 L794,380.7 L795,379.7 L796,379 L797,378.4 L798,378.1 L799,378 L800,378.1 L801,378.3 L802,378.8 L803,379.3 L804,379.9 L805,380.6 L806,381.3 L807,382 L808,382.6 L809,383.2 L810,383.6 L811,384 L812,384.3 L813,384.4 L814,384.4 L815,384.3 L816,383.9 L817,383.5 L818,382.9 L819,382.3 L820,381.6 L821,380.9 L822,380.1 L823,379.4 L824,378.7 L825,378.1 L826,377.5 L827,377 L828,376.6 L829,376.2 L830,375.8 L831,375.5 L832,375.2 L833,375 L834,374.8 L835,374.6 L836,374.4 L837,374.2 L838,374 L839,373.7 L840,373.4 L841,372.9 L842,372.4 L843,371.7 L844,370.9 L845,369.9 L846,368.9 L847,367.7 L848,366.4 L849,365 L850,363.5 L851,362 L852,360.4 L853,358.8 L854,357.1 L855,355.4 L856,353.7 L857,352 L858,350.4 L859,348.9 L860,347.5 L861,346.1 L862,344.9 L863,343.9 L864,343.1 L865,342.4 L866,342 L867,341.8 L868,341.8 L869,342.1 L870,342.6 L871,343.3 L872,344.1 L873,345 L874,346.1 L875,347.2 L876,348.4 L877,349.6 L878,350.9 L879,352.1 L880,353.4 L881,354.6 L882,355.9 L883,357.1 L884,358.3 L885,359.4 L886,360.5 L887,361.6 L888,362.6 L889,363.5 L890,364.4 L891,365.2 L892,365.9 L893,366.6 L894,367.2 L895,367.7 L896,368.2 L897,368.6 L898,369 L899,369.3 L900,369.6 L901,369.8 L902,370 L903,370.2 L904,370.3 L905,370.4 L906,370.5 L907,370.6 L908,370.7 L909,370.8 L910,370.9 L911,371.1 L912,371.3 L913,371.6 L914,371.9 L915,372.2 L916,372.7 L917,373.2 L918,373.9 L919,374.6 L920,375.5 L921,376.5 L922,377.7 L923,379 L924,380.5 L925,382.2 L926,384.1 L927,386.1 L928,388.2 L929,390.4 L930,392.6 L931,394.7 L932,396.7 L933,398.6 L934,400.3 L935,401.8 L936,403.1 L937,404.1 L938,404.9 L939,405.5 L940,405.9 L941,406.1 L942,406.1 L943,405.9 L944,405.4 L945,404.8 L946,403.9 L947,402.7 L948,401.3 L949,399.5 L950,397.4 L951,394.9 L952,392.1 L953,389 L954,385.7 L955,382.2 L956,378.5 L957,374.6 L958,370.7 L959,366.8 L960,362.8 L961,359 L962,355.3 L963,351.9 L964,348.7 L965,345.8 L966,343.2 L967,340.9 L968,339 L969,337.6 L970,336.5 L971,335.8 L972,335.7 L973,336 L974,336.8 L975,338 L976,339.5 L977,341.4 L978,343.6 L979,346 L980,348.6 L981,351.4 L982,354.4 L983,357.4 L984,360.5 L985,363.6 L986,366.7 L987,369.7 L988,372.7 L989,375.5 L990,378.1 L991,380.6 L992,383 L993,385.2 L994,387.2 L995,389 L996,390.6 L997,392 L998,393.2 L999,394.1 L1000,395 L1001,395.6 L1002,396.1 L1003,396.4 L1004,396.6 L1005,396.6 L1006,396.5 L1007,396.3 L1008,396 L1009,395.7 L1010,395.2 L1011,394.7 L1012,394.1 L1013,393.4 L1014,392.8 L1015,392.1 L1016,391.3 L1017,390.6 L1018,389.9 L1019,389.1 L1020,388.2 L1021,387.4 L1022,386.4 L1023,385.5 L1024,384.4 L1025,383.3 L1026,382.1 L1027,380.9 L1028,379.6 L1029,378.3 L1030,377 L1031,375.6 L1032,374.3 L1033,373 L1034,371.8 L1035,370.6 L1036,369.4 L1037,368.4 L1038,367.4 L1039,366.6 L1040,366 L1041,365.4 L1042,365.1 L1043,365 L1044,365 L1045,365.3 L1046,365.8 L1047,366.4 L1048,367.1 L1049,368 L1050,369 L1051,370 L1052,371 L1053,372.1 L1054,373.2 L1055,374.3 L1056,375.3 L1057,376.4 L1058,377.3 L1059,378.3 L1060,379.1 L1061,379.9 L1062,380.5 L1063,381 L1064,381.5 L1065,381.7 L1066,381.8 L1067,381.8 L1068,381.6 L1069,381.2 L1070,380.8 L1071,380.3 L1072,379.8 L1073,379.3 L1074,378.8 L1075,378.4 L1076,378 L1077,377.8 L1078,377.7 L1079,377.8 L1080,378.1 L1081,378.5 L1082,379.2 L1083,380.1 L1084,381.1 L1085,382.3 L1086,383.6 L1087,385.1 L1088,386.7 L1089,388.4 L1090,390.2 L1091,392 L1092,393.9 L1093,395.8 L1094,397.8 L1095,399.7 L1096,401.5 L1097,403.3 L1098,405.1 L1099,406.8 L1100,408.5 L1101,410 L1102,411.6 L1103,413 L1104,414.4 L1105,415.6 L1106,416.6 L1107,417.3 L1108,417.6 L1109,417.5 L1110,416.9 L1111,416 L1112,414.8 L1113,413.3 L1114,411.5 L1115,409.6 L1116,407.5 L1117,405.4 L1118,403.1 L1119,400.8 L1120,398.5 L1121,396.2 L1122,393.8 L1123,391.5 L1124,389.3 L1125,387.1 L1126,385 L1127,383 L1128,381.1 L1129,379.4 L1130,377.9 L1131,376.5 L1132,375.5 L1133,374.6 L1134,374.1 L1135,373.9 L1136,374.1 L1137,374.6 L1138,375.5 L1139,376.6 L1140,378.1 L1141,379.8 L1142,381.7 L1143,383.8 L1144,386 L1145,388.4 L1146,390.9 L1147,393.5 L1148,396.2 L1149,398.9 L1150,401.7 L1151,404.4 L1152,407.2 L1153,410 L1154,412.7 L1155,415.4 L1156,418.1 L1157,420.7 L1158,423.4 L1159,426 L1160,428.6 L1161,431.1 L1162,433.6 L1163,436.1 L1164,438.5 L1165,440.8 L1166,443 L1167,445.1 L1168,447.1 L1169,449 L1170,450.7 L1171,452 L1172,453.1 L1173,453.7 L1174,453.9 L1175,453.7 L1176,452.9 L1177,451.9 L1178,450.5 L1179,448.8 L1180,446.8 L1181,444.7 L1182,442.4 L1183,440 L1184,437.3 L1185,434.5 L1186,431.5 L1187,428.4 L1188,425 L1189,421.4 L1190,417.7 L1191,413.9 L1192,410 L1193,406.2 L1194,402.5 L1195,398.9 L1196,395.6 L1197,392.6 L1198,389.9 L1199,387.4 L1200,385.3 L1201,383.3 L1202,381.6 L1203,380.2 L1204,378.9 L1205,377.8 L1206,376.8 L1207,376.3 L1208,376.2 L1209,376.8 L1210,378.1 L1211,379.9 L1212,382.2 L1213,384.8 L1214,387.7 L1215,390.7 L1216,393.9 L1217,397.2 L1218,400.7 L1219,404.3 L1220,407.9 L1221,411.7 L1222,415.4 L1223,419.2 L1224,422.9 L1225,426.5 L1226,430 L1227,433.3 L1228,436.5 L1229,439.4 L1230,442.1 L1231,444.5 L1232,446.7 L1233,448.6 L1234,450.2 L1235,451.6 L1236,452.6 L1237,453.4 L1238,454 L1239,454.4 L1240,454.5 L1241,454.5 L1242,454.2 L1243,453.8 L1244,453.2 L1245,452.4 L1246,451.4 L1247,450.2 L1248,448.8 L1249,447.2 L1250,445.4 L1251,443.4 L1252,441.2 L1253,439 L1254,436.6 L1255,434.3 L1256,431.9 L1257,429.5 L1258,427.3 L1259,425.1 L1260,423 L1261,421.1 L1262,419.3 L1263,417.5 L1264,415.9 L1265,414.4 L1266,412.9 L1267,411.5 L1268,410.2 L1269,409 L1270,407.9 L1271,406.9 L1272,406.2 L1273,405.6 L1274,405.2 L1275,405 L1276,405 L1277,405.4 L1278,405.9 L1279,406.8 L1280,407.8 L1281,409.1 L1282,410.7 L1283,412.4 L1284,414.4 L1285,416.6 L1286,418.9 L1287,421.3 L1288,423.7 L1289,426.2 L1290,428.5 L1291,430.7 L1292,432.7 L1293,434.6 L1294,436.3 L1295,437.9 L1296,439.4 L1297,440.7 L1298,441.9 L1299,443 L1300,444 L1301,444.8 L1302,445.4 L1303,445.8 L1304,446 L1305,445.9 L1306,445.6 L1307,444.9 L1308,444.1 L1309,443.1 L1310,442 L1311,440.7 L1312,439.4 L1313,438.2 L1314,436.9 L1315,435.7 L1316,434.5 L1317,433.4 L1318,432.2 L1319,431.2 L1320,430.1 L1321,429 L1322,427.9 L1323,426.9 L1324,425.8 L1325,424.8 L1326,423.8 L1327,423 L1328,422.3 L1329,421.7 L1330,421.4 L1331,421.3 L1332,421.4 L1333,421.8 L1334,422.4 L1335,423.3 L1336,424.3 L1337,425.4 L1338,426.7 L1339,428 L1340,429.3 L1341,430.6 L1342,431.9 L1343,433.1 L1344,434.2 L1345,435.3 L1346,436.4 L1347,437.4 L1348,438.4 L1349,439.3 L1350,440.3 L1351,441.2 L1352,442.1 L1353,443 L1354,443.7 L1355,444.3 L1356,444.8 L1357,445.1 L1358,445.1 L1359,445 L1360,444.6 L1361,444.2 L1362,443.6 L1363,443 L1364,442.3 L1365,441.7 L1366,441 L1367,440.4 L1368,439.9 L1369,439.4 L1370,438.9 L1371,438.5 L1372,438.2 L1373,438 L1374,437.8 L1375,437.7 L1376,437.7 L1377,437.7 L1378,437.9 L1379,438.2 L1380,438.5 L1381,438.9 L1382,439.4 L1383,440 L1384,440.7 L1385,441.4 L1386,442.1 L1387,442.9 L1388,443.8 L1389,444.6 L1390,445.5 L1391,446.4 L1392,447.3 L1393,448.1 L1394,448.9 L1395,449.6 L1396,450.2 L1397,450.8 L1398,451.4 L1399,451.9 L1400,452.4 L1401,452.8 L1402,453.2 L1403,453.5 L1404,453.8 L1405,454.2 L1406,454.4 L1407,454.7 L1408,455 L1409,455.2 L1410,455.4 L1411,455.7 L1412,455.9 L1413,456.1 L1414,456.3 L1415,456.5 L1416,456.8 L1417,457 L1418,457.3 L1419,457.6 L1420,458 L1421,458.3 L1422,458.8 L1423,459.3 L1424,459.9 L1425,460.5 L1426,461.2 L1427,461.9 L1428,462.6 L1429,463.3 L1430,463.8 L1431,464.2 L1432,464.6 L1433,464.9 L1434,465.2 L1435,465.4 L1436,465.6 L1437,465.7 L1438,465.8 L1439,465.8 L1440,465.9 L1441,465.9 L1442,465.9 L1443,466 L1444,466 L1445,466.1 L1446,466.2 L1447,466.2 L1448,466.3 L1449,466.3 L1450,466.4 L1451,466.5 L1452,466.5 L1453,466.5 L1454,466.5 L1455,466.5 L1456,466.5 L1457,466.5 L1458,466.5 L1459,466.4 L1460,466.4 L1461,466.3 L1462,466.2 L1463,466.1 L1464,466 L1465,465.8 L1466,465.7 L1467,465.5 L1468,465.4 L1469,465.2 L1470,465 L1471,464.8 L1472,464.6 L1473,464.4 L1474,464.1 L1475,463.9 L1476,463.7 L1477,463.5 L1478,463.3 L1479,463.1 L1480,462.9 L1481,462.7 L1482,462.5 L1483,462.3 L1484,462.1 L1485,462 L1486,461.8 L1487,461.7 L1488,461.5 L1489,461.4 L1490,461.3 L1491,461.1 L1492,461 L1493,460.9 L1494,460.8 L1495,460.7 L1496,460.5 L1497,460.4 L1498,460.3 L1499,460.2 L1500,460 L1501,459.9 L1502,459.7 L1503,459.6 L1504,459.4 L1505,459.2 L1506,459.1 L1507,458.9 L1508,458.8 L1509,458.6 L1510,458.5 L1511,458.4 L1512,458.3 L1513,458.2 L1514,458.1 L1515,458 L1516,458 L1517,458 L1518,458 L1519,458 L1520,458.1 L1521,458.2 L1522,458.3 L1523,458.5 L1524,458.6 L1525,458.8 L1526,459 L1527,459.2 L1528,459.4 L1529,459.6 L1530,459.8 L1531,460 L1532,460.1 L1533,460.3 L1534,460.4 L1535,460.5 L1536,460.6 L1537,460.6 L1538,460.6 L1539,460.5 L1540,460.4 L1541,460.2 L1542,460 L1543,459.8 L1544,459.5 L1545,459.2 L1546,458.8 L1547,458.4 L1548,458.1 L1549,457.7 L1550,457.3 L1551,456.9 L1552,456.5 L1553,456.1 L1554,455.7 L1555,455.4 L1556,455.1 L1557,454.8 L1558,454.5 L1559,454.3 L1560,454.2 L1561,454.1 L1562,454 L1563,454 L1564,454.1 L1565,454.2 L1566,454.4 L1567,454.6 L1568,454.9 L1569,455.1 L1570,455.4 L1571,455.7 L1572,456.1 L1573,456.4 L1574,456.7 L1575,457.1 L1576,457.4 L1577,457.7 L1578,458 L1579,458.3 L1580,458.5 L1581,458.7 L1582,458.9 L1583,459 L1584,459 L1585,459 L1586,459 L1587,458.8 L1588,458.6 L1589,458.4 L1590,458 L1591,457.6 L1592,457.2 L1593,456.7 L1594,456.1 L1595,455.5 L1596,454.9 L1597,454.3 L1598,453.6 L1599,452.9 L1600,452.3 L1601,451.6 L1602,451 L1603,450.4 L1604,449.8 L1605,449.2 L1606,448.7 L1607,448.2 L1608,447.7 L1609,447.4 L1610,447.1 L1611,446.8 L1612,446.6 L1613,446.4 L1614,446.2 L1615,446.1 L1616,445.9 L1617,445.7 L1618,445.6 L1619,445.4 L1620,445.1 L1621,444.9 L1622,444.5 L1623,444.1 L1624,443.7 L1625,443.2 L1626,442.5 L1627,441.8 L1628,441.1 L1629,440.2 L1630,439.2 L1631,438.1 L1632,437 L1633,435.7 L1634,434.4 L1635,432.9 L1636,431.4 L1637,429.8 L1638,428.1 L1639,426.4 L1640,424.5 L1641,422.7 L1642,420.7 L1643,418.7 L1644,416.7 L1645,414.6 L1646,412.6 L1647,410.5 L1648,408.4 L1649,406.4 L1650,404.4 L1651,402.5 L1652,400.6 L1653,398.8 L1654,397.1 L1655,395.5 L1656,394 L1657,392.5 L1658,391.1 L1659,389.8 L1660,388.6 L1661,387.4 L1662,386.3 L1663,385.3 L1664,384.3 L1665,383.4 L1666,382.5 L1667,381.6 L1668,380.8 L1669,380 L1670,379.1 L1671,378.3 L1672,377.4 L1673,376.5 L1674,375.6 L1675,374.7 L1676,373.7 L1677,372.8 L1678,372 L1679,371.2 L1680,370.6 L1681,370.1 L1682,369.8 L1683,369.7 L1684,369.9 L1685,370.2 L1686,370.8 L1687,371.5 L1688,372.2 L1689,372.9 L1690,373.6 L1691,374.1 L1692,374.6 L1693,375 L1693,558 L1692,558.4 L1691,558.9 L1690,559.4 L1689,560.1 L1688,560.8 L1687,561.5 L1686,562.2 L1685,562.8 L1684,563.1 L1683,563.3 L1682,563.2 L1681,562.9 L1680,562.4 L1679,561.8 L1678,561 L1677,560.2 L1676,559.3 L1675,558.3 L1674,557.4 L1673,556.5 L1672,555.6 L1671,554.7 L1670,553.9 L1669,553 L1668,552.2 L1667,551.4 L1666,550.5 L1665,549.6 L1664,548.7 L1663,547.7 L1662,546.7 L1661,545.6 L1660,544.4 L1659,543.2 L1658,541.9 L1657,540.5 L1656,539 L1655,537.5 L1654,535.9 L1653,534.2 L1652,532.4 L1651,530.5 L1650,528.6 L1649,526.6 L1648,524.6 L1647,522.5 L1646,520.4 L1645,518.4 L1644,516.3 L1643,514.3 L1642,512.3 L1641,510.3 L1640,508.5 L1639,506.6 L1638,504.9 L1637,503.2 L1636,501.6 L1635,500.1 L1634,498.6 L1633,497.3 L1632,496 L1631,494.9 L1630,493.8 L1629,492.8 L1628,491.9 L1627,491.2 L1626,490.5 L1625,489.8 L1624,489.3 L1623,488.9 L1622,488.5 L1621,488.1 L1620,487.9 L1619,487.6 L1618,487.4 L1617,487.3 L1616,487.1 L1615,486.9 L1614,486.8 L1613,486.6 L1612,486.4 L1611,486.2 L1610,485.9 L1609,485.6 L1608,485.3 L1607,484.8 L1606,484.3 L1605,483.8 L1604,483.2 L1603,482.6 L1602,482 L1601,481.4 L1600,480.7 L1599,480.1 L1598,479.4 L1597,478.7 L1596,478.1 L1595,477.5 L1594,476.9 L1593,476.3 L1592,475.8 L1591,475.4 L1590,475 L1589,474.6 L1588,474.4 L1587,474.2 L1586,474 L1585,474 L1584,474 L1583,474 L1582,474.1 L1581,474.3 L1580,474.5 L1579,474.7 L1578,475 L1577,475.3 L1576,475.6 L1575,475.9 L1574,476.3 L1573,476.6 L1572,476.9 L1571,477.3 L1570,477.6 L1569,477.9 L1568,478.1 L1567,478.4 L1566,478.6 L1565,478.8 L1564,478.9 L1563,479 L1562,479 L1561,478.9 L1560,478.8 L1559,478.7 L1558,478.5 L1557,478.2 L1556,477.9 L1555,477.6 L1554,477.3 L1553,476.9 L1552,476.5 L1551,476.1 L1550,475.7 L1549,475.3 L1548,474.9 L1547,474.6 L1546,474.2 L1545,473.8 L1544,473.5 L1543,473.2 L1542,473 L1541,472.8 L1540,472.6 L1539,472.5 L1538,472.4 L1537,472.4 L1536,472.4 L1535,472.5 L1534,472.6 L1533,472.7 L1532,472.9 L1531,473 L1530,473.2 L1529,473.4 L1528,473.6 L1527,473.8 L1526,474 L1525,474.2 L1524,474.4 L1523,474.5 L1522,474.7 L1521,474.8 L1520,474.9 L1519,475 L1518,475 L1517,475 L1516,475 L1515,475 L1514,474.9 L1513,474.8 L1512,474.7 L1511,474.6 L1510,474.5 L1509,474.4 L1508,474.2 L1507,474.1 L1506,473.9 L1505,473.8 L1504,473.6 L1503,473.4 L1502,473.3 L1501,473.1 L1500,473 L1499,472.8 L1498,472.7 L1497,472.6 L1496,472.5 L1495,472.3 L1494,472.2 L1493,472.1 L1492,472 L1491,471.9 L1490,471.7 L1489,471.6 L1488,471.5 L1487,471.3 L1486,471.2 L1485,471 L1484,470.9 L1483,470.7 L1482,470.5 L1481,470.3 L1480,470.1 L1479,469.9 L1478,469.7 L1477,469.5 L1476,469.3 L1475,469.1 L1474,468.9 L1473,468.6 L1472,468.4 L1471,468.2 L1470,468 L1469,467.8 L1468,467.6 L1467,467.5 L1466,467.3 L1465,467.2 L1464,467 L1463,466.9 L1462,466.8 L1461,466.7 L1460,466.6 L1459,466.6 L1458,466.5 L1457,466.5 L1456,466.5 L1455,466.5 L1454,466.5 L1453,466.5 L1452,466.5 L1451,466.5 L1450,466.6 L1449,466.7 L1448,466.7 L1447,466.8 L1446,466.8 L1445,466.9 L1444,467 L1443,467 L1442,467.1 L1441,467.1 L1440,467.1 L1439,467.2 L1438,467.2 L1437,467.3 L1436,467.4 L1435,467.6 L1434,467.8 L1433,468.1 L1432,468.4 L1431,468.8 L1430,469.2 L1429,469.7 L1428,470.4 L1427,471.1 L1426,471.8 L1425,472.5 L1424,473.1 L1423,473.7 L1422,474.2 L1421,474.7 L1420,475 L1419,475.4 L1418,475.7 L1417,476 L1416,476.2 L1415,476.5 L1414,476.7 L1413,476.9 L1412,477.1 L1411,477.3 L1410,477.6 L1409,477.8 L1408,478 L1407,478.3 L1406,478.6 L1405,478.8 L1404,479.2 L1403,479.5 L1402,479.8 L1401,480.2 L1400,480.6 L1399,481.1 L1398,481.6 L1397,482.2 L1396,482.8 L1395,483.4 L1394,484.1 L1393,484.9 L1392,485.7 L1391,486.6 L1390,487.5 L1389,488.4 L1388,489.2 L1387,490.1 L1386,490.9 L1385,491.6 L1384,492.3 L1383,493 L1382,493.6 L1381,494.1 L1380,494.5 L1379,494.8 L1378,495.1 L1377,495.3 L1376,495.3 L1375,495.3 L1374,495.2 L1373,495 L1372,494.8 L1371,494.5 L1370,494.1 L1369,493.6 L1368,493.1 L1367,492.6 L1366,492 L1365,491.3 L1364,490.7 L1363,490 L1362,489.4 L1361,488.8 L1360,488.4 L1359,488 L1358,487.9 L1357,487.9 L1356,488.2 L1355,488.7 L1354,489.3 L1353,490 L1352,490.9 L1351,491.8 L1350,492.7 L1349,493.7 L1348,494.6 L1347,495.6 L1346,496.6 L1345,497.7 L1344,498.8 L1343,499.9 L1342,501.1 L1341,502.4 L1340,503.7 L1339,505 L1338,506.3 L1337,507.6 L1336,508.7 L1335,509.7 L1334,510.6 L1333,511.2 L1332,511.6 L1331,511.7 L1330,511.6 L1329,511.3 L1328,510.7 L1327,510 L1326,509.2 L1325,508.2 L1324,507.2 L1323,506.1 L1322,505.1 L1321,504 L1320,502.9 L1319,501.8 L1318,500.8 L1317,499.6 L1316,498.5 L1315,497.3 L1314,496.1 L1313,494.8 L1312,493.6 L1311,492.3 L1310,491 L1309,489.9 L1308,488.9 L1307,488.1 L1306,487.4 L1305,487.1 L1304,487 L1303,487.2 L1302,487.6 L1301,488.2 L1300,489 L1299,490 L1298,491.1 L1297,492.3 L1296,493.6 L1295,495.1 L1294,496.7 L1293,498.4 L1292,500.3 L1291,502.3 L1290,504.5 L1289,506.8 L1288,509.3 L1287,511.7 L1286,514.1 L1285,516.4 L1284,518.6 L1283,520.6 L1282,522.3 L1281,523.9 L1280,525.2 L1279,526.2 L1278,527.1 L1277,527.6 L1276,528 L1275,528 L1274,527.8 L1273,527.4 L1272,526.8 L1271,526.1 L1270,525.1 L1269,524 L1268,522.8 L1267,521.5 L1266,520.1 L1265,518.6 L1264,517.1 L1263,515.5 L1262,513.7 L1261,511.9 L1260,510 L1259,507.9 L1258,505.7 L1257,503.5 L1256,501.1 L1255,498.7 L1254,496.4 L1253,494 L1252,491.8 L1251,489.6 L1250,487.6 L1249,485.8 L1248,484.2 L1247,482.8 L1246,481.6 L1245,480.6 L1244,479.8 L1243,479.2 L1242,478.8 L1241,478.5 L1240,478.5 L1239,478.6 L1238,479 L1237,479.6 L1236,480.4 L1235,481.4 L1234,482.8 L1233,484.4 L1232,486.3 L1231,488.5 L1230,490.9 L1229,493.6 L1228,496.5 L1227,499.7 L1226,503 L1225,506.5 L1224,510.1 L1223,513.8 L1222,517.6 L1221,521.3 L1220,525.1 L1219,528.7 L1218,532.3 L1217,535.8 L1216,539.1 L1215,542.3 L1214,545.3 L1213,548.2 L1212,550.8 L1211,553.1 L1210,554.9 L1209,556.2 L1208,556.8 L1207,556.7 L1206,556.2 L1205,555.2 L1204,554.1 L1203,552.8 L1202,551.4 L1201,549.7 L1200,547.7 L1199,545.6 L1198,543.1 L1197,540.4 L1196,537.4 L1195,534.1 L1194,530.5 L1193,526.8 L1192,523 L1191,519.1 L1190,515.3 L1189,511.6 L1188,508 L1187,504.6 L1186,501.5 L1185,498.5 L1184,495.7 L1183,493 L1182,490.6 L1181,488.3 L1180,486.2 L1179,484.2 L1178,482.5 L1177,481.1 L1176,480.1 L1175,479.3 L1174,479.1 L1173,479.3 L1172,479.9 L1171,481 L1170,482.3 L1169,484 L1168,485.9 L1167,487.9 L1166,490 L1165,492.2 L1164,494.5 L1163,496.9 L1162,499.4 L1161,501.9 L1160,504.4 L1159,507 L1158,509.6 L1157,512.3 L1156,514.9 L1155,517.6 L1154,520.3 L1153,523 L1152,525.8 L1151,528.6 L1150,531.3 L1149,534.1 L1148,536.8 L1147,539.5 L1146,542.1 L1145,544.6 L1144,547 L1143,549.2 L1142,551.3 L1141,553.2 L1140,554.9 L1139,556.4 L1138,557.5 L1137,558.4 L1136,558.9 L1135,559.1 L1134,558.9 L1133,558.4 L1132,557.5 L1131,556.5 L1130,555.1 L1129,553.6 L1128,551.9 L1127,550 L1126,548 L1125,545.9 L1124,543.7 L1123,541.5 L1122,539.2 L1121,536.8 L1120,534.5 L1119,532.2 L1118,529.9 L1117,527.6 L1116,525.5 L1115,523.4 L1114,521.5 L1113,519.7 L1112,518.2 L1111,517 L1110,516.1 L1109,515.5 L1108,515.4 L1107,515.7 L1106,516.4 L1105,517.4 L1104,518.6 L1103,520 L1102,521.4 L1101,523 L1100,524.5 L1099,526.2 L1098,527.9 L1097,529.7 L1096,531.5 L1095,533.3 L1094,535.2 L1093,537.2 L1092,539.1 L1091,541 L1090,542.8 L1089,544.6 L1088,546.3 L1087,547.9 L1086,549.4 L1085,550.7 L1084,551.9 L1083,552.9 L1082,553.8 L1081,554.5 L1080,554.9 L1079,555.2 L1078,555.3 L1077,555.2 L1076,555 L1075,554.6 L1074,554.2 L1073,553.7 L1072,553.2 L1071,552.7 L1070,552.2 L1069,551.8 L1068,551.4 L1067,551.2 L1066,551.2 L1065,551.3 L1064,551.5 L1063,552 L1062,552.5 L1061,553.1 L1060,553.9 L1059,554.7 L1058,555.7 L1057,556.6 L1056,557.7 L1055,558.7 L1054,559.8 L1053,560.9 L1052,562 L1051,563 L1050,564 L1049,565 L1048,565.9 L1047,566.6 L1046,567.2 L1045,567.7 L1044,568 L1043,568 L1042,567.9 L1041,567.6 L1040,567 L1039,566.4 L1038,565.6 L1037,564.6 L1036,563.6 L1035,562.4 L1034,561.2 L1033,560 L1032,558.7 L1031,557.4 L1030,556 L1029,554.7 L1028,553.4 L1027,552.1 L1026,550.9 L1025,549.7 L1024,548.6 L1023,547.5 L1022,546.6 L1021,545.6 L1020,544.8 L1019,543.9 L1018,543.1 L1017,542.4 L1016,541.7 L1015,540.9 L1014,540.2 L1013,539.6 L1012,538.9 L1011,538.3 L1010,537.8 L1009,537.3 L1008,537 L1007,536.7 L1006,536.5 L1005,536.4 L1004,536.4 L1003,536.6 L1002,536.9 L1001,537.4 L1000,538 L999,538.9 L998,539.8 L997,541 L996,542.4 L995,544 L994,545.8 L993,547.8 L992,550 L991,552.4 L990,554.9 L989,557.5 L988,560.3 L987,563.3 L986,566.3 L985,569.4 L984,572.5 L983,575.6 L982,578.6 L981,581.6 L980,584.4 L979,587 L978,589.4 L977,591.6 L976,593.5 L975,595 L974,596.2 L973,597 L972,597.3 L971,597.2 L970,596.5 L969,595.4 L968,594 L967,592.1 L966,589.8 L965,587.2 L964,584.3 L963,581.1 L962,577.7 L961,574 L960,570.2 L959,566.2 L958,562.3 L957,558.4 L956,554.5 L955,550.8 L954,547.3 L953,544 L952,540.9 L951,538.1 L950,535.6 L949,533.5 L948,531.7 L947,530.3 L946,529.1 L945,528.2 L944,527.6 L943,527.1 L942,526.9 L941,526.9 L940,527.1 L939,527.5 L938,528.1 L937,528.9 L936,529.9 L935,531.2 L934,532.7 L933,534.4 L932,536.3 L931,538.3 L930,540.4 L929,542.6 L928,544.8 L927,546.9 L926,548.9 L925,550.8 L924,552.5 L923,554 L922,555.3 L921,556.5 L920,557.5 L919,558.4 L918,559.1 L917,559.8 L916,560.3 L915,560.8 L914,561.1 L913,561.4 L912,561.7 L911,561.9 L910,562.1 L909,562.2 L908,562.3 L907,562.4 L906,562.5 L905,562.6 L904,562.7 L903,562.8 L902,563 L901,563.2 L900,563.4 L899,563.7 L898,564 L897,564.4 L896,564.8 L895,565.3 L894,565.8 L893,566.4 L892,567.1 L891,567.8 L890,568.6 L889,569.5 L888,570.4 L887,571.4 L886,572.5 L885,573.6 L884,574.7 L883,575.9 L882,577.1 L881,578.4 L880,579.6 L879,580.9 L878,582.1 L877,583.4 L876,584.6 L875,585.8 L874,586.9 L873,588 L872,588.9 L871,589.7 L870,590.4 L869,590.9 L868,591.2 L867,591.2 L866,591 L865,590.6 L864,589.9 L863,589.1 L862,588.1 L861,586.9 L860,585.5 L859,584.1 L858,582.6 L857,581 L856,579.3 L855,577.6 L854,575.9 L853,574.2 L852,572.6 L851,571 L850,569.5 L849,568 L848,566.6 L847,565.3 L846,564.1 L845,563.1 L844,562.1 L843,561.3 L842,560.6 L841,560.1 L840,559.6 L839,559.3 L838,559 L837,558.8 L836,558.6 L835,558.4 L834,558.2 L833,558 L832,557.8 L831,557.5 L830,557.2 L829,556.8 L828,556.4 L827,556 L826,555.5 L825,554.9 L824,554.3 L823,553.6 L822,552.9 L821,552.1 L820,551.4 L819,550.7 L818,550.1 L817,549.5 L816,549.1 L815,548.7 L814,548.6 L813,548.6 L812,548.7 L811,549 L810,549.4 L809,549.8 L808,550.4 L807,551 L806,551.7 L805,552.4 L804,553.1 L803,553.7 L802,554.2 L801,554.7 L800,554.9 L799,555 L798,554.9 L797,554.6 L796,554 L795,553.3 L794,552.3 L793,551.1 L792,549.7 L791,548 L790,546.1 L789,544 L788,541.8 L787,539.4 L786,536.9 L785,534.4 L784,531.9 L783,529.4 L782,527 L781,524.7 L780,522.6 L779,520.6 L778,518.8 L777,517.2 L776,515.8 L775,514.6 L774,513.7 L773,513 L772,512.7 L771,512.6 L770,512.8 L769,513.2 L768,513.9 L767,514.7 L766,515.8 L765,517.1 L764,518.5 L763,520.1 L762,521.8 L761,523.7 L760,525.7 L759,527.9 L758,530.2 L757,532.6 L756,535.3 L755,538 L754,541 L753,544 L752,547.1 L751,550.3 L750,553.4 L749,556.5 L748,559.6 L747,562.5 L746,565.3 L745,567.8 L744,570.2 L743,572.4 L742,574.4 L741,576.4 L740,578.2 L739,580.1 L738,581.9 L737,583.7 L736,585.7 L735,587.7 L734,589.7 L733,591.9 L732,594.1 L731,596.3 L730,598.6 L729,600.8 L728,603 L727,605.2 L726,607.3 L725,609.3 L724,611.2 L723,612.9 L722,614.4 L721,615.6 L720,616.5 L719,617.1 L718,617.3 L717,617.1 L716,616.4 L715,615.4 L714,613.9 L713,612 L712,609.8 L711,607.2 L710,604.3 L709,601 L708,597.4 L707,593.5 L706,589.4 L705,585 L704,580.4 L703,575.6 L702,570.7 L701,565.6 L700,560.5 L699,555.3 L698,550.1 L697,545 L696,540.1 L695,535.5 L694,531.2 L693,527.4 L692,523.9 L691,520.7 L690,518 L689,515.7 L688,513.7 L687,512.1 L686,510.8 L685,509.8 L684,509.1 L683,508.7 L682,508.5 L681,508.5 L680,508.8 L679,509.2 L678,509.8 L677,510.5 L676,511.2 L675,512.1 L674,512.9 L673,513.8 L672,514.7 L671,515.5 L670,516.3 L669,517 L668,517.7 L667,518.4 L666,519.1 L665,519.8 L664,520.4 L663,521.1 L662,521.7 L661,522.4 L660,523 L659,523.6 L658,524.3 L657,524.9 L656,525.6 L655,526.2 L654,526.9 L653,527.5 L652,528.1 L651,528.7 L650,529.2 L649,529.7 L648,530.3 L647,530.7 L646,531.2 L645,531.6 L644,532 L643,532.3 L642,532.6 L641,532.9 L640,533.1 L639,533.3 L638,533.4 L637,533.5 L636,533.6 L635,533.7 L634,533.7 L633,533.7 L632,533.6 L631,533.6 L630,533.6 L629,533.5 L628,533.5 L627,533.5 L626,533.5 L625,533.5 L624,533.6 L623,533.7 L622,533.8 L621,534 L620,534.2 L619,534.6 L618,534.9 L617,535.4 L616,535.9 L615,536.4 L614,537.1 L613,537.8 L612,538.6 L611,539.5 L610,540.5 L609,541.6 L608,542.7 L607,543.8 L606,544.9 L605,545.9 L604,546.8 L603,547.6 L602,548.1 L601,548.5 L600,548.5 L599,548.3 L598,547.8 L597,547.1 L596,546.1 L595,544.9 L594,543.4 L593,541.7 L592,539.9 L591,537.8 L590,535.5 L589,533.1 L588,530.5 L587,527.8 L586,525 L585,522.2 L584,519.5 L583,516.8 L582,514.2 L581,511.8 L580,509.5 L579,507.5 L578,505.8 L577,504.5 L576,503.5 L575,503 L574,503 L573,503.4 L572,504.1 L571,505.2 L570,506.5 L569,508 L568,509.7 L567,511.3 L566,513 L565,514.8 L564,516.5 L563,518.1 L562,519.8 L561,521.4 L560,523 L559,524.5 L558,525.9 L557,527.2 L556,528.2 L555,529.1 L554,529.7 L553,529.9 L552,529.9 L551,529.6 L550,529 L549,528.2 L548,527.3 L547,526.2 L546,525 L545,523.6 L544,522.1 L543,520.6 L542,519 L541,517.3 L540,515.5 L539,513.7 L538,511.9 L537,510.2 L536,508.6 L535,507.3 L534,506.2 L533,505.4 L532,505 L531,505 L530,505.5 L529,506.3 L528,507.5 L527,509.1 L526,510.9 L525,513 L524,515.4 L523,517.9 L522,520.7 L521,523.7 L520,526.9 L519,530.2 L518,533.7 L517,537.3 L516,541 L515,544.8 L514,548.6 L513,552.4 L512,556 L511,559.6 L510,563 L509,566.2 L508,569.1 L507,571.6 L506,573.7 L505,575.2 L504,576.1 L503,576.4 L502,575.9 L501,574.9 L500,573.4 L499,571.5 L498,569.2 L497,566.7 L496,563.9 L495,560.9 L494,557.7 L493,554.3 L492,550.7 L491,547 L490,543 L489,538.9 L488,534.7 L487,530.4 L486,526.2 L485,522.2 L484,518.3 L483,514.7 L482,511.4 L481,508.5 L480,506 L479,503.9 L478,502.2 L477,500.8 L476,499.8 L475,499.2 L474,499 L473,499.2 L472,499.6 L471,500.3 L470,501.1 L469,502.1 L468,503.3 L467,504.4 L466,505.6 L465,506.8 L464,507.8 L463,508.8 L462,509.7 L461,510.5 L460,511.2 L459,511.8 L458,512.3 L457,512.7 L456,513.1 L455,513.3 L454,513.5 L453,513.6 L452,513.6 L451,513.7 L450,513.8 L449,514 L448,514.2 L447,514.5 L446,514.9 L445,515.5 L444,516.2 L443,517.1 L442,518.1 L441,519.3 L440,520.5 L439,521.9 L438,523.4 L437,525 L436,526.6 L435,528.4 L434,530.2 L433,532.1 L432,534 L431,535.9 L430,537.8 L429,539.8 L428,541.7 L427,543.5 L426,545.3 L425,546.9 L424,548.5 L423,549.9 L422,551.1 L421,552.2 L420,553.1 L419,554 L418,554.9 L417,555.7 L416,556.6 L415,557.5 L414,558.6 L413,559.8 L412,561.2 L411,562.8 L410,564.6 L409,566.6 L408,568.7 L407,570.9 L406,573.1 L405,575.5 L404,577.9 L403,580.4 L402,582.9 L401,585.4 L400,587.9 L399,590.4 L398,593 L397,595.5 L396,598 L395,600.5 L394,602.9 L393,605.3 L392,607.4 L391,609.4 L390,611 L389,612.2 L388,613 L387,613.2 L386,612.9 L385,611.9 L384,610.4 L383,608.4 L382,606 L381,603.4 L380,600.5 L379,597.5 L378,594.5 L377,591.5 L376,588.6 L375,585.8 L374,583 L373,580.4 L372,577.8 L371,575.3 L370,573 L369,570.8 L368,568.7 L367,566.8 L366,565.1 L365,563.6 L364,562.5 L363,561.6 L362,561.1 L361,561 L360,561.3 L359,561.9 L358,562.8 L357,563.9 L356,565.3 L355,566.7 L354,568.2 L353,569.7 L352,571.2 L351,572.6 L350,574 L349,575.1 L348,576.1 L347,577 L346,577.6 L345,577.9 L344,578 L343,577.8 L342,577.3 L341,576.6 L340,575.6 L339,574.4 L338,573.1 L337,571.5 L336,569.9 L335,568.1 L334,566.2 L333,564.2 L332,562.2 L331,560.1 L330,558 L329,555.9 L328,553.9 L327,551.8 L326,549.7 L325,547.7 L324,545.7 L323,543.7 L322,541.7 L321,539.7 L320,537.7 L319,535.7 L318,533.8 L317,531.8 L316,529.9 L315,528 L314,526.1 L313,524.3 L312,522.5 L311,520.7 L310,519.1 L309,517.7 L308,516.4 L307,515.2 L306,514.3 L305,513.6 L304,513.2 L303,513 L302,513.1 L301,513.5 L300,514.2 L299,515.1 L298,516.2 L297,517.5 L296,518.9 L295,520.5 L294,522.1 L293,523.8 L292,525.6 L291,527.3 L290,529 L289,530.7 L288,532.3 L287,533.7 L286,535.1 L285,536.3 L284,537.3 L283,538.2 L282,538.9 L281,539.4 L280,539.7 L279,539.8 L278,539.6 L277,539.3 L276,538.8 L275,538.1 L274,537.3 L273,536.3 L272,535.2 L271,533.9 L270,532.6 L269,531.3 L268,529.9 L267,528.7 L266,527.6 L265,526.8 L264,526.2 L263,526 L262,526.1 L261,526.7 L260,527.7 L259,529 L258,530.6 L257,532.6 L256,534.8 L255,537.2 L254,539.8 L253,542.6 L252,545.5 L251,548.6 L250,551.7 L249,554.9 L248,558.2 L247,561.5 L246,564.8 L245,568 L244,571.2 L243,574.3 L242,577.4 L241,580.4 L240,583.3 L239,586 L238,588.7 L237,591.2 L236,593.6 L235,595.8 L234,597.8 L233,599.6 L232,601.2 L231,602.5 L230,603.5 L229,604.1 L228,604.5 L227,604.5 L226,604.2 L225,603.7 L224,603 L223,602.2 L222,601.3 L221,600.3 L220,599.4 L219,598.6 L218,597.9 L217,597.5 L216,597.3 L215,597.5 L214,598.1 L213,599.1 L212,600.4 L211,602.1 L210,604.1 L209,606.5 L208,609.1 L207,612 L206,615.1 L205,618.4 L204,622 L203,625.7 L202,629.7 L201,633.8 L200,638 L199,642.4 L198,646.9 L197,651.5 L196,656.2 L195,661 L194,665.8 L193,670.7 L192,675.6 L191,680.5 Z" fill="url(#gP)"/>
<path d="M191,456.5 L192,456.4 L193,456.3 L194,456.2 L195,456.1 L196,456 L197,455.9 L198,455.8 L199,455.6 L200,455.5 L201,455.3 L202,455.1 L203,454.9 L204,454.7 L205,454.5 L206,454.2 L207,453.9 L208,453.5 L209,453.1 L210,452.7 L211,452.2 L212,451.7 L213,451.1 L214,450.4 L215,449.7 L216,449 L217,448.3 L218,447.6 L219,447 L220,446.4 L221,445.8 L222,445.3 L223,444.9 L224,444.4 L225,444 L226,443.7 L227,443.3 L228,443 L229,442.7 L230,442.5 L231,442.2 L232,442.1 L233,442 L234,442 L235,442 L236,442.1 L237,442.3 L238,442.5 L239,442.7 L240,443.1 L241,443.4 L242,443.8 L243,444.2 L244,444.6 L245,445.1 L246,445.5 L247,446 L248,446.5 L249,446.9 L250,447.4 L251,447.8 L252,448.2 L253,448.6 L254,448.9 L255,449.2 L256,449.4 L257,449.5 L258,449.5 L259,449.5 L260,449.3 L261,449.1 L262,448.8 L263,448.5 L264,448.1 L265,447.6 L266,447.1 L267,446.6 L268,446.1 L269,445.5 L270,445 L271,444.5 L272,444 L273,443.5 L274,443.1 L275,442.7 L276,442.4 L277,442.2 L278,442 L279,442 L280,442.1 L281,442.2 L282,442.5 L283,442.8 L284,443.2 L285,443.7 L286,444.2 L287,444.7 L288,445.2 L289,445.7 L290,446.2 L291,446.8 L292,447.2 L293,447.7 L294,448.1 L295,448.5 L296,448.8 L297,449.1 L298,449.3 L299,449.4 L300,449.5 L301,449.5 L302,449.4 L303,449.2 L304,449 L305,448.6 L306,448.2 L307,447.8 L308,447.3 L309,446.7 L310,446.1 L311,445.5 L312,444.8 L313,444 L314,443.3 L315,442.5 L316,441.7 L317,440.9 L318,440 L319,439.1 L320,438.2 L321,437.3 L322,436.3 L323,435.3 L324,434.3 L325,433.2 L326,432.1 L327,431 L328,429.9 L329,428.7 L330,427.5 L331,426.3 L332,425 L333,423.8 L334,422.5 L335,421.4 L336,420.3 L337,419.3 L338,418.4 L339,417.6 L340,416.9 L341,416.5 L342,416.2 L343,416.1 L344,416.3 L345,416.7 L346,417.3 L347,418.1 L348,419.1 L349,420.1 L350,421.3 L351,422.5 L352,423.8 L353,425 L354,426.3 L355,427.5 L356,428.6 L357,429.7 L358,430.7 L359,431.6 L360,432.4 L361,433.1 L362,433.7 L363,434.3 L364,434.7 L365,435.1 L366,435.3 L367,435.5 L368,435.5 L369,435.5 L370,435.3 L371,435.1 L372,434.9 L373,434.6 L374,434.2 L375,433.9 L376,433.5 L377,433.2 L378,432.8 L379,432.6 L380,432.3 L381,432.1 L382,432 L383,432 L384,432 L385,432.2 L386,432.5 L387,432.8 L388,433.3 L389,433.8 L390,434.4 L391,435 L392,435.7 L393,436.4 L394,437.2 L395,438 L396,438.8 L397,439.6 L398,440.4 L399,441.2 L400,442 L401,442.8 L402,443.6 L403,444.3 L404,445.1 L405,445.8 L406,446.4 L407,447.1 L408,447.7 L409,448.3 L410,448.8 L411,449.3 L412,449.8 L413,450.2 L414,450.6 L415,450.9 L416,451.2 L417,451.4 L418,451.6 L419,451.8 L420,452 L421,452.2 L422,452.4 L423,452.6 L424,452.8 L425,453 L426,453.2 L427,453.5 L428,453.7 L429,454 L430,454.3 L431,454.6 L432,454.8 L433,455.1 L434,455.4 L435,455.7 L436,456 L437,456.2 L438,456.5 L439,456.7 L440,456.9 L441,457.1 L442,457.2 L443,457.3 L444,457.4 L445,457.5 L446,457.5 L447,457.5 L448,457.5 L449,457.5 L450,457.5 L451,457.5 L452,457.5 L453,457.5 L454,457.6 L455,457.8 L456,457.9 L457,458.1 L458,458.3 L459,458.4 L460,458.6 L461,458.8 L462,458.9 L463,459 L464,459.1 L465,459.1 L466,459.1 L467,459 L468,458.9 L469,458.7 L470,458.4 L471,458 L472,457.5 L473,456.9 L474,456.2 L475,455.3 L476,454.3 L477,453.1 L478,451.8 L479,450.3 L480,448.7 L481,446.9 L482,445.1 L483,443.3 L484,441.4 L485,439.5 L486,437.7 L487,435.9 L488,434.2 L489,432.6 L490,431.1 L491,429.6 L492,428.3 L493,427.1 L494,426 L495,425 L496,424.1 L497,423.3 L498,422.6 L499,422 L500,421.6 L501,421.3 L502,421.2 L503,421.2 L504,421.5 L505,421.9 L506,422.5 L507,423.2 L508,424.1 L509,425 L510,426.1 L511,427.2 L512,428.4 L513,429.6 L514,430.9 L515,432.2 L516,433.6 L517,434.9 L518,436.2 L519,437.5 L520,438.8 L521,440 L522,441.1 L523,442.1 L524,443 L525,443.8 L526,444.4 L527,444.8 L528,445 L529,445 L530,444.7 L531,444.3 L532,443.7 L533,443 L534,442.1 L535,441.2 L536,440.2 L537,439.3 L538,438.3 L539,437.3 L540,436.3 L541,435.4 L542,434.6 L543,433.8 L544,433.1 L545,432.5 L546,431.9 L547,431.6 L548,431.3 L549,431.2 L550,431.2 L551,431.5 L552,431.8 L553,432.4 L554,433 L555,433.7 L556,434.6 L557,435.5 L558,436.6 L559,437.6 L560,438.8 L561,439.9 L562,441.1 L563,442.2 L564,443.3 L565,444.4 L566,445.4 L567,446.4 L568,447.2 L569,447.9 L570,448.5 L571,449 L572,449.2 L573,449.3 L574,449.2 L575,448.9 L576,448.3 L577,447.5 L578,446.6 L579,445.4 L580,444.1 L581,442.6 L582,440.9 L583,439.1 L584,437.1 L585,435 L586,432.9 L587,430.8 L588,428.7 L589,426.8 L590,425 L591,423.4 L592,422 L593,420.8 L594,419.7 L595,418.9 L596,418.3 L597,417.8 L598,417.5 L599,417.4 L600,417.5 L601,417.7 L602,418.1 L603,418.7 L604,419.3 L605,420 L606,420.7 L607,421.5 L608,422.3 L609,423 L610,423.8 L611,424.4 L612,425 L613,425.5 L614,425.9 L615,426.2 L616,426.5 L617,426.7 L618,426.9 L619,427 L620,427 L621,427 L622,426.9 L623,426.7 L624,426.5 L625,426.2 L626,426 L627,425.6 L628,425.3 L629,424.9 L630,424.5 L631,424.1 L632,423.7 L633,423.3 L634,422.9 L635,422.6 L636,422.3 L637,422.1 L638,422 L639,422 L640,422.1 L641,422.3 L642,422.7 L643,423.1 L644,423.6 L645,424.1 L646,424.7 L647,425.4 L648,426 L649,426.8 L650,427.5 L651,428.2 L652,429 L653,429.8 L654,430.5 L655,431.3 L656,432 L657,432.7 L658,433.4 L659,434.1 L660,434.8 L661,435.4 L662,436 L663,436.5 L664,437 L665,437.5 L666,438 L667,438.4 L668,438.9 L669,439.4 L670,439.9 L671,440.4 L672,441 L673,441.6 L674,442.2 L675,442.9 L676,443.5 L677,444.1 L678,444.6 L679,445 L680,445.3 L681,445.5 L682,445.5 L683,445.2 L684,444.8 L685,444.2 L686,443.3 L687,442.2 L688,440.9 L689,439.3 L690,437.5 L691,435.4 L692,433.1 L693,430.7 L694,428.2 L695,425.6 L696,423.1 L697,420.7 L698,418.3 L699,415.9 L700,413.4 L701,410.8 L702,407.9 L703,405 L704,402 L705,398.9 L706,395.9 L707,393 L708,390.2 L709,387.6 L710,385.2 L711,383.1 L712,381.3 L713,379.8 L714,378.5 L715,377.4 L716,376.6 L717,376 L718,375.5 L719,375.3 L720,375.3 L721,375.4 L722,375.7 L723,376 L724,376.6 L725,377.2 L726,377.9 L727,378.7 L728,379.5 L729,380.5 L730,381.4 L731,382.4 L732,383.3 L733,384.3 L734,385.3 L735,386.2 L736,387.1 L737,387.9 L738,388.6 L739,389.3 L740,389.9 L741,390.5 L742,391 L743,391.6 L744,392.3 L745,393 L746,393.8 L747,394.8 L748,395.9 L749,397.2 L750,398.8 L751,400.5 L752,402.6 L753,404.8 L754,407.3 L755,409.8 L756,412.5 L757,415.2 L758,417.9 L759,420.6 L760,423.1 L761,425.5 L762,427.8 L763,429.8 L764,431.6 L765,433.3 L766,434.7 L767,435.9 L768,436.9 L769,437.6 L770,438.2 L771,438.5 L772,438.6 L773,438.4 L774,438 L775,437.4 L776,436.7 L777,435.7 L778,434.6 L779,433.4 L780,432.1 L781,430.7 L782,429.2 L783,427.7 L784,426.1 L785,424.6 L786,423.1 L787,421.6 L788,420.2 L789,418.8 L790,417.6 L791,416.4 L792,415.4 L793,414.6 L794,413.9 L795,413.3 L796,412.8 L797,412.5 L798,412.4 L799,412.4 L800,412.5 L801,412.8 L802,413.1 L803,413.6 L804,414.1 L805,414.6 L806,415.2 L807,415.7 L808,416.3 L809,416.8 L810,417.2 L811,417.6 L812,417.9 L813,418.2 L814,418.4 L815,418.6 L816,418.6 L817,418.7 L818,418.6 L819,418.5 L820,418.4 L821,418.2 L822,418 L823,417.8 L824,417.6 L825,417.4 L826,417.3 L827,417.1 L828,417 L829,416.9 L830,416.8 L831,416.7 L832,416.7 L833,416.6 L834,416.5 L835,416.4 L836,416.3 L837,416.2 L838,416 L839,415.7 L840,415.4 L841,415 L842,414.6 L843,414 L844,413.4 L845,412.8 L846,412.1 L847,411.4 L848,410.6 L849,409.8 L850,409 L851,408.1 L852,407.3 L853,406.5 L854,405.7 L855,404.9 L856,404.2 L857,403.5 L858,402.8 L859,402.2 L860,401.6 L861,401.1 L862,400.7 L863,400.3 L864,400 L865,399.8 L866,399.8 L867,399.8 L868,399.9 L869,400.1 L870,400.4 L871,400.8 L872,401.3 L873,401.8 L874,402.3 L875,403 L876,403.6 L877,404.3 L878,405 L879,405.7 L880,406.5 L881,407.2 L882,407.9 L883,408.6 L884,409.3 L885,410 L886,410.6 L887,411.2 L888,411.8 L889,412.4 L890,412.9 L891,413.3 L892,413.7 L893,414.1 L894,414.4 L895,414.6 L896,414.8 L897,414.9 L898,415 L899,414.9 L900,414.9 L901,414.8 L902,414.6 L903,414.5 L904,414.3 L905,414.1 L906,413.9 L907,413.7 L908,413.5 L909,413.4 L910,413.2 L911,413.1 L912,413.1 L913,413.1 L914,413.1 L915,413.2 L916,413.4 L917,413.7 L918,414 L919,414.5 L920,414.9 L921,415.5 L922,416.1 L923,416.7 L924,417.4 L925,418.2 L926,419 L927,419.8 L928,420.7 L929,421.5 L930,422.4 L931,423.3 L932,424.1 L933,424.9 L934,425.7 L935,426.4 L936,427.1 L937,427.7 L938,428.3 L939,428.7 L940,429.1 L941,429.4 L942,429.6 L943,429.7 L944,429.6 L945,429.5 L946,429.2 L947,428.7 L948,428 L949,427.1 L950,425.9 L951,424.4 L952,422.6 L953,420.7 L954,418.6 L955,416.4 L956,414.2 L957,412 L958,409.9 L959,407.9 L960,406 L961,404.2 L962,402.5 L963,400.9 L964,399.5 L965,398.1 L966,396.8 L967,395.6 L968,394.6 L969,393.7 L970,393 L971,392.5 L972,392.2 L973,392.1 L974,392.4 L975,392.9 L976,393.6 L977,394.5 L978,395.6 L979,396.9 L980,398.3 L981,399.8 L982,401.4 L983,403 L984,404.7 L985,406.4 L986,408.1 L987,409.8 L988,411.5 L989,413.1 L990,414.7 L991,416.3 L992,417.8 L993,419.2 L994,420.5 L995,421.6 L996,422.7 L997,423.6 L998,424.4 L999,425 L1000,425.5 L1001,425.9 L1002,426.2 L1003,426.4 L1004,426.5 L1005,426.5 L1006,426.5 L1007,426.4 L1008,426.3 L1009,426.1 L1010,425.9 L1011,425.7 L1012,425.4 L1013,425.1 L1014,424.8 L1015,424.4 L1016,424 L1017,423.5 L1018,423 L1019,422.5 L1020,421.9 L1021,421.3 L1022,420.6 L1023,419.9 L1024,419.1 L1025,418.2 L1026,417.3 L1027,416.3 L1028,415.3 L1029,414.1 L1030,412.9 L1031,411.7 L1032,410.5 L1033,409.3 L1034,408.1 L1035,407 L1036,406 L1037,405.1 L1038,404.3 L1039,403.6 L1040,403 L1041,402.6 L1042,402.2 L1043,402 L1044,401.9 L1045,402 L1046,402.2 L1047,402.5 L1048,402.9 L1049,403.4 L1050,404 L1051,404.7 L1052,405.3 L1053,406 L1054,406.7 L1055,407.3 L1056,407.9 L1057,408.5 L1058,409.1 L1059,409.7 L1060,410.2 L1061,410.7 L1062,411.3 L1063,411.8 L1064,412.2 L1065,412.7 L1066,413.1 L1067,413.5 L1068,413.8 L1069,414 L1070,414.2 L1071,414.2 L1072,414.2 L1073,414.1 L1074,414 L1075,413.8 L1076,413.7 L1077,413.6 L1078,413.6 L1079,413.6 L1080,413.8 L1081,414.1 L1082,414.5 L1083,415 L1084,415.5 L1085,416.2 L1086,417 L1087,417.8 L1088,418.7 L1089,419.6 L1090,420.5 L1091,421.5 L1092,422.5 L1093,423.6 L1094,424.6 L1095,425.7 L1096,426.7 L1097,427.7 L1098,428.8 L1099,429.7 L1100,430.6 L1101,431.4 L1102,432.1 L1103,432.6 L1104,433 L1105,433.3 L1106,433.3 L1107,433.1 L1108,432.7 L1109,432 L1110,431.2 L1111,430.2 L1112,429 L1113,427.7 L1114,426.3 L1115,424.8 L1116,423.1 L1117,421.5 L1118,419.7 L1119,418 L1120,416.3 L1121,414.5 L1122,412.8 L1123,411.2 L1124,409.6 L1125,408.2 L1126,406.8 L1127,405.6 L1128,404.5 L1129,403.5 L1130,402.7 L1131,402.1 L1132,401.6 L1133,401.4 L1134,401.2 L1135,401.3 L1136,401.5 L1137,401.9 L1138,402.5 L1139,403.3 L1140,404.2 L1141,405.2 L1142,406.3 L1143,407.6 L1144,409 L1145,410.4 L1146,412 L1147,413.6 L1148,415.4 L1149,417.2 L1150,419 L1151,421 L1152,422.9 L1153,424.9 L1154,427 L1155,429 L1156,431.1 L1157,433.1 L1158,435.1 L1159,437.1 L1160,439.1 L1161,441 L1162,442.8 L1163,444.5 L1164,446.2 L1165,447.8 L1166,449.3 L1167,450.8 L1168,452.2 L1169,453.5 L1170,454.6 L1171,455.6 L1172,456.4 L1173,456.9 L1174,457.1 L1175,456.9 L1176,456.5 L1177,455.7 L1178,454.7 L1179,453.3 L1180,451.8 L1181,450 L1182,447.9 L1183,445.7 L1184,443.3 L1185,440.7 L1186,438.1 L1187,435.3 L1188,432.5 L1189,429.6 L1190,426.7 L1191,423.8 L1192,421 L1193,418.2 L1194,415.6 L1195,413.2 L1196,410.9 L1197,408.8 L1198,407 L1199,405.3 L1200,403.8 L1201,402.3 L1202,401 L1203,399.6 L1204,398.4 L1205,397.4 L1206,396.8 L1207,396.6 L1208,396.9 L1209,397.4 L1210,398.1 L1211,399.2 L1212,400.6 L1213,402.3 L1214,404.3 L1215,406.7 L1216,409.2 L1217,412 L1218,414.8 L1219,417.7 L1220,420.6 L1221,423.5 L1222,426.3 L1223,429 L1224,431.6 L1225,434.2 L1226,436.7 L1227,439.1 L1228,441.4 L1229,443.5 L1230,445.5 L1231,447.4 L1232,449.1 L1233,450.6 L1234,451.9 L1235,453 L1236,453.9 L1237,454.6 L1238,455.1 L1239,455.5 L1240,455.6 L1241,455.5 L1242,455.3 L1243,454.9 L1244,454.3 L1245,453.5 L1246,452.6 L1247,451.6 L1248,450.4 L1249,449.1 L1250,447.6 L1251,446.1 L1252,444.4 L1253,442.7 L1254,441 L1255,439.1 L1256,437.3 L1257,435.4 L1258,433.6 L1259,431.7 L1260,429.9 L1261,428.1 L1262,426.4 L1263,424.7 L1264,423.2 L1265,421.7 L1266,420.3 L1267,419 L1268,417.8 L1269,416.8 L1270,415.9 L1271,415.1 L1272,414.5 L1273,414 L1274,413.7 L1275,413.5 L1276,413.5 L1277,413.8 L1278,414.1 L1279,414.7 L1280,415.5 L1281,416.5 L1282,417.7 L1283,419.1 L1284,420.7 L1285,422.5 L1286,424.5 L1287,426.6 L1288,428.7 L1289,430.8 L1290,432.8 L1291,434.6 L1292,436.4 L1293,437.9 L1294,439.4 L1295,440.7 L1296,442 L1297,443.1 L1298,444.2 L1299,445.1 L1300,446 L1301,446.8 L1302,447.4 L1303,447.9 L1304,448.1 L1305,448.1 L1306,447.7 L1307,447.1 L1308,446.3 L1309,445.3 L1310,444.1 L1311,442.9 L1312,441.6 L1313,440.3 L1314,439 L1315,437.8 L1316,436.6 L1317,435.5 L1318,434.3 L1319,433.3 L1320,432.2 L1321,431.1 L1322,430.1 L1323,429 L1324,428 L1325,427 L1326,426 L1327,425.2 L1328,424.5 L1329,424 L1330,423.6 L1331,423.4 L1332,423.5 L1333,423.9 L1334,424.4 L1335,425.2 L1336,426.1 L1337,427.1 L1338,428.3 L1339,429.4 L1340,430.6 L1341,431.8 L1342,432.8 L1343,433.8 L1344,434.8 L1345,435.7 L1346,436.6 L1347,437.4 L1348,438.3 L1349,439.1 L1350,440 L1351,440.9 L1352,441.8 L1353,442.6 L1354,443.3 L1355,444 L1356,444.5 L1357,444.8 L1358,444.8 L1359,444.7 L1360,444.4 L1361,443.9 L1362,443.3 L1363,442.7 L1364,442 L1365,441.4 L1366,440.7 L1367,440.1 L1368,439.6 L1369,439.1 L1370,438.6 L1371,438.2 L1372,437.9 L1373,437.7 L1374,437.5 L1375,437.4 L1376,437.4 L1377,437.4 L1378,437.6 L1379,437.9 L1380,438.2 L1381,438.6 L1382,439.1 L1383,439.6 L1384,440.2 L1385,440.8 L1386,441.5 L1387,442.2 L1388,443 L1389,443.8 L1390,444.6 L1391,445.4 L1392,446.2 L1393,447.1 L1394,447.9 L1395,448.7 L1396,449.5 L1397,450.3 L1398,451 L1399,451.6 L1400,452.2 L1401,452.7 L1402,453.1 L1403,453.4 L1404,453.7 L1405,454 L1406,454.2 L1407,454.4 L1408,454.6 L1409,454.8 L1410,455 L1411,455.2 L1412,455.4 L1413,455.7 L1414,455.9 L1415,456.2 L1416,456.5 L1417,456.8 L1418,457.1 L1419,457.4 L1420,457.8 L1421,458.2 L1422,458.6 L1423,459.1 L1424,459.6 L1425,460.2 L1426,460.8 L1427,461.5 L1428,462.1 L1429,462.7 L1430,463.2 L1431,463.6 L1432,464 L1433,464.4 L1434,464.7 L1435,464.9 L1436,465.1 L1437,465.3 L1438,465.5 L1439,465.6 L1440,465.7 L1441,465.8 L1442,465.9 L1443,466 L1444,466.1 L1445,466.2 L1446,466.2 L1447,466.3 L1448,466.4 L1449,466.4 L1450,466.5 L1451,466.5 L1452,466.5 L1453,466.5 L1454,466.5 L1455,466.5 L1456,466.5 L1457,466.5 L1458,466.4 L1459,466.3 L1460,466.2 L1461,466.1 L1462,466 L1463,465.9 L1464,465.7 L1465,465.5 L1466,465.3 L1467,465.1 L1468,464.9 L1469,464.7 L1470,464.5 L1471,464.2 L1472,464 L1473,463.7 L1474,463.5 L1475,463.2 L1476,463 L1477,462.7 L1478,462.5 L1479,462.2 L1480,462 L1481,461.8 L1482,461.6 L1483,461.4 L1484,461.2 L1485,461 L1486,460.8 L1487,460.7 L1488,460.6 L1489,460.4 L1490,460.3 L1491,460.2 L1492,460.1 L1493,459.9 L1494,459.8 L1495,459.7 L1496,459.6 L1497,459.5 L1498,459.4 L1499,459.2 L1500,459.1 L1501,458.9 L1502,458.8 L1503,458.6 L1504,458.5 L1505,458.3 L1506,458.1 L1507,458 L1508,457.8 L1509,457.7 L1510,457.5 L1511,457.4 L1512,457.3 L1513,457.2 L1514,457.1 L1515,457 L1516,457 L1517,457 L1518,457 L1519,457 L1520,457 L1521,457.1 L1522,457.3 L1523,457.4 L1524,457.6 L1525,457.7 L1526,457.9 L1527,458.1 L1528,458.3 L1529,458.5 L1530,458.7 L1531,458.9 L1532,459.1 L1533,459.3 L1534,459.4 L1535,459.5 L1536,459.6 L1537,459.7 L1538,459.7 L1539,459.7 L1540,459.6 L1541,459.5 L1542,459.3 L1543,459.1 L1544,458.9 L1545,458.6 L1546,458.3 L1547,458 L1548,457.7 L1549,457.4 L1550,457 L1551,456.7 L1552,456.3 L1553,456 L1554,455.7 L1555,455.4 L1556,455.1 L1557,454.8 L1558,454.6 L1559,454.4 L1560,454.2 L1561,454.1 L1562,454 L1563,454 L1564,454.1 L1565,454.2 L1566,454.3 L1567,454.5 L1568,454.7 L1569,455 L1570,455.3 L1571,455.6 L1572,455.9 L1573,456.3 L1574,456.6 L1575,457 L1576,457.3 L1577,457.6 L1578,458 L1579,458.2 L1580,458.5 L1581,458.8 L1582,459 L1583,459.1 L1584,459.2 L1585,459.3 L1586,459.3 L1587,459.2 L1588,459.1 L1589,458.9 L1590,458.7 L1591,458.4 L1592,458 L1593,457.7 L1594,457.2 L1595,456.8 L1596,456.3 L1597,455.9 L1598,455.4 L1599,454.9 L1600,454.4 L1601,454 L1602,453.5 L1603,453.1 L1604,452.7 L1605,452.3 L1606,452 L1607,451.7 L1608,451.4 L1609,451.2 L1610,451 L1611,450.9 L1612,450.9 L1613,450.9 L1614,451 L1615,451.1 L1616,451.2 L1617,451.4 L1618,451.6 L1619,451.9 L1620,452.1 L1621,452.3 L1622,452.6 L1623,452.8 L1624,453 L1625,453.2 L1626,453.4 L1627,453.5 L1628,453.6 L1629,453.7 L1630,453.7 L1631,453.6 L1632,453.5 L1633,453.3 L1634,453 L1635,452.7 L1636,452.3 L1637,451.9 L1638,451.4 L1639,450.8 L1640,450.3 L1641,449.6 L1642,449 L1643,448.3 L1644,447.6 L1645,446.8 L1646,446 L1647,445.3 L1648,444.5 L1649,443.7 L1650,442.9 L1651,442.1 L1652,441.3 L1653,440.5 L1654,439.8 L1655,439 L1656,438.3 L1657,437.7 L1658,437.1 L1659,436.5 L1660,436 L1661,435.6 L1662,435.2 L1663,434.9 L1664,434.7 L1665,434.4 L1666,434.2 L1667,434 L1668,433.8 L1669,433.7 L1670,433.5 L1671,433.3 L1672,433.1 L1673,432.9 L1674,432.6 L1675,432.3 L1676,432 L1677,431.6 L1678,431.3 L1679,431 L1680,430.7 L1681,430.5 L1682,430.3 L1683,430.2 L1684,430.2 L1685,430.2 L1686,430.3 L1687,430.4 L1688,430.6 L1689,430.7 L1690,430.7 L1691,430.7 L1692,430.6 L1693,430.5 L1693,502.5 L1692,502.4 L1691,502.3 L1690,502.3 L1689,502.3 L1688,502.4 L1687,502.6 L1686,502.7 L1685,502.8 L1684,502.8 L1683,502.8 L1682,502.7 L1681,502.5 L1680,502.3 L1679,502 L1678,501.7 L1677,501.4 L1676,501 L1675,500.7 L1674,500.4 L1673,500.1 L1672,499.9 L1671,499.7 L1670,499.5 L1669,499.3 L1668,499.2 L1667,499 L1666,498.8 L1665,498.6 L1664,498.3 L1663,498.1 L1662,497.8 L1661,497.4 L1660,497 L1659,496.5 L1658,495.9 L1657,495.3 L1656,494.7 L1655,494 L1654,493.2 L1653,492.5 L1652,491.7 L1651,490.9 L1650,490.1 L1649,489.3 L1648,488.5 L1647,487.7 L1646,487 L1645,486.2 L1644,485.4 L1643,484.7 L1642,484 L1641,483.4 L1640,482.7 L1639,482.2 L1638,481.6 L1637,481.1 L1636,480.7 L1635,480.3 L1634,480 L1633,479.7 L1632,479.5 L1631,479.4 L1630,479.3 L1629,479.3 L1628,479.4 L1627,479.5 L1626,479.6 L1625,479.8 L1624,480 L1623,480.2 L1622,480.4 L1621,480.7 L1620,480.9 L1619,481.1 L1618,481.4 L1617,481.6 L1616,481.8 L1615,481.9 L1614,482 L1613,482.1 L1612,482.1 L1611,482.1 L1610,482 L1609,481.8 L1608,481.6 L1607,481.3 L1606,481 L1605,480.7 L1604,480.3 L1603,479.9 L1602,479.5 L1601,479 L1600,478.6 L1599,478.1 L1598,477.6 L1597,477.1 L1596,476.7 L1595,476.2 L1594,475.8 L1593,475.3 L1592,475 L1591,474.6 L1590,474.3 L1589,474.1 L1588,473.9 L1587,473.8 L1586,473.7 L1585,473.7 L1584,473.8 L1583,473.9 L1582,474 L1581,474.2 L1580,474.5 L1579,474.8 L1578,475 L1577,475.4 L1576,475.7 L1575,476 L1574,476.4 L1573,476.7 L1572,477.1 L1571,477.4 L1570,477.7 L1569,478 L1568,478.3 L1567,478.5 L1566,478.7 L1565,478.8 L1564,478.9 L1563,479 L1562,479 L1561,478.9 L1560,478.8 L1559,478.6 L1558,478.4 L1557,478.2 L1556,477.9 L1555,477.6 L1554,477.3 L1553,477 L1552,476.7 L1551,476.3 L1550,476 L1549,475.6 L1548,475.3 L1547,475 L1546,474.7 L1545,474.4 L1544,474.1 L1543,473.9 L1542,473.7 L1541,473.5 L1540,473.4 L1539,473.3 L1538,473.3 L1537,473.3 L1536,473.4 L1535,473.5 L1534,473.6 L1533,473.7 L1532,473.9 L1531,474.1 L1530,474.3 L1529,474.5 L1528,474.7 L1527,474.9 L1526,475.1 L1525,475.3 L1524,475.4 L1523,475.6 L1522,475.7 L1521,475.9 L1520,476 L1519,476 L1518,476 L1517,476 L1516,476 L1515,476 L1514,475.9 L1513,475.8 L1512,475.7 L1511,475.6 L1510,475.5 L1509,475.3 L1508,475.2 L1507,475 L1506,474.9 L1505,474.7 L1504,474.5 L1503,474.4 L1502,474.2 L1501,474.1 L1500,473.9 L1499,473.8 L1498,473.6 L1497,473.5 L1496,473.4 L1495,473.3 L1494,473.2 L1493,473.1 L1492,472.9 L1491,472.8 L1490,472.7 L1489,472.6 L1488,472.4 L1487,472.3 L1486,472.2 L1485,472 L1484,471.8 L1483,471.6 L1482,471.4 L1481,471.2 L1480,471 L1479,470.8 L1478,470.5 L1477,470.3 L1476,470 L1475,469.8 L1474,469.5 L1473,469.3 L1472,469 L1471,468.8 L1470,468.5 L1469,468.3 L1468,468.1 L1467,467.9 L1466,467.7 L1465,467.5 L1464,467.3 L1463,467.1 L1462,467 L1461,466.9 L1460,466.8 L1459,466.7 L1458,466.6 L1457,466.5 L1456,466.5 L1455,466.5 L1454,466.5 L1453,466.5 L1452,466.5 L1451,466.5 L1450,466.5 L1449,466.6 L1448,466.6 L1447,466.7 L1446,466.8 L1445,466.8 L1444,466.9 L1443,467 L1442,467.1 L1441,467.2 L1440,467.3 L1439,467.4 L1438,467.5 L1437,467.7 L1436,467.9 L1435,468.1 L1434,468.3 L1433,468.6 L1432,469 L1431,469.4 L1430,469.8 L1429,470.3 L1428,470.9 L1427,471.5 L1426,472.2 L1425,472.8 L1424,473.4 L1423,473.9 L1422,474.4 L1421,474.8 L1420,475.2 L1419,475.6 L1418,475.9 L1417,476.2 L1416,476.5 L1415,476.8 L1414,477.1 L1413,477.3 L1412,477.6 L1411,477.8 L1410,478 L1409,478.2 L1408,478.4 L1407,478.6 L1406,478.8 L1405,479 L1404,479.3 L1403,479.6 L1402,479.9 L1401,480.3 L1400,480.8 L1399,481.4 L1398,482 L1397,482.7 L1396,483.5 L1395,484.3 L1394,485.1 L1393,485.9 L1392,486.8 L1391,487.6 L1390,488.4 L1389,489.2 L1388,490 L1387,490.8 L1386,491.5 L1385,492.2 L1384,492.8 L1383,493.4 L1382,493.9 L1381,494.4 L1380,494.8 L1379,495.1 L1378,495.4 L1377,495.6 L1376,495.6 L1375,495.6 L1374,495.5 L1373,495.3 L1372,495.1 L1371,494.8 L1370,494.4 L1369,493.9 L1368,493.4 L1367,492.9 L1366,492.3 L1365,491.6 L1364,491 L1363,490.3 L1362,489.7 L1361,489.1 L1360,488.6 L1359,488.3 L1358,488.2 L1357,488.2 L1356,488.5 L1355,489 L1354,489.7 L1353,490.4 L1352,491.2 L1351,492.1 L1350,493 L1349,493.9 L1348,494.7 L1347,495.6 L1346,496.4 L1345,497.3 L1344,498.2 L1343,499.2 L1342,500.2 L1341,501.2 L1340,502.4 L1339,503.6 L1338,504.7 L1337,505.9 L1336,506.9 L1335,507.8 L1334,508.6 L1333,509.1 L1332,509.5 L1331,509.6 L1330,509.4 L1329,509 L1328,508.5 L1327,507.8 L1326,507 L1325,506 L1324,505 L1323,504 L1322,502.9 L1321,501.9 L1320,500.8 L1319,499.7 L1318,498.7 L1317,497.5 L1316,496.4 L1315,495.2 L1314,494 L1313,492.7 L1312,491.4 L1311,490.1 L1310,488.9 L1309,487.7 L1308,486.7 L1307,485.9 L1306,485.3 L1305,484.9 L1304,484.9 L1303,485.1 L1302,485.6 L1301,486.2 L1300,487 L1299,487.9 L1298,488.8 L1297,489.9 L1296,491 L1295,492.3 L1294,493.6 L1293,495.1 L1292,496.6 L1291,498.4 L1290,500.2 L1289,502.2 L1288,504.3 L1287,506.4 L1286,508.5 L1285,510.5 L1284,512.3 L1283,513.9 L1282,515.3 L1281,516.5 L1280,517.5 L1279,518.3 L1278,518.9 L1277,519.2 L1276,519.5 L1275,519.5 L1274,519.3 L1273,519 L1272,518.5 L1271,517.9 L1270,517.1 L1269,516.2 L1268,515.2 L1267,514 L1266,512.7 L1265,511.3 L1264,509.8 L1263,508.3 L1262,506.6 L1261,504.9 L1260,503.1 L1259,501.3 L1258,499.4 L1257,497.6 L1256,495.7 L1255,493.9 L1254,492 L1253,490.3 L1252,488.6 L1251,486.9 L1250,485.4 L1249,483.9 L1248,482.6 L1247,481.4 L1246,480.4 L1245,479.5 L1244,478.7 L1243,478.1 L1242,477.7 L1241,477.5 L1240,477.4 L1239,477.5 L1238,477.9 L1237,478.4 L1236,479.1 L1235,480 L1234,481.1 L1233,482.4 L1232,483.9 L1231,485.6 L1230,487.5 L1229,489.5 L1228,491.6 L1227,493.9 L1226,496.3 L1225,498.8 L1224,501.4 L1223,504 L1222,506.7 L1221,509.5 L1220,512.4 L1219,515.3 L1218,518.2 L1217,521 L1216,523.8 L1215,526.3 L1214,528.7 L1213,530.7 L1212,532.4 L1211,533.8 L1210,534.9 L1209,535.6 L1208,536.1 L1207,536.4 L1206,536.2 L1205,535.6 L1204,534.6 L1203,533.4 L1202,532 L1201,530.7 L1200,529.2 L1199,527.7 L1198,526 L1197,524.2 L1196,522.1 L1195,519.8 L1194,517.4 L1193,514.8 L1192,512 L1191,509.2 L1190,506.3 L1189,503.4 L1188,500.5 L1187,497.7 L1186,494.9 L1185,492.3 L1184,489.7 L1183,487.3 L1182,485.1 L1181,483 L1180,481.2 L1179,479.7 L1178,478.3 L1177,477.3 L1176,476.5 L1175,476.1 L1174,475.9 L1173,476.1 L1172,476.6 L1171,477.4 L1170,478.4 L1169,479.5 L1168,480.8 L1167,482.2 L1166,483.7 L1165,485.2 L1164,486.8 L1163,488.5 L1162,490.2 L1161,492 L1160,493.9 L1159,495.9 L1158,497.9 L1157,499.9 L1156,501.9 L1155,504 L1154,506 L1153,508.1 L1152,510.1 L1151,512 L1150,514 L1149,515.8 L1148,517.6 L1147,519.4 L1146,521 L1145,522.6 L1144,524 L1143,525.4 L1142,526.7 L1141,527.8 L1140,528.8 L1139,529.7 L1138,530.5 L1137,531.1 L1136,531.5 L1135,531.7 L1134,531.8 L1133,531.6 L1132,531.4 L1131,530.9 L1130,530.3 L1129,529.5 L1128,528.5 L1127,527.4 L1126,526.2 L1125,524.8 L1124,523.4 L1123,521.8 L1122,520.2 L1121,518.5 L1120,516.7 L1119,515 L1118,513.3 L1117,511.5 L1116,509.9 L1115,508.2 L1114,506.7 L1113,505.3 L1112,504 L1111,502.8 L1110,501.8 L1109,501 L1108,500.3 L1107,499.9 L1106,499.7 L1105,499.7 L1104,500 L1103,500.4 L1102,500.9 L1101,501.6 L1100,502.4 L1099,503.3 L1098,504.2 L1097,505.3 L1096,506.3 L1095,507.3 L1094,508.4 L1093,509.4 L1092,510.5 L1091,511.5 L1090,512.5 L1089,513.4 L1088,514.3 L1087,515.2 L1086,516 L1085,516.8 L1084,517.5 L1083,518 L1082,518.5 L1081,518.9 L1080,519.2 L1079,519.4 L1078,519.4 L1077,519.4 L1076,519.3 L1075,519.2 L1074,519 L1073,518.9 L1072,518.8 L1071,518.8 L1070,518.8 L1069,519 L1068,519.2 L1067,519.5 L1066,519.9 L1065,520.3 L1064,520.8 L1063,521.2 L1062,521.7 L1061,522.3 L1060,522.8 L1059,523.3 L1058,523.9 L1057,524.5 L1056,525.1 L1055,525.7 L1054,526.3 L1053,527 L1052,527.7 L1051,528.3 L1050,529 L1049,529.6 L1048,530.1 L1047,530.5 L1046,530.8 L1045,531 L1044,531.1 L1043,531 L1042,530.8 L1041,530.4 L1040,530 L1039,529.4 L1038,528.7 L1037,527.9 L1036,527 L1035,526 L1034,524.9 L1033,523.7 L1032,522.5 L1031,521.3 L1030,520.1 L1029,518.9 L1028,517.7 L1027,516.7 L1026,515.7 L1025,514.8 L1024,513.9 L1023,513.1 L1022,512.4 L1021,511.7 L1020,511.1 L1019,510.5 L1018,510 L1017,509.5 L1016,509 L1015,508.6 L1014,508.2 L1013,507.9 L1012,507.6 L1011,507.3 L1010,507.1 L1009,506.9 L1008,506.7 L1007,506.6 L1006,506.5 L1005,506.5 L1004,506.5 L1003,506.6 L1002,506.8 L1001,507.1 L1000,507.5 L999,508 L998,508.6 L997,509.4 L996,510.3 L995,511.4 L994,512.5 L993,513.8 L992,515.2 L991,516.7 L990,518.3 L989,519.9 L988,521.5 L987,523.2 L986,524.9 L985,526.6 L984,528.3 L983,530 L982,531.6 L981,533.2 L980,534.7 L979,536.1 L978,537.4 L977,538.5 L976,539.4 L975,540.1 L974,540.6 L973,540.9 L972,540.8 L971,540.5 L970,540 L969,539.3 L968,538.4 L967,537.4 L966,536.2 L965,534.9 L964,533.5 L963,532.1 L962,530.5 L961,528.8 L960,527 L959,525.1 L958,523.1 L957,521 L956,518.8 L955,516.6 L954,514.4 L953,512.3 L952,510.4 L951,508.6 L950,507.1 L949,505.9 L948,505 L947,504.3 L946,503.8 L945,503.5 L944,503.4 L943,503.3 L942,503.4 L941,503.6 L940,503.9 L939,504.3 L938,504.7 L937,505.3 L936,505.9 L935,506.6 L934,507.3 L933,508.1 L932,508.9 L931,509.7 L930,510.6 L929,511.5 L928,512.3 L927,513.2 L926,514 L925,514.8 L924,515.6 L923,516.3 L922,516.9 L921,517.5 L920,518.1 L919,518.5 L918,519 L917,519.3 L916,519.6 L915,519.8 L914,519.9 L913,519.9 L912,519.9 L911,519.9 L910,519.8 L909,519.6 L908,519.5 L907,519.3 L906,519.1 L905,518.9 L904,518.7 L903,518.5 L902,518.4 L901,518.2 L900,518.1 L899,518.1 L898,518 L897,518.1 L896,518.2 L895,518.4 L894,518.6 L893,518.9 L892,519.3 L891,519.7 L890,520.1 L889,520.6 L888,521.2 L887,521.8 L886,522.4 L885,523 L884,523.7 L883,524.4 L882,525.1 L881,525.8 L880,526.5 L879,527.3 L878,528 L877,528.7 L876,529.4 L875,530 L874,530.7 L873,531.2 L872,531.7 L871,532.2 L870,532.6 L869,532.9 L868,533.1 L867,533.2 L866,533.2 L865,533.2 L864,533 L863,532.7 L862,532.3 L861,531.9 L860,531.4 L859,530.8 L858,530.2 L857,529.5 L856,528.8 L855,528.1 L854,527.3 L853,526.5 L852,525.7 L851,524.9 L850,524 L849,523.2 L848,522.4 L847,521.6 L846,520.9 L845,520.2 L844,519.6 L843,519 L842,518.4 L841,518 L840,517.6 L839,517.3 L838,517 L837,516.8 L836,516.7 L835,516.6 L834,516.5 L833,516.4 L832,516.3 L831,516.3 L830,516.2 L829,516.1 L828,516 L827,515.9 L826,515.7 L825,515.6 L824,515.4 L823,515.2 L822,515 L821,514.8 L820,514.6 L819,514.5 L818,514.4 L817,514.3 L816,514.4 L815,514.4 L814,514.6 L813,514.8 L812,515.1 L811,515.4 L810,515.8 L809,516.2 L808,516.7 L807,517.3 L806,517.8 L805,518.4 L804,518.9 L803,519.4 L802,519.9 L801,520.2 L800,520.5 L799,520.6 L798,520.6 L797,520.5 L796,520.2 L795,519.7 L794,519.1 L793,518.4 L792,517.6 L791,516.6 L790,515.4 L789,514.2 L788,512.8 L787,511.4 L786,509.9 L785,508.4 L784,506.9 L783,505.3 L782,503.8 L781,502.3 L780,500.9 L779,499.6 L778,498.4 L777,497.3 L776,496.3 L775,495.6 L774,495 L773,494.6 L772,494.4 L771,494.5 L770,494.8 L769,495.4 L768,496.1 L767,497.1 L766,498.3 L765,499.7 L764,501.4 L763,503.2 L762,505.2 L761,507.5 L760,509.9 L759,512.4 L758,515.1 L757,517.8 L756,520.5 L755,523.2 L754,525.7 L753,528.2 L752,530.4 L751,532.5 L750,534.2 L749,535.8 L748,537.1 L747,538.2 L746,539.2 L745,540 L744,540.7 L743,541.4 L742,542 L741,542.5 L740,543.1 L739,543.7 L738,544.4 L737,545.1 L736,545.9 L735,546.8 L734,547.7 L733,548.7 L732,549.7 L731,550.6 L730,551.6 L729,552.5 L728,553.5 L727,554.3 L726,555.1 L725,555.8 L724,556.4 L723,557 L722,557.3 L721,557.6 L720,557.7 L719,557.7 L718,557.5 L717,557 L716,556.4 L715,555.6 L714,554.5 L713,553.2 L712,551.7 L711,549.9 L710,547.8 L709,545.4 L708,542.8 L707,540 L706,537.1 L705,534.1 L704,531 L703,528 L702,525.1 L701,522.2 L700,519.6 L699,517.1 L698,514.7 L697,512.3 L696,509.9 L695,507.4 L694,504.8 L693,502.3 L692,499.9 L691,497.6 L690,495.5 L689,493.7 L688,492.1 L687,490.8 L686,489.7 L685,488.8 L684,488.2 L683,487.8 L682,487.5 L681,487.5 L680,487.7 L679,488 L678,488.4 L677,488.9 L676,489.5 L675,490.1 L674,490.8 L673,491.4 L672,492 L671,492.6 L670,493.1 L669,493.6 L668,494.1 L667,494.6 L666,495 L665,495.5 L664,496 L663,496.5 L662,497 L661,497.6 L660,498.2 L659,498.9 L658,499.6 L657,500.3 L656,501 L655,501.7 L654,502.5 L653,503.2 L652,504 L651,504.8 L650,505.5 L649,506.2 L648,507 L647,507.6 L646,508.3 L645,508.9 L644,509.4 L643,509.9 L642,510.3 L641,510.7 L640,510.9 L639,511 L638,511 L637,510.9 L636,510.7 L635,510.4 L634,510.1 L633,509.7 L632,509.3 L631,508.9 L630,508.5 L629,508.1 L628,507.7 L627,507.4 L626,507 L625,506.8 L624,506.5 L623,506.3 L622,506.1 L621,506 L620,506 L619,506 L618,506.1 L617,506.3 L616,506.5 L615,506.8 L614,507.1 L613,507.5 L612,508 L611,508.6 L610,509.2 L609,510 L608,510.7 L607,511.5 L606,512.3 L605,513 L604,513.7 L603,514.3 L602,514.9 L601,515.3 L600,515.5 L599,515.6 L598,515.5 L597,515.2 L596,514.7 L595,514.1 L594,513.3 L593,512.2 L592,511 L591,509.6 L590,508 L589,506.2 L588,504.3 L587,502.2 L586,500.1 L585,498 L584,495.9 L583,493.9 L582,492.1 L581,490.4 L580,488.9 L579,487.6 L578,486.4 L577,485.5 L576,484.7 L575,484.1 L574,483.8 L573,483.7 L572,483.8 L571,484 L570,484.5 L569,485.1 L568,485.8 L567,486.6 L566,487.6 L565,488.6 L564,489.7 L563,490.8 L562,491.9 L561,493.1 L560,494.2 L559,495.4 L558,496.4 L557,497.5 L556,498.4 L555,499.3 L554,500 L553,500.6 L552,501.2 L551,501.5 L550,501.8 L549,501.8 L548,501.7 L547,501.4 L546,501.1 L545,500.5 L544,499.9 L543,499.2 L542,498.4 L541,497.6 L540,496.7 L539,495.7 L538,494.7 L537,493.7 L536,492.8 L535,491.8 L534,490.9 L533,490 L532,489.3 L531,488.7 L530,488.3 L529,488 L528,488 L527,488.2 L526,488.6 L525,489.2 L524,490 L523,490.9 L522,491.9 L521,493 L520,494.2 L519,495.5 L518,496.8 L517,498.1 L516,499.4 L515,500.8 L514,502.1 L513,503.4 L512,504.6 L511,505.8 L510,506.9 L509,508 L508,508.9 L507,509.8 L506,510.5 L505,511.1 L504,511.5 L503,511.8 L502,511.8 L501,511.7 L500,511.4 L499,511 L498,510.4 L497,509.7 L496,508.9 L495,508 L494,507 L493,505.9 L492,504.7 L491,503.4 L490,501.9 L489,500.4 L488,498.8 L487,497.1 L486,495.3 L485,493.5 L484,491.6 L483,489.7 L482,487.9 L481,486.1 L480,484.3 L479,482.7 L478,481.2 L477,479.9 L476,478.7 L475,477.7 L474,476.8 L473,476.1 L472,475.5 L471,475 L470,474.6 L469,474.3 L468,474.1 L467,474 L466,473.9 L465,473.9 L464,473.9 L463,474 L462,474.1 L461,474.2 L460,474.4 L459,474.6 L458,474.7 L457,474.9 L456,475.1 L455,475.2 L454,475.4 L453,475.5 L452,475.5 L451,475.5 L450,475.5 L449,475.5 L448,475.5 L447,475.5 L446,475.5 L445,475.5 L444,475.6 L443,475.7 L442,475.8 L441,475.9 L440,476.1 L439,476.3 L438,476.5 L437,476.8 L436,477 L435,477.3 L434,477.6 L433,477.9 L432,478.2 L431,478.4 L430,478.7 L429,479 L428,479.3 L427,479.5 L426,479.8 L425,480 L424,480.2 L423,480.4 L422,480.6 L421,480.8 L420,481 L419,481.2 L418,481.4 L417,481.6 L416,481.8 L415,482.1 L414,482.4 L413,482.8 L412,483.2 L411,483.7 L410,484.2 L409,484.7 L408,485.3 L407,485.9 L406,486.6 L405,487.2 L404,487.9 L403,488.7 L402,489.4 L401,490.2 L400,491 L399,491.8 L398,492.6 L397,493.4 L396,494.2 L395,495 L394,495.8 L393,496.6 L392,497.3 L391,498 L390,498.6 L389,499.2 L388,499.7 L387,500.2 L386,500.5 L385,500.8 L384,501 L383,501 L382,501 L381,500.9 L380,500.7 L379,500.4 L378,500.2 L377,499.8 L376,499.5 L375,499.1 L374,498.8 L373,498.4 L372,498.1 L371,497.9 L370,497.7 L369,497.5 L368,497.5 L367,497.5 L366,497.7 L365,497.9 L364,498.3 L363,498.7 L362,499.3 L361,499.9 L360,500.6 L359,501.4 L358,502.3 L357,503.3 L356,504.4 L355,505.5 L354,506.7 L353,508 L352,509.2 L351,510.5 L350,511.7 L349,512.9 L348,513.9 L347,514.9 L346,515.7 L345,516.3 L344,516.7 L343,516.9 L342,516.8 L341,516.5 L340,516.1 L339,515.4 L338,514.6 L337,513.7 L336,512.7 L335,511.6 L334,510.5 L333,509.2 L332,508 L331,506.7 L330,505.5 L329,504.3 L328,503.1 L327,502 L326,500.9 L325,499.8 L324,498.7 L323,497.7 L322,496.7 L321,495.7 L320,494.8 L319,493.9 L318,493 L317,492.1 L316,491.3 L315,490.5 L314,489.7 L313,489 L312,488.2 L311,487.5 L310,486.9 L309,486.3 L308,485.7 L307,485.2 L306,484.8 L305,484.4 L304,484 L303,483.8 L302,483.6 L301,483.5 L300,483.5 L299,483.6 L298,483.7 L297,483.9 L296,484.2 L295,484.5 L294,484.9 L293,485.3 L292,485.8 L291,486.2 L290,486.8 L289,487.3 L288,487.8 L287,488.3 L286,488.8 L285,489.3 L284,489.8 L283,490.2 L282,490.5 L281,490.8 L280,490.9 L279,491 L278,491 L277,490.8 L276,490.6 L275,490.3 L274,489.9 L273,489.5 L272,489 L271,488.5 L270,488 L269,487.5 L268,486.9 L267,486.4 L266,485.9 L265,485.4 L264,484.9 L263,484.5 L262,484.2 L261,483.9 L260,483.7 L259,483.5 L258,483.5 L257,483.5 L256,483.6 L255,483.8 L254,484.1 L253,484.4 L252,484.8 L251,485.2 L250,485.6 L249,486.1 L248,486.5 L247,487 L246,487.5 L245,487.9 L244,488.4 L243,488.8 L242,489.2 L241,489.6 L240,489.9 L239,490.3 L238,490.5 L237,490.7 L236,490.9 L235,491 L234,491 L233,491 L232,490.9 L231,490.8 L230,490.5 L229,490.3 L228,490 L227,489.7 L226,489.3 L225,489 L224,488.6 L223,488.1 L222,487.7 L221,487.2 L220,486.6 L219,486 L218,485.4 L217,484.7 L216,484 L215,483.3 L214,482.6 L213,481.9 L212,481.3 L211,480.8 L210,480.3 L209,479.9 L208,479.5 L207,479.1 L206,478.8 L205,478.5 L204,478.3 L203,478.1 L202,477.9 L201,477.7 L200,477.5 L199,477.4 L198,477.2 L197,477.1 L196,477 L195,476.9 L194,476.8 L193,476.7 L192,476.6 L191,476.5 Z" fill="url(#gS)"/>
<path d="M191,218.5 L192,222.3 L193,226.2 L194,230.3 L195,234.6 L196,239.3 L197,244.3 L198,249.4 L199,254.5 L200,259.6 L201,264.8 L202,270 L203,275 L204,279.7 L205,283.9 L206,287.3 L207,290 L208,292.1 L209,293.5 L210,294.4 L211,294.7 L212,294.7 L213,294.2 L214,293.5 L215,292.4 L216,291.1 L217,289.6 L218,288 L219,286.3 L220,284.5 L221,282.7 L222,280.9 L223,279.1 L224,277.5 L225,276.1 L226,274.8 L227,273.7 L228,272.8 L229,272.3 L230,272 L231,272.1 L232,272.5 L233,273.3 L234,274.5 L235,276 L236,277.9 L237,280.2 L238,282.8 L239,285.8 L240,289.1 L241,292.7 L242,296.6 L243,300.6 L244,304.8 L245,309.1 L246,313.5 L247,317.8 L248,322.1 L249,326.4 L250,330.5 L251,334.6 L252,338.5 L253,342.4 L254,346.3 L255,350 L256,353.6 L257,357 L258,360.1 L259,362.6 L260,364.4 L261,365.4 L262,365.6 L263,365.1 L264,363.9 L265,362.2 L266,360.2 L267,357.8 L268,355.2 L269,352.6 L270,350 L271,347.5 L272,345.2 L273,343.1 L274,341.2 L275,339.6 L276,338.4 L277,337.4 L278,336.9 L279,336.8 L280,337.1 L281,337.8 L282,338.9 L283,340.3 L284,342.1 L285,344.1 L286,346.3 L287,348.7 L288,351.3 L289,354 L290,356.7 L291,359.5 L292,362.3 L293,364.9 L294,367.5 L295,370 L296,372.3 L297,374.3 L298,375.9 L299,377.1 L300,377.8 L301,378 L302,377.5 L303,376.4 L304,374.9 L305,372.9 L306,370.7 L307,368.2 L308,365.5 L309,362.8 L310,360 L311,357.3 L312,354.6 L313,352 L314,349.3 L315,346.7 L316,344.1 L317,341.4 L318,338.6 L319,335.8 L320,332.8 L321,329.8 L322,326.6 L323,323.3 L324,319.9 L325,316.2 L326,312.5 L327,308.7 L328,304.7 L329,300.6 L330,296.5 L331,292.3 L332,288 L333,283.7 L334,279.4 L335,275 L336,270.6 L337,266.3 L338,262.2 L339,258.4 L340,254.9 L341,251.8 L342,249.3 L343,247.4 L344,246.2 L345,245.9 L346,246.3 L347,247.3 L348,249 L349,251.2 L350,254 L351,257.1 L352,260.6 L353,264.4 L354,268.4 L355,272.6 L356,276.8 L357,281 L358,285 L359,288.9 L360,292.5 L361,295.7 L362,298.4 L363,300.5 L364,301.8 L365,302.1 L366,301.6 L367,300.3 L368,298.3 L369,295.7 L370,292.5 L371,288.9 L372,284.9 L373,280.7 L374,276.4 L375,272.2 L376,268.1 L377,264.3 L378,260.9 L379,257.9 L380,255.5 L381,253.5 L382,251.9 L383,250.8 L384,250.2 L385,250 L386,250.2 L387,250.9 L388,252 L389,253.4 L390,255.2 L391,257.4 L392,259.9 L393,262.7 L394,265.8 L395,269.2 L396,272.8 L397,276.6 L398,280.6 L399,284.8 L400,289.1 L401,293.4 L402,297.8 L403,302.2 L404,306.6 L405,310.9 L406,315.1 L407,319.2 L408,323 L409,326.7 L410,330 L411,333 L412,335.7 L413,338.1 L414,340.1 L415,341.9 L416,343.6 L417,345 L418,346.4 L419,347.7 L420,349 L421,350.3 L422,351.7 L423,353.3 L424,355 L425,356.8 L426,358.8 L427,360.9 L428,363.2 L429,365.6 L430,368.1 L431,370.8 L432,373.6 L433,376.5 L434,379.4 L435,382.4 L436,385.4 L437,388.2 L438,390.7 L439,393.1 L440,395 L441,396.5 L442,397.7 L443,398.7 L444,399.4 L445,400 L446,400.6 L447,401.1 L448,401.5 L449,401.8 L450,402 L451,402.1 L452,402.1 L453,402 L454,402 L455,402 L456,402.1 L457,402.3 L458,402.7 L459,403.4 L460,404.2 L461,405.2 L462,406.3 L463,407.5 L464,408.7 L465,410 L466,411.3 L467,412.5 L468,413.7 L469,414.7 L470,415.5 L471,416.1 L472,416.5 L473,416.5 L474,416.1 L475,415.2 L476,413.6 L477,411.3 L478,408.1 L479,403.8 L480,398.6 L481,392.5 L482,385.7 L483,378.3 L484,370.5 L485,362.5 L486,354.4 L487,346.3 L488,338.3 L489,330.4 L490,322.7 L491,315.4 L492,308.3 L493,301.8 L494,295.6 L495,290 L496,284.7 L497,279.9 L498,275.5 L499,271.5 L500,268 L501,265 L502,262.8 L503,261.4 L504,261.1 L505,261.9 L506,263.6 L507,266.2 L508,269.5 L509,273.6 L510,278.2 L511,283.4 L512,288.9 L513,294.9 L514,301.1 L515,307.5 L516,314 L517,320.6 L518,327.1 L519,333.6 L520,340 L521,346.2 L522,352.1 L523,357.8 L524,363.1 L525,367.9 L526,372.2 L527,375.9 L528,378.9 L529,381.1 L530,382.5 L531,382.9 L532,382.5 L533,381.4 L534,379.6 L535,377.4 L536,374.6 L537,371.6 L538,368.4 L539,365 L540,361.5 L541,358 L542,354.6 L543,351.2 L544,348 L545,345 L546,342.3 L547,339.8 L548,337.8 L549,336.2 L550,335.1 L551,334.5 L552,334.6 L553,335.3 L554,336.6 L555,338.4 L556,340.7 L557,343.5 L558,346.6 L559,350.2 L560,354 L561,358.1 L562,362.3 L563,366.5 L564,370.8 L565,375 L566,379 L567,382.9 L568,386.4 L569,389.6 L570,392.3 L571,394.6 L572,396.2 L573,397.3 L574,397.5 L575,397.1 L576,395.8 L577,393.7 L578,390.9 L579,387.5 L580,383.3 L581,378.4 L582,373 L583,366.9 L584,360.3 L585,353.4 L586,346.3 L587,339.3 L588,332.4 L589,325.9 L590,320 L591,314.7 L592,310.1 L593,306.1 L594,302.6 L595,299.5 L596,296.9 L597,294.5 L598,292.6 L599,291.1 L600,290.2 L601,290 L602,290.4 L603,291.4 L604,292.9 L605,294.8 L606,296.9 L607,299.2 L608,301.6 L609,304.1 L610,306.6 L611,309 L612,311.4 L613,313.6 L614,315.7 L615,317.5 L616,319.1 L617,320.4 L618,321.4 L619,322.1 L620,322.4 L621,322.5 L622,322.2 L623,321.6 L624,320.9 L625,320 L626,319 L627,318 L628,317 L629,316.1 L630,315.2 L631,314.4 L632,313.8 L633,313.2 L634,312.8 L635,312.5 L636,312.4 L637,312.4 L638,312.6 L639,313 L640,313.6 L641,314.4 L642,315.3 L643,316.3 L644,317.5 L645,318.8 L646,320.1 L647,321.7 L648,323.3 L649,325.1 L650,327 L651,329.1 L652,331.3 L653,333.7 L654,336.3 L655,339 L656,341.7 L657,344.5 L658,347.2 L659,349.9 L660,352.5 L661,354.9 L662,357.2 L663,359.4 L664,361.5 L665,363.4 L666,365.3 L667,367.2 L668,369 L669,370.7 L670,372.5 L671,374.3 L672,376 L673,377.6 L674,379.2 L675,380.7 L676,382 L677,383.1 L678,384 L679,384.6 L680,384.9 L681,385 L682,384.6 L683,383.9 L684,382.6 L685,380.7 L686,378.2 L687,375 L688,371 L689,366.2 L690,360.5 L691,353.9 L692,346.5 L693,338.4 L694,329.5 L695,320 L696,309.8 L697,299.1 L698,288 L699,276.6 L700,265 L701,253.3 L702,241.7 L703,230.3 L704,219.2 L705,208.4 L706,198.3 L707,188.8 L708,180 L709,172.2 L710,165.2 L711,159.2 L712,154 L713,149.8 L714,146.5 L715,144.2 L716,142.6 L717,141.8 L718,141.7 L719,142.2 L720,143.3 L721,144.8 L722,146.9 L723,149.4 L724,152.3 L725,155.5 L726,159.1 L727,162.9 L728,167 L729,171.1 L730,175.3 L731,179.5 L732,183.6 L733,187.5 L734,191.3 L735,194.8 L736,198.3 L737,201.6 L738,204.9 L739,208.1 L740,211.4 L741,214.7 L742,218.1 L743,221.6 L744,225.2 L745,229 L746,233.1 L747,237.4 L748,242.1 L749,247 L750,252.4 L751,258.2 L752,264.4 L753,271.1 L754,278 L755,285.2 L756,292.4 L757,299.6 L758,306.6 L759,313.3 L760,319.6 L761,325.7 L762,331.4 L763,336.8 L764,341.9 L765,346.6 L766,351.1 L767,355.2 L768,358.9 L769,362.1 L770,364.8 L771,366.8 L772,368 L773,368.4 L774,368 L775,366.8 L776,364.8 L777,362.1 L778,358.8 L779,354.8 L780,350.3 L781,345.2 L782,339.7 L783,333.9 L784,328 L785,322.1 L786,316.3 L787,310.7 L788,305.6 L789,300.9 L790,296.7 L791,293 L792,289.7 L793,286.9 L794,284.6 L795,282.6 L796,281.1 L797,280.1 L798,279.5 L799,279.3 L800,279.6 L801,280.3 L802,281.4 L803,282.8 L804,284.3 L805,286 L806,287.7 L807,289.4 L808,291 L809,292.4 L810,293.7 L811,294.8 L812,295.7 L813,296.4 L814,296.8 L815,297 L816,296.9 L817,296.5 L818,295.8 L819,294.8 L820,293.8 L821,292.6 L822,291.4 L823,290.2 L824,289 L825,288 L826,287.1 L827,286.3 L828,285.6 L829,285 L830,284.4 L831,284 L832,283.6 L833,283.2 L834,283 L835,282.7 L836,282.4 L837,282.1 L838,281.9 L839,281.5 L840,281.1 L841,280.7 L842,280.1 L843,279.4 L844,278.5 L845,277.4 L846,275.9 L847,274.1 L848,271.9 L849,269.2 L850,266 L851,262.3 L852,258.3 L853,254 L854,249.7 L855,245.4 L856,241.3 L857,237.4 L858,233.9 L859,230.9 L860,228.2 L861,225.9 L862,224 L863,222.4 L864,221.2 L865,220.4 L866,219.8 L867,219.7 L868,219.8 L869,220.2 L870,221 L871,222 L872,223.3 L873,224.8 L874,226.6 L875,228.5 L876,230.7 L877,233.1 L878,235.7 L879,238.4 L880,241.1 L881,243.9 L882,246.7 L883,249.5 L884,252.2 L885,254.8 L886,257.3 L887,259.5 L888,261.7 L889,263.6 L890,265.4 L891,267 L892,268.4 L893,269.7 L894,270.8 L895,271.8 L896,272.5 L897,273.1 L898,273.6 L899,273.9 L900,274.1 L901,274.2 L902,274.2 L903,274.1 L904,274 L905,273.8 L906,273.5 L907,273.3 L908,273 L909,272.8 L910,272.6 L911,272.4 L912,272.4 L913,272.5 L914,272.6 L915,273 L916,273.5 L917,274.1 L918,275 L919,276.2 L920,277.6 L921,279.3 L922,281.3 L923,283.7 L924,286.4 L925,289.5 L926,292.8 L927,296.4 L928,300.2 L929,304.2 L930,308.2 L931,312.3 L932,316.3 L933,320.3 L934,324.1 L935,327.7 L936,330.9 L937,333.7 L938,336 L939,337.7 L940,339 L941,339.8 L942,340.2 L943,340.2 L944,339.9 L945,339.1 L946,337.7 L947,335.7 L948,332.9 L949,329.3 L950,324.8 L951,319.3 L952,312.9 L953,305.8 L954,298.1 L955,290 L956,281.7 L957,273.3 L958,264.9 L959,256.7 L960,248.7 L961,241.3 L962,234.4 L963,228.3 L964,222.8 L965,217.9 L966,213.8 L967,210.2 L968,207.4 L969,205.2 L970,203.6 L971,202.6 L972,202.3 L973,202.7 L974,203.7 L975,205.3 L976,207.5 L977,210.4 L978,213.9 L979,218 L980,222.7 L981,227.9 L982,233.5 L983,239.5 L984,245.7 L985,252.2 L986,258.9 L987,265.6 L988,272.2 L989,278.7 L990,285 L991,291 L992,296.5 L993,301.6 L994,306.2 L995,310.3 L996,314 L997,317.1 L998,319.7 L999,321.8 L1000,323.5 L1001,324.8 L1002,325.6 L1003,326.2 L1004,326.5 L1005,326.6 L1006,326.6 L1007,326.4 L1008,326.1 L1009,325.6 L1010,325 L1011,324.2 L1012,323.2 L1013,322.1 L1014,320.8 L1015,319.3 L1016,317.6 L1017,315.7 L1018,313.6 L1019,311.3 L1020,308.8 L1021,306.1 L1022,303.2 L1023,300.1 L1024,296.9 L1025,293.5 L1026,290 L1027,286.5 L1028,283.1 L1029,279.8 L1030,276.6 L1031,273.7 L1032,271 L1033,268.5 L1034,266.2 L1035,264.1 L1036,262.2 L1037,260.5 L1038,258.9 L1039,257.5 L1040,256.3 L1041,255.3 L1042,254.5 L1043,254.1 L1044,253.9 L1045,254.2 L1046,254.8 L1047,255.7 L1048,256.9 L1049,258.5 L1050,260.2 L1051,262.2 L1052,264.3 L1053,266.6 L1054,268.9 L1055,271.4 L1056,273.8 L1057,276.3 L1058,278.6 L1059,280.9 L1060,283 L1061,284.9 L1062,286.6 L1063,288.1 L1064,289.4 L1065,290.4 L1066,291.2 L1067,291.7 L1068,291.9 L1069,291.8 L1070,291.5 L1071,291.1 L1072,290.5 L1073,289.9 L1074,289.3 L1075,288.7 L1076,288.3 L1077,287.9 L1078,287.8 L1079,287.8 L1080,288.1 L1081,288.7 L1082,289.6 L1083,290.7 L1084,292.2 L1085,294 L1086,296.1 L1087,298.5 L1088,301.3 L1089,304.3 L1090,307.6 L1091,311.1 L1092,314.8 L1093,318.7 L1094,322.7 L1095,326.7 L1096,330.8 L1097,334.9 L1098,338.9 L1099,342.7 L1100,346.5 L1101,349.9 L1102,353.1 L1103,355.9 L1104,358.2 L1105,360 L1106,361.1 L1107,361.6 L1108,361.4 L1109,360.4 L1110,358.8 L1111,356.5 L1112,353.5 L1113,349.9 L1114,345.8 L1115,341 L1116,335.8 L1117,330.2 L1118,324.3 L1119,318.5 L1120,312.7 L1121,307.1 L1122,301.9 L1123,297.1 L1124,292.6 L1125,288.5 L1126,284.7 L1127,281.2 L1128,278.1 L1129,275.2 L1130,272.6 L1131,270.3 L1132,268.4 L1133,267 L1134,266.1 L1135,265.7 L1136,265.9 L1137,266.8 L1138,268.2 L1139,270.1 L1140,272.6 L1141,275.5 L1142,278.7 L1143,282.4 L1144,286.5 L1145,291 L1146,296 L1147,301.4 L1148,307.3 L1149,313.8 L1150,320.7 L1151,327.9 L1152,335.3 L1153,342.8 L1154,350.2 L1155,357.4 L1156,364.4 L1157,371.2 L1158,377.6 L1159,383.9 L1160,390 L1161,395.8 L1162,401.5 L1163,407 L1164,412.2 L1165,417.1 L1166,421.6 L1167,425.7 L1168,429.4 L1169,432.5 L1170,435 L1171,437 L1172,438.4 L1173,439.2 L1174,439.4 L1175,438.9 L1176,437.7 L1177,435.9 L1178,433.3 L1179,430 L1180,426.1 L1181,421.4 L1182,416.2 L1183,410.5 L1184,404.4 L1185,398 L1186,391.5 L1187,384.8 L1188,378.1 L1189,371.1 L1190,363.9 L1191,356.4 L1192,348.5 L1193,340.3 L1194,331.9 L1195,323.3 L1196,314.9 L1197,306.9 L1198,299.5 L1199,292.8 L1200,287 L1201,282.1 L1202,277.9 L1203,274.4 L1204,271.5 L1205,269.2 L1206,267.2 L1207,265.9 L1208,265.3 L1209,265.7 L1210,267.1 L1211,269.7 L1212,273.4 L1213,278.5 L1214,284.7 L1215,291.8 L1216,299.5 L1217,307.6 L1218,315.7 L1219,323.7 L1220,331.6 L1221,339.6 L1222,347.5 L1223,355.7 L1224,363.9 L1225,372.2 L1226,380.5 L1227,388.4 L1228,396 L1229,403 L1230,409.4 L1231,415.2 L1232,420.3 L1233,424.7 L1234,428.5 L1235,431.5 L1236,433.9 L1237,435.7 L1238,436.9 L1239,437.6 L1240,437.9 L1241,437.9 L1242,437.5 L1243,436.8 L1244,435.8 L1245,434.4 L1246,432.6 L1247,430.4 L1248,427.7 L1249,424.5 L1250,421 L1251,417 L1252,412.7 L1253,408.1 L1254,403.2 L1255,398.1 L1256,392.8 L1257,387.4 L1258,382 L1259,376.6 L1260,371.2 L1261,365.9 L1262,360.8 L1263,355.8 L1264,351.1 L1265,346.6 L1266,342.4 L1267,338.5 L1268,334.9 L1269,331.7 L1270,328.9 L1271,326.6 L1272,324.7 L1273,323.2 L1274,322.3 L1275,321.9 L1276,322 L1277,322.7 L1278,324 L1279,325.8 L1280,328.2 L1281,331.1 L1282,334.6 L1283,338.5 L1284,342.9 L1285,347.6 L1286,352.6 L1287,357.9 L1288,363.2 L1289,368.7 L1290,374.2 L1291,379.5 L1292,384.7 L1293,389.7 L1294,394.4 L1295,398.8 L1296,402.8 L1297,406.5 L1298,409.8 L1299,412.7 L1300,415.1 L1301,417 L1302,418.4 L1303,419.3 L1304,419.7 L1305,419.6 L1306,418.9 L1307,417.7 L1308,416 L1309,414 L1310,411.6 L1311,408.9 L1312,406 L1313,402.8 L1314,399.5 L1315,396.1 L1316,392.7 L1317,389.2 L1318,385.8 L1319,382.5 L1320,379.3 L1321,376.3 L1322,373.4 L1323,370.7 L1324,368.1 L1325,365.7 L1326,363.5 L1327,361.5 L1328,359.8 L1329,358.3 L1330,357.2 L1331,356.4 L1332,356.1 L1333,356.1 L1334,356.6 L1335,357.5 L1336,358.7 L1337,360.3 L1338,362.3 L1339,364.6 L1340,367.2 L1341,370.1 L1342,373.1 L1343,376.4 L1344,379.7 L1345,383.1 L1346,386.4 L1347,389.7 L1348,392.9 L1349,396.1 L1350,399.3 L1351,402.4 L1352,405.4 L1353,408.1 L1354,410.2 L1355,411.7 L1356,412.5 L1357,413 L1358,413 L1359,412.7 L1360,412.1 L1361,411.4 L1362,410.4 L1363,409.2 L1364,407.8 L1365,406.4 L1366,404.8 L1367,403.3 L1368,401.7 L1369,400.2 L1370,398.7 L1371,397.5 L1372,396.4 L1373,395.5 L1374,394.8 L1375,394.3 L1376,394.1 L1377,394.1 L1378,394.4 L1379,394.9 L1380,395.6 L1381,396.6 L1382,397.7 L1383,399.1 L1384,400.7 L1385,402.4 L1386,404.3 L1387,406.3 L1388,408.5 L1389,410.7 L1390,413 L1391,415.4 L1392,417.7 L1393,419.9 L1394,422.1 L1395,424 L1396,425.8 L1397,427.4 L1398,428.9 L1399,430.2 L1400,431.4 L1401,432.5 L1402,433.5 L1403,434.4 L1404,435.2 L1405,435.9 L1406,436.6 L1407,437.3 L1408,437.9 L1409,438.6 L1410,439.2 L1411,439.9 L1412,440.5 L1413,441.2 L1414,442 L1415,442.8 L1416,443.7 L1417,444.6 L1418,445.6 L1419,446.6 L1420,447.6 L1421,448.7 L1422,449.7 L1423,450.8 L1424,451.9 L1425,452.9 L1426,454 L1427,455 L1428,455.9 L1429,456.9 L1430,457.8 L1431,458.6 L1432,459.4 L1433,460.1 L1434,460.8 L1435,461.5 L1436,462.1 L1437,462.6 L1438,463.1 L1439,463.6 L1440,464 L1441,464.3 L1442,464.6 L1443,464.9 L1444,465.2 L1445,465.4 L1446,465.5 L1447,465.7 L1448,465.8 L1449,465.8 L1450,465.9 L1451,465.9 L1452,466 L1453,466 L1454,466 L1455,466 L1456,465.9 L1457,465.8 L1458,465.7 L1459,465.5 L1460,465.2 L1461,464.9 L1462,464.4 L1463,464 L1464,463.4 L1465,462.8 L1466,462.2 L1467,461.5 L1468,460.7 L1469,460 L1470,459.1 L1471,458.3 L1472,457.5 L1473,456.6 L1474,455.7 L1475,454.9 L1476,454 L1477,453.1 L1478,452.2 L1479,451.3 L1480,450.5 L1481,449.6 L1482,448.7 L1483,447.9 L1484,447 L1485,446.2 L1486,445.5 L1487,444.7 L1488,444 L1489,443.3 L1490,442.7 L1491,442.1 L1492,441.6 L1493,441 L1494,440.6 L1495,440.1 L1496,439.6 L1497,439.2 L1498,438.7 L1499,438.3 L1500,437.8 L1501,437.4 L1502,436.9 L1503,436.4 L1504,435.9 L1505,435.4 L1506,434.9 L1507,434.4 L1508,433.9 L1509,433.4 L1510,432.9 L1511,432.4 L1512,431.8 L1513,431.3 L1514,430.9 L1515,430.4 L1516,430 L1517,429.6 L1518,429.4 L1519,429.2 L1520,429.1 L1521,429.2 L1522,429.4 L1523,429.7 L1524,430.1 L1525,430.6 L1526,431.2 L1527,431.9 L1528,432.6 L1529,433.4 L1530,434.2 L1531,435.1 L1532,436 L1533,436.8 L1534,437.6 L1535,438.3 L1536,439 L1537,439.5 L1538,439.8 L1539,440 L1540,439.9 L1541,439.6 L1542,439.1 L1543,438.5 L1544,437.6 L1545,436.7 L1546,435.6 L1547,434.4 L1548,433.2 L1549,432 L1550,430.7 L1551,429.4 L1552,428.1 L1553,426.9 L1554,425.6 L1555,424.5 L1556,423.4 L1557,422.4 L1558,421.5 L1559,420.7 L1560,420 L1561,419.5 L1562,419.2 L1563,419 L1564,419.1 L1565,419.3 L1566,419.8 L1567,420.3 L1568,421 L1569,421.9 L1570,422.8 L1571,423.8 L1572,424.9 L1573,426 L1574,427.2 L1575,428.4 L1576,429.5 L1577,430.7 L1578,431.8 L1579,432.9 L1580,433.9 L1581,434.9 L1582,435.7 L1583,436.4 L1584,437 L1585,437.5 L1586,437.8 L1587,438 L1588,437.9 L1589,437.7 L1590,437.2 L1591,436.6 L1592,435.7 L1593,434.6 L1594,433.2 L1595,431.7 L1596,429.8 L1597,427.8 L1598,425.5 L1599,423.2 L1600,420.7 L1601,418.3 L1602,415.8 L1603,413.4 L1604,411.2 L1605,409.1 L1606,407.2 L1607,405.6 L1608,404.2 L1609,403.1 L1610,402.1 L1611,401.4 L1612,400.7 L1613,400.3 L1614,399.9 L1615,399.6 L1616,399.4 L1617,399.2 L1618,399.1 L1619,398.9 L1620,398.8 L1621,398.6 L1622,398.3 L1623,398 L1624,397.6 L1625,397 L1626,396.3 L1627,395.3 L1628,394.2 L1629,392.7 L1630,390.9 L1631,388.7 L1632,386.2 L1633,383.1 L1634,379.7 L1635,376 L1636,371.9 L1637,367.6 L1638,363.1 L1639,358.4 L1640,353.6 L1641,348.7 L1642,343.8 L1643,338.8 L1644,333.7 L1645,328.7 L1646,323.6 L1647,318.6 L1648,313.5 L1649,308.6 L1650,303.7 L1651,298.9 L1652,294.2 L1653,289.6 L1654,285.2 L1655,281 L1656,277 L1657,273.1 L1658,269.5 L1659,266.1 L1660,262.8 L1661,259.8 L1662,256.9 L1663,254.3 L1664,251.8 L1665,249.4 L1666,247.2 L1667,245.2 L1668,243.2 L1669,241.3 L1670,239.5 L1671,237.7 L1672,236 L1673,234.2 L1674,232.5 L1675,230.7 L1676,229 L1677,227.4 L1678,225.9 L1679,224.6 L1680,223.4 L1681,222.5 L1682,221.8 L1683,221.3 L1684,221.3 L1685,221.5 L1686,222.1 L1687,223.1 L1688,224.4 L1689,226.1 L1690,228.2 L1691,230.6 L1692,233.2 L1693,236 L1693,697 L1692,699.8 L1691,702.4 L1690,704.8 L1689,706.9 L1688,708.6 L1687,709.9 L1686,710.9 L1685,711.5 L1684,711.7 L1683,711.7 L1682,711.2 L1681,710.5 L1680,709.6 L1679,708.4 L1678,707.1 L1677,705.6 L1676,704 L1675,702.3 L1674,700.5 L1673,698.8 L1672,697 L1671,695.3 L1670,693.5 L1669,691.7 L1668,689.8 L1667,687.8 L1666,685.8 L1665,683.6 L1664,681.2 L1663,678.7 L1662,676.1 L1661,673.2 L1660,670.2 L1659,666.9 L1658,663.5 L1657,659.9 L1656,656 L1655,652 L1654,647.8 L1653,643.4 L1652,638.8 L1651,634.1 L1650,629.3 L1649,624.4 L1648,619.5 L1647,614.4 L1646,609.4 L1645,604.3 L1644,599.3 L1643,594.2 L1642,589.2 L1641,584.3 L1640,579.4 L1639,574.6 L1638,569.9 L1637,565.4 L1636,561.1 L1635,557 L1634,553.3 L1633,549.9 L1632,546.8 L1631,544.3 L1630,542.1 L1629,540.3 L1628,538.8 L1627,537.7 L1626,536.7 L1625,536 L1624,535.4 L1623,535 L1622,534.7 L1621,534.4 L1620,534.2 L1619,534.1 L1618,533.9 L1617,533.8 L1616,533.6 L1615,533.4 L1614,533.1 L1613,532.7 L1612,532.3 L1611,531.6 L1610,530.9 L1609,529.9 L1608,528.8 L1607,527.4 L1606,525.8 L1605,523.9 L1604,521.8 L1603,519.6 L1602,517.2 L1601,514.7 L1600,512.3 L1599,509.8 L1598,507.5 L1597,505.2 L1596,503.2 L1595,501.3 L1594,499.8 L1593,498.4 L1592,497.3 L1591,496.4 L1590,495.8 L1589,495.3 L1588,495.1 L1587,495 L1586,495.2 L1585,495.5 L1584,496 L1583,496.6 L1582,497.3 L1581,498.1 L1580,499.1 L1579,500.1 L1578,501.2 L1577,502.3 L1576,503.5 L1575,504.6 L1574,505.8 L1573,507 L1572,508.1 L1571,509.2 L1570,510.2 L1569,511.1 L1568,512 L1567,512.7 L1566,513.2 L1565,513.7 L1564,513.9 L1563,514 L1562,513.8 L1561,513.5 L1560,513 L1559,512.3 L1558,511.5 L1557,510.6 L1556,509.6 L1555,508.5 L1554,507.4 L1553,506.1 L1552,504.9 L1551,503.6 L1550,502.3 L1549,501 L1548,499.8 L1547,498.6 L1546,497.4 L1545,496.3 L1544,495.4 L1543,494.5 L1542,493.9 L1541,493.4 L1540,493.1 L1539,493 L1538,493.2 L1537,493.5 L1536,494 L1535,494.7 L1534,495.4 L1533,496.2 L1532,497 L1531,497.9 L1530,498.8 L1529,499.6 L1528,500.4 L1527,501.1 L1526,501.8 L1525,502.4 L1524,502.9 L1523,503.3 L1522,503.6 L1521,503.8 L1520,503.9 L1519,503.8 L1518,503.6 L1517,503.4 L1516,503 L1515,502.6 L1514,502.1 L1513,501.7 L1512,501.2 L1511,500.6 L1510,500.1 L1509,499.6 L1508,499.1 L1507,498.6 L1506,498.1 L1505,497.6 L1504,497.1 L1503,496.6 L1502,496.1 L1501,495.6 L1500,495.2 L1499,494.7 L1498,494.3 L1497,493.8 L1496,493.4 L1495,492.9 L1494,492.4 L1493,492 L1492,491.4 L1491,490.9 L1490,490.3 L1489,489.7 L1488,489 L1487,488.3 L1486,487.5 L1485,486.8 L1484,486 L1483,485.1 L1482,484.3 L1481,483.4 L1480,482.5 L1479,481.7 L1478,480.8 L1477,479.9 L1476,479 L1475,478.1 L1474,477.3 L1473,476.4 L1472,475.5 L1471,474.7 L1470,473.9 L1469,473 L1468,472.3 L1467,471.5 L1466,470.8 L1465,470.2 L1464,469.6 L1463,469 L1462,468.6 L1461,468.1 L1460,467.8 L1459,467.5 L1458,467.3 L1457,467.2 L1456,467.1 L1455,467 L1454,467 L1453,467 L1452,467 L1451,467.1 L1450,467.1 L1449,467.2 L1448,467.2 L1447,467.3 L1446,467.5 L1445,467.6 L1444,467.8 L1443,468.1 L1442,468.4 L1441,468.7 L1440,469 L1439,469.4 L1438,469.9 L1437,470.4 L1436,470.9 L1435,471.5 L1434,472.2 L1433,472.9 L1432,473.6 L1431,474.4 L1430,475.2 L1429,476.1 L1428,477.1 L1427,478 L1426,479 L1425,480.1 L1424,481.1 L1423,482.2 L1422,483.3 L1421,484.3 L1420,485.4 L1419,486.4 L1418,487.4 L1417,488.4 L1416,489.3 L1415,490.2 L1414,491 L1413,491.8 L1412,492.5 L1411,493.1 L1410,493.8 L1409,494.4 L1408,495.1 L1407,495.7 L1406,496.4 L1405,497.1 L1404,497.8 L1403,498.6 L1402,499.5 L1401,500.5 L1400,501.6 L1399,502.8 L1398,504.1 L1397,505.6 L1396,507.2 L1395,509 L1394,510.9 L1393,513.1 L1392,515.3 L1391,517.6 L1390,520 L1389,522.3 L1388,524.5 L1387,526.7 L1386,528.7 L1385,530.6 L1384,532.3 L1383,533.9 L1382,535.3 L1381,536.4 L1380,537.4 L1379,538.1 L1378,538.6 L1377,538.9 L1376,538.9 L1375,538.7 L1374,538.2 L1373,537.5 L1372,536.6 L1371,535.5 L1370,534.3 L1369,532.8 L1368,531.3 L1367,529.7 L1366,528.2 L1365,526.6 L1364,525.2 L1363,523.8 L1362,522.6 L1361,521.6 L1360,520.9 L1359,520.3 L1358,520 L1357,520 L1356,520.5 L1355,521.3 L1354,522.8 L1353,524.9 L1352,527.6 L1351,530.6 L1350,533.7 L1349,536.9 L1348,540.1 L1347,543.3 L1346,546.6 L1345,549.9 L1344,553.3 L1343,556.6 L1342,559.9 L1341,562.9 L1340,565.8 L1339,568.4 L1338,570.7 L1337,572.7 L1336,574.3 L1335,575.5 L1334,576.4 L1333,576.9 L1332,576.9 L1331,576.6 L1330,575.8 L1329,574.7 L1328,573.2 L1327,571.5 L1326,569.5 L1325,567.3 L1324,564.9 L1323,562.3 L1322,559.6 L1321,556.7 L1320,553.7 L1319,550.5 L1318,547.2 L1317,543.8 L1316,540.3 L1315,536.9 L1314,533.5 L1313,530.2 L1312,527 L1311,524.1 L1310,521.4 L1309,519 L1308,517 L1307,515.3 L1306,514.1 L1305,513.4 L1304,513.3 L1303,513.7 L1302,514.6 L1301,516 L1300,517.9 L1299,520.3 L1298,523.2 L1297,526.5 L1296,530.2 L1295,534.2 L1294,538.6 L1293,543.3 L1292,548.3 L1291,553.5 L1290,558.8 L1289,564.3 L1288,569.8 L1287,575.1 L1286,580.4 L1285,585.4 L1284,590.1 L1283,594.5 L1282,598.4 L1281,601.9 L1280,604.8 L1279,607.2 L1278,609 L1277,610.3 L1276,611 L1275,611.1 L1274,610.7 L1273,609.8 L1272,608.3 L1271,606.4 L1270,604.1 L1269,601.3 L1268,598.1 L1267,594.5 L1266,590.6 L1265,586.4 L1264,581.9 L1263,577.2 L1262,572.2 L1261,567.1 L1260,561.8 L1259,556.4 L1258,551 L1257,545.6 L1256,540.2 L1255,534.9 L1254,529.8 L1253,524.9 L1252,520.3 L1251,516 L1250,512 L1249,508.5 L1248,505.3 L1247,502.6 L1246,500.4 L1245,498.6 L1244,497.2 L1243,496.2 L1242,495.5 L1241,495.1 L1240,495.1 L1239,495.4 L1238,496.1 L1237,497.3 L1236,499.1 L1235,501.5 L1234,504.5 L1233,508.3 L1232,512.7 L1231,517.8 L1230,523.6 L1229,530 L1228,537 L1227,544.6 L1226,552.5 L1225,560.8 L1224,569.1 L1223,577.3 L1222,585.5 L1221,593.4 L1220,601.4 L1219,609.3 L1218,617.3 L1217,625.4 L1216,633.5 L1215,641.2 L1214,648.3 L1213,654.5 L1212,659.6 L1211,663.3 L1210,665.9 L1209,667.3 L1208,667.7 L1207,667.1 L1206,665.8 L1205,663.8 L1204,661.5 L1203,658.6 L1202,655.1 L1201,650.9 L1200,646 L1199,640.2 L1198,633.5 L1197,626.1 L1196,618.1 L1195,609.7 L1194,601.1 L1193,592.7 L1192,584.5 L1191,576.6 L1190,569.1 L1189,561.9 L1188,554.9 L1187,548.2 L1186,541.5 L1185,535 L1184,528.6 L1183,522.5 L1182,516.8 L1181,511.6 L1180,506.9 L1179,503 L1178,499.7 L1177,497.1 L1176,495.3 L1175,494.1 L1174,493.6 L1173,493.8 L1172,494.6 L1171,496 L1170,498 L1169,500.5 L1168,503.6 L1167,507.3 L1166,511.4 L1165,515.9 L1164,520.8 L1163,526 L1162,531.5 L1161,537.2 L1160,543 L1159,549.1 L1158,555.4 L1157,561.8 L1156,568.6 L1155,575.6 L1154,582.8 L1153,590.2 L1152,597.7 L1151,605.1 L1150,612.3 L1149,619.2 L1148,625.7 L1147,631.6 L1146,637 L1145,642 L1144,646.5 L1143,650.6 L1142,654.3 L1141,657.5 L1140,660.4 L1139,662.9 L1138,664.8 L1137,666.2 L1136,667.1 L1135,667.3 L1134,666.9 L1133,666 L1132,664.6 L1131,662.7 L1130,660.4 L1129,657.8 L1128,654.9 L1127,651.8 L1126,648.3 L1125,644.5 L1124,640.4 L1123,635.9 L1122,631.1 L1121,625.9 L1120,620.3 L1119,614.5 L1118,608.7 L1117,602.8 L1116,597.2 L1115,592 L1114,587.2 L1113,583.1 L1112,579.5 L1111,576.5 L1110,574.2 L1109,572.6 L1108,571.6 L1107,571.4 L1106,571.9 L1105,573 L1104,574.8 L1103,577.1 L1102,579.9 L1101,583.1 L1100,586.5 L1099,590.3 L1098,594.1 L1097,598.1 L1096,602.2 L1095,606.3 L1094,610.3 L1093,614.3 L1092,618.2 L1091,621.9 L1090,625.4 L1089,628.7 L1088,631.7 L1087,634.5 L1086,636.9 L1085,639 L1084,640.8 L1083,642.3 L1082,643.4 L1081,644.3 L1080,644.9 L1079,645.2 L1078,645.2 L1077,645.1 L1076,644.7 L1075,644.3 L1074,643.7 L1073,643.1 L1072,642.5 L1071,641.9 L1070,641.5 L1069,641.2 L1068,641.1 L1067,641.3 L1066,641.8 L1065,642.6 L1064,643.6 L1063,644.9 L1062,646.4 L1061,648.1 L1060,650 L1059,652.1 L1058,654.4 L1057,656.7 L1056,659.2 L1055,661.6 L1054,664.1 L1053,666.4 L1052,668.7 L1051,670.8 L1050,672.8 L1049,674.5 L1048,676.1 L1047,677.3 L1046,678.2 L1045,678.8 L1044,679.1 L1043,678.9 L1042,678.5 L1041,677.7 L1040,676.7 L1039,675.5 L1038,674.1 L1037,672.5 L1036,670.8 L1035,668.9 L1034,666.8 L1033,664.5 L1032,662 L1031,659.3 L1030,656.4 L1029,653.2 L1028,649.9 L1027,646.5 L1026,643 L1025,639.5 L1024,636.1 L1023,632.9 L1022,629.8 L1021,626.9 L1020,624.2 L1019,621.7 L1018,619.4 L1017,617.3 L1016,615.4 L1015,613.7 L1014,612.2 L1013,610.9 L1012,609.8 L1011,608.8 L1010,608 L1009,607.4 L1008,606.9 L1007,606.6 L1006,606.4 L1005,606.4 L1004,606.5 L1003,606.8 L1002,607.4 L1001,608.2 L1000,609.5 L999,611.2 L998,613.3 L997,615.9 L996,619 L995,622.7 L994,626.8 L993,631.4 L992,636.5 L991,642 L990,648 L989,654.3 L988,660.8 L987,667.4 L986,674.1 L985,680.8 L984,687.3 L983,693.5 L982,699.5 L981,705.1 L980,710.3 L979,715 L978,719.1 L977,722.6 L976,725.5 L975,727.7 L974,729.3 L973,730.3 L972,730.7 L971,730.4 L970,729.4 L969,727.8 L968,725.6 L967,722.8 L966,719.2 L965,715.1 L964,710.2 L963,704.7 L962,698.6 L961,691.7 L960,684.3 L959,676.3 L958,668.1 L957,659.7 L956,651.3 L955,643 L954,634.9 L953,627.2 L952,620.1 L951,613.7 L950,608.2 L949,603.7 L948,600.1 L947,597.3 L946,595.3 L945,593.9 L944,593.1 L943,592.8 L942,592.8 L941,593.2 L940,594 L939,595.3 L938,597 L937,599.3 L936,602.1 L935,605.3 L934,608.9 L933,612.7 L932,616.7 L931,620.7 L930,624.8 L929,628.8 L928,632.8 L927,636.6 L926,640.2 L925,643.5 L924,646.6 L923,649.3 L922,651.7 L921,653.7 L920,655.4 L919,656.8 L918,658 L917,658.9 L916,659.5 L915,660 L914,660.4 L913,660.5 L912,660.6 L911,660.6 L910,660.4 L909,660.2 L908,660 L907,659.7 L906,659.5 L905,659.2 L904,659 L903,658.9 L902,658.8 L901,658.8 L900,658.9 L899,659.1 L898,659.4 L897,659.9 L896,660.5 L895,661.2 L894,662.2 L893,663.3 L892,664.6 L891,666 L890,667.6 L889,669.4 L888,671.3 L887,673.5 L886,675.7 L885,678.2 L884,680.8 L883,683.5 L882,686.3 L881,689.1 L880,691.9 L879,694.6 L878,697.3 L877,699.9 L876,702.3 L875,704.5 L874,706.4 L873,708.2 L872,709.7 L871,711 L870,712 L869,712.8 L868,713.2 L867,713.3 L866,713.2 L865,712.6 L864,711.8 L863,710.6 L862,709 L861,707.1 L860,704.8 L859,702.1 L858,699.1 L857,695.6 L856,691.7 L855,687.6 L854,683.3 L853,679 L852,674.7 L851,670.7 L850,667 L849,663.8 L848,661.1 L847,658.9 L846,657.1 L845,655.6 L844,654.5 L843,653.6 L842,652.9 L841,652.3 L840,651.9 L839,651.5 L838,651.1 L837,650.9 L836,650.6 L835,650.3 L834,650 L833,649.8 L832,649.4 L831,649 L830,648.6 L829,648 L828,647.4 L827,646.7 L826,645.9 L825,645 L824,644 L823,642.8 L822,641.6 L821,640.4 L820,639.2 L819,638.2 L818,637.2 L817,636.5 L816,636.1 L815,636 L814,636.2 L813,636.6 L812,637.3 L811,638.2 L810,639.3 L809,640.6 L808,642 L807,643.6 L806,645.3 L805,647 L804,648.7 L803,650.2 L802,651.6 L801,652.7 L800,653.4 L799,653.7 L798,653.5 L797,652.9 L796,651.9 L795,650.4 L794,648.4 L793,646.1 L792,643.3 L791,640 L790,636.3 L789,632.1 L788,627.4 L787,622.3 L786,616.7 L785,610.9 L784,605 L783,599.1 L782,593.3 L781,587.8 L780,582.7 L779,578.2 L778,574.2 L777,570.9 L776,568.2 L775,566.2 L774,565 L773,564.6 L772,565 L771,566.2 L770,568.2 L769,570.9 L768,574.1 L767,577.8 L766,581.9 L765,586.4 L764,591.1 L763,596.2 L762,601.6 L761,607.3 L760,613.4 L759,619.7 L758,626.4 L757,633.4 L756,640.6 L755,647.8 L754,655 L753,661.9 L752,668.6 L751,674.8 L750,680.6 L749,686 L748,690.9 L747,695.6 L746,699.9 L745,704 L744,707.8 L743,711.4 L742,714.9 L741,718.3 L740,721.6 L739,724.9 L738,728.1 L737,731.4 L736,734.7 L735,738.2 L734,741.7 L733,745.5 L732,749.4 L731,753.5 L730,757.7 L729,761.9 L728,766 L727,770.1 L726,773.9 L725,777.5 L724,780.7 L723,783.6 L722,786.1 L721,788.2 L720,789.7 L719,790.8 L718,791.3 L717,791.2 L716,790.4 L715,788.8 L714,786.5 L713,783.2 L712,779 L711,773.8 L710,767.8 L709,760.8 L708,753 L707,744.2 L706,734.7 L705,724.6 L704,713.8 L703,702.7 L702,691.3 L701,679.7 L700,668 L699,656.4 L698,645 L697,633.9 L696,623.2 L695,613 L694,603.5 L693,594.6 L692,586.5 L691,579.1 L690,572.5 L689,566.8 L688,562 L687,558 L686,554.8 L685,552.3 L684,550.4 L683,549.1 L682,548.4 L681,548 L680,548.1 L679,548.4 L678,549 L677,549.9 L676,551 L675,552.3 L674,553.8 L673,555.4 L672,557 L671,558.7 L670,560.5 L669,562.3 L668,564 L667,565.8 L666,567.7 L665,569.6 L664,571.5 L663,573.6 L662,575.8 L661,578.1 L660,580.5 L659,583.1 L658,585.8 L657,588.5 L656,591.3 L655,594 L654,596.7 L653,599.3 L652,601.7 L651,603.9 L650,606 L649,607.9 L648,609.7 L647,611.3 L646,612.9 L645,614.2 L644,615.5 L643,616.7 L642,617.7 L641,618.6 L640,619.4 L639,620 L638,620.4 L637,620.6 L636,620.6 L635,620.5 L634,620.2 L633,619.8 L632,619.2 L631,618.6 L630,617.8 L629,616.9 L628,616 L627,615 L626,614 L625,613 L624,612.1 L623,611.4 L622,610.8 L621,610.5 L620,610.6 L619,610.9 L618,611.6 L617,612.6 L616,613.9 L615,615.5 L614,617.3 L613,619.4 L612,621.6 L611,624 L610,626.4 L609,628.9 L608,631.4 L607,633.8 L606,636.1 L605,638.2 L604,640.1 L603,641.6 L602,642.6 L601,643 L600,642.8 L599,641.9 L598,640.4 L597,638.5 L596,636.1 L595,633.5 L594,630.4 L593,626.9 L592,622.9 L591,618.3 L590,613 L589,607.1 L588,600.6 L587,593.7 L586,586.7 L585,579.6 L584,572.7 L583,566.1 L582,560 L581,554.6 L580,549.7 L579,545.5 L578,542.1 L577,539.3 L576,537.2 L575,535.9 L574,535.5 L573,535.7 L572,536.8 L571,538.4 L570,540.7 L569,543.4 L568,546.6 L567,550.1 L566,554 L565,558 L564,562.2 L563,566.5 L562,570.7 L561,574.9 L560,579 L559,582.8 L558,586.4 L557,589.5 L556,592.3 L555,594.6 L554,596.4 L553,597.7 L552,598.4 L551,598.5 L550,597.9 L549,596.8 L548,595.2 L547,593.2 L546,590.7 L545,588 L544,585 L543,581.8 L542,578.4 L541,575 L540,571.5 L539,568 L538,564.6 L537,561.4 L536,558.4 L535,555.6 L534,553.4 L533,551.6 L532,550.5 L531,550.1 L530,550.5 L529,551.9 L528,554.1 L527,557.1 L526,560.8 L525,565.1 L524,569.9 L523,575.2 L522,580.9 L521,586.8 L520,593 L519,599.4 L518,605.9 L517,612.4 L516,619 L515,625.5 L514,631.9 L513,638.1 L512,644.1 L511,649.6 L510,654.8 L509,659.4 L508,663.5 L507,666.8 L506,669.4 L505,671.1 L504,671.9 L503,671.6 L502,670.2 L501,668 L500,665 L499,661.5 L498,657.5 L497,653.1 L496,648.3 L495,643 L494,637.4 L493,631.2 L492,624.7 L491,617.6 L490,610.3 L489,602.6 L488,594.7 L487,586.7 L486,578.6 L485,570.5 L484,562.5 L483,554.7 L482,547.3 L481,540.5 L480,534.4 L479,529.2 L478,524.9 L477,521.7 L476,519.4 L475,517.8 L474,516.9 L473,516.5 L472,516.5 L471,516.9 L470,517.5 L469,518.3 L468,519.3 L467,520.5 L466,521.7 L465,523 L464,524.3 L463,525.5 L462,526.7 L461,527.8 L460,528.8 L459,529.6 L458,530.3 L457,530.7 L456,530.9 L455,531 L454,531 L453,531 L452,530.9 L451,530.9 L450,531 L449,531.2 L448,531.5 L447,531.9 L446,532.4 L445,533 L444,533.6 L443,534.3 L442,535.3 L441,536.5 L440,538 L439,539.9 L438,542.3 L437,544.8 L436,547.6 L435,550.6 L434,553.6 L433,556.5 L432,559.4 L431,562.2 L430,564.9 L429,567.4 L428,569.8 L427,572.1 L426,574.2 L425,576.2 L424,578 L423,579.7 L422,581.3 L421,582.7 L420,584 L419,585.3 L418,586.6 L417,588 L416,589.4 L415,591.1 L414,592.9 L413,594.9 L412,597.3 L411,600 L410,603 L409,606.3 L408,610 L407,613.8 L406,617.9 L405,622.1 L404,626.4 L403,630.8 L402,635.2 L401,639.6 L400,643.9 L399,648.2 L398,652.4 L397,656.4 L396,660.2 L395,663.8 L394,667.2 L393,670.3 L392,673.1 L391,675.6 L390,677.8 L389,679.6 L388,681 L387,682.1 L386,682.8 L385,683 L384,682.8 L383,682.2 L382,681.1 L381,679.5 L380,677.5 L379,675.1 L378,672.1 L377,668.7 L376,664.9 L375,660.8 L374,656.6 L373,652.3 L372,648.1 L371,644.1 L370,640.5 L369,637.3 L368,634.7 L367,632.7 L366,631.4 L365,630.9 L364,631.2 L363,632.5 L362,634.6 L361,637.3 L360,640.5 L359,644.1 L358,648 L357,652 L356,656.2 L355,660.4 L354,664.6 L353,668.6 L352,672.4 L351,675.9 L350,679 L349,681.8 L348,684 L347,685.7 L346,686.7 L345,687.1 L344,686.8 L343,685.6 L342,683.7 L341,681.2 L340,678.1 L339,674.6 L338,670.8 L337,666.7 L336,662.4 L335,658 L334,653.6 L333,649.3 L332,645 L331,640.7 L330,636.5 L329,632.4 L328,628.3 L327,624.3 L326,620.5 L325,616.8 L324,613.1 L323,609.7 L322,606.4 L321,603.2 L320,600.2 L319,597.2 L318,594.4 L317,591.6 L316,588.9 L315,586.3 L314,583.7 L313,581 L312,578.4 L311,575.7 L310,573 L309,570.2 L308,567.5 L307,564.8 L306,562.3 L305,560.1 L304,558.1 L303,556.6 L302,555.5 L301,555 L300,555.2 L299,555.9 L298,557.1 L297,558.7 L296,560.7 L295,563 L294,565.5 L293,568.1 L292,570.7 L291,573.5 L290,576.3 L289,579 L288,581.7 L287,584.3 L286,586.7 L285,588.9 L284,590.9 L283,592.7 L282,594.1 L281,595.2 L280,595.9 L279,596.2 L278,596.1 L277,595.6 L276,594.6 L275,593.4 L274,591.8 L273,589.9 L272,587.8 L271,585.5 L270,583 L269,580.4 L268,577.8 L267,575.2 L266,572.8 L265,570.8 L264,569.1 L263,567.9 L262,567.4 L261,567.6 L260,568.6 L259,570.4 L258,572.9 L257,576 L256,579.4 L255,583 L254,586.7 L253,590.6 L252,594.5 L251,598.4 L250,602.5 L249,606.6 L248,610.9 L247,615.2 L246,619.5 L245,623.9 L244,628.2 L243,632.4 L242,636.4 L241,640.3 L240,643.9 L239,647.2 L238,650.2 L237,652.8 L236,655.1 L235,657 L234,658.5 L233,659.7 L232,660.5 L231,660.9 L230,661 L229,660.7 L228,660.2 L227,659.3 L226,658.2 L225,656.9 L224,655.5 L223,653.9 L222,652.1 L221,650.3 L220,648.5 L219,646.7 L218,645 L217,643.4 L216,641.9 L215,640.6 L214,639.5 L213,638.8 L212,638.3 L211,638.3 L210,638.6 L209,639.5 L208,640.9 L207,643 L206,645.7 L205,649.1 L204,653.3 L203,658 L202,663 L201,668.2 L200,673.4 L199,678.5 L198,683.6 L197,688.7 L196,693.7 L195,698.4 L194,702.7 L193,706.8 L192,710.7 L191,714.5 Z" fill="url(#gT)"/>
</g>
<rect x="191.0" y="25.0" width="1502.0" height="884.0" fill="none" stroke="#000" stroke-width="3.6"/>
<path d="M191,909.0 L191,926.5 M441.3,909.0 L441.3,926.5 M691.7,909.0 L691.7,926.5 M942,909.0 L942,926.5 M1192.3,909.0 L1192.3,926.5 M1442.7,909.0 L1442.7,926.5 M1693,909.0 L1693,926.5 M316.2,909.0 L316.2,919.0 M566.5,909.0 L566.5,919.0 M816.8,909.0 L816.8,919.0 M1067.2,909.0 L1067.2,919.0 M1317.5,909.0 L1317.5,919.0 M1567.8,909.0 L1567.8,919.0 M191.0,816.9 L173.5,816.9 M191.0,700.1 L173.5,700.1 M191.0,583.3 L173.5,583.3 M191.0,466.5 L173.5,466.5 M191.0,349.7 L173.5,349.7 M191.0,232.9 L173.5,232.9 M191.0,116.1 L173.5,116.1 M191.0,875.3 L181.0,875.3 M191.0,758.5 L181.0,758.5 M191.0,641.7 L181.0,641.7 M191.0,524.9 L181.0,524.9 M191.0,408.1 L181.0,408.1 M191.0,291.3 L181.0,291.3 M191.0,174.5 L181.0,174.5 M191.0,57.7 L181.0,57.7" stroke="#000" stroke-width="3.6" fill="none"/>
<g font-family="Liberation Serif" font-weight="bold" font-size="42.5" fill="#000"><text x="191" y="971" text-anchor="middle">-3</text><text x="441.3" y="971" text-anchor="middle">-2</text><text x="691.7" y="971" text-anchor="middle">-1</text><text x="942" y="971" text-anchor="middle">0</text><text x="1192.3" y="971" text-anchor="middle">1</text><text x="1442.7" y="971" text-anchor="middle">2</text><text x="1693" y="971" text-anchor="middle">3</text><text x="156.5" y="830.9" text-anchor="end">-3</text><text x="156.5" y="714.1" text-anchor="end">-2</text><text x="156.5" y="597.3" text-anchor="end">-1</text><text x="156.5" y="480.5" text-anchor="end">0</text><text x="156.5" y="363.7" text-anchor="end">1</text><text x="156.5" y="246.9" text-anchor="end">2</text><text x="156.5" y="130.1" text-anchor="end">3</text></g>
<text x="941.5" y="1040" font-family="Liberation Serif" font-weight="bold" font-size="50" text-anchor="middle">Energy [eV]</text>
<text transform="translate(61,467.3) rotate(-90)" font-family="Liberation Serif" font-weight="bold" font-size="50" text-anchor="middle">DOS [arb. unit]</text>
<rect x="1441.5" y="46.5" width="231" height="189" rx="7.5" fill="#fff" fill-opacity="0.8" stroke="#e0e0e0" stroke-width="4.5"/>
<path d="M1457,77.4 L1543,77.4" stroke="#1f77b4" stroke-width="2.6"/>
<text x="1575" y="92.4" font-family="Liberation Serif" font-weight="bold" font-size="41.5">Pd</text>
<path d="M1457,136.2 L1543,136.2" stroke="#ff7f0e" stroke-width="2.6"/>
<text x="1575" y="151.2" font-family="Liberation Serif" font-weight="bold" font-size="41.5">S</text>
<path d="M1457,195.0 L1543,195.0" stroke="#000000" stroke-width="2.6"/>
<text x="1575" y="210" font-family="Liberation Serif" font-weight="bold" font-size="41.5">total</text>
</svg></body></html>
